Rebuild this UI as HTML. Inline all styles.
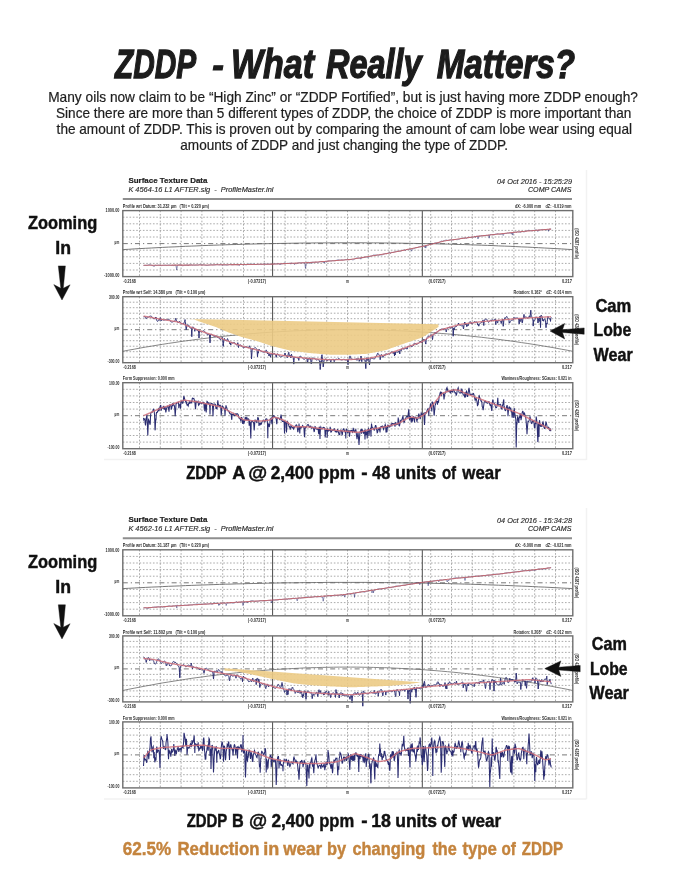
<!DOCTYPE html><html><head><meta charset="utf-8"><title>ZDDP - What Really Matters?</title>
<style>html,body{margin:0;padding:0;background:#fff;}body{width:688px;height:890px;overflow:hidden;position:relative;}svg{position:absolute;left:0;top:0;display:block;}text{font-family:"Liberation Sans",Arial,Helvetica,sans-serif;}</style></head><body>
<svg width="688" height="890" viewBox="0 0 688 890">
<rect x="0" y="0" width="688" height="890" fill="#fff"/>
<text font-size="40.5" font-weight="bold" font-style="italic" fill="#1c1c1c" stroke="#1c1c1c" stroke-width="1.3"><tspan x="115.00" y="78.4" textLength="80.07" lengthAdjust="spacingAndGlyphs">ZDDP</tspan> <tspan x="212.2" y="77.3" font-size="35" stroke-width="1.1">-</tspan> <tspan x="231.00" y="78.4" textLength="83.00" lengthAdjust="spacingAndGlyphs">What</tspan> <tspan x="326.00" y="78.4" textLength="95.64" lengthAdjust="spacingAndGlyphs">Really</tspan> <tspan x="436.70" y="78.4" textLength="138.30" lengthAdjust="spacingAndGlyphs">Matters?</tspan></text>
<text x="48.20" y="101.9" font-size="14.2" fill="#1e1e1e" stroke="#1e1e1e" stroke-width="0.2" textLength="589.79" lengthAdjust="spacingAndGlyphs" >Many oils now claim to be “High Zinc” or “ZDDP Fortified”, but is just having more ZDDP enough?</text>
<text x="56.00" y="118.0" font-size="14.2" fill="#1e1e1e" stroke="#1e1e1e" stroke-width="0.2" textLength="575.31" lengthAdjust="spacingAndGlyphs" >Since there are more than 5 different types of ZDDP, the choice of ZDDP is more important than</text>
<text x="56.60" y="133.8" font-size="14.2" fill="#1e1e1e" stroke="#1e1e1e" stroke-width="0.2" textLength="575.41" lengthAdjust="spacingAndGlyphs" >the amount of ZDDP. This is proven out by comparing the amount of cam lobe wear using equal</text>
<text x="180.30" y="149.5" font-size="14.2" fill="#1e1e1e" stroke="#1e1e1e" stroke-width="0.2" textLength="327.71" lengthAdjust="spacingAndGlyphs" >amounts of ZDDP and just changing the type of ZDDP.</text>
<path d="M586.5,170V460M104,459.5H586.5M586.5,508V799M104,799H586.5" stroke="#f2f2f2" stroke-width="1.5" fill="none"/>
<text x="128.4" y="183.0" font-size="7.6" font-weight="bold" fill="#1e1e1e" stroke="#1e1e1e" stroke-width="0.2" textLength="79" lengthAdjust="spacingAndGlyphs">Surface Texture Data</text>
<text x="128.4" y="192.2" font-size="7.4" font-style="italic" fill="#2a2a2a" stroke="#2a2a2a" stroke-width="0.15" textLength="145" lengthAdjust="spacingAndGlyphs" xml:space="preserve">K 4564-16 L1 AFTER.sig  -  ProfileMaster.ini</text>
<text x="572" y="183.6" font-size="7.4" font-style="italic" fill="#2a2a2a" stroke="#2a2a2a" stroke-width="0.15" text-anchor="end" textLength="75" lengthAdjust="spacingAndGlyphs">04 Oct 2016 - 15:25:29</text>
<text x="571.5" y="192.2" font-size="7.4" font-style="italic" fill="#2a2a2a" stroke="#2a2a2a" stroke-width="0.15" text-anchor="end" textLength="43.5" lengthAdjust="spacingAndGlyphs">COMP CAMS</text>
<line x1="122.8" y1="199.0" x2="572" y2="199.0" stroke="#8e8e8e" stroke-width="2"/>
<path d="M122.8,217.2H572.8M122.8,223.8H572.8M122.8,230.4H572.8M122.8,237.0H572.8M122.8,250.2H572.8M122.8,256.8H572.8M122.8,263.4H572.8M122.8,270.0H572.8" stroke="#8f8f8f" stroke-width="0.75" stroke-dasharray="1.6 1.75" fill="none"/>
<path d="M139.5,210.6V276.6M160.3,210.6V276.6M181.1,210.6V276.6M201.9,210.6V276.6M222.7,210.6V276.6M243.5,210.6V276.6M264.3,210.6V276.6M285.1,210.6V276.6M305.9,210.6V276.6M326.7,210.6V276.6M347.5,210.6V276.6M368.3,210.6V276.6M389.1,210.6V276.6M409.9,210.6V276.6M430.7,210.6V276.6M451.5,210.6V276.6M472.3,210.6V276.6M493.1,210.6V276.6M513.9,210.6V276.6M534.7,210.6V276.6M555.5,210.6V276.6" stroke="#8f8f8f" stroke-width="0.75" stroke-dasharray="1.6 1.75" fill="none"/>
<line x1="122.8" y1="243.6" x2="572.8" y2="243.6" stroke="#6a6a6a" stroke-width="0.9" stroke-dasharray="5 3 1.2 3"/>
<line x1="272.6" y1="210.6" x2="272.6" y2="276.6" stroke="#4a4a4a" stroke-width="1"/>
<line x1="422.3" y1="210.6" x2="422.3" y2="276.6" stroke="#4a4a4a" stroke-width="1"/>
<path d="M122.8,249.6L128.5,249.3L134.2,248.9L139.9,248.6L145.6,248.3L151.3,248.0L157.0,247.7L162.7,247.4L168.4,247.1L174.1,246.9L179.8,246.6L185.5,246.3L191.2,246.1L196.9,245.9L202.5,245.6L208.2,245.4L213.9,245.2L219.6,245.0L225.3,244.8L231.0,244.6L236.7,244.5L242.4,244.3L248.1,244.1L253.8,244.0L259.5,243.8L265.2,243.7L270.9,243.6L276.6,243.5L282.3,243.4L288.0,243.3L293.7,243.2L299.4,243.1L305.1,243.0L310.8,243.0L316.5,242.9L322.2,242.9L327.9,242.9L333.6,242.8L339.3,242.8L345.0,242.8L350.6,242.8L356.3,242.8L362.0,242.8L367.7,242.9L373.4,242.9L379.1,242.9L384.8,243.0L390.5,243.0L396.2,243.1L401.9,243.2L407.6,243.3L413.3,243.4L419.0,243.5L424.7,243.6L430.4,243.7L436.1,243.8L441.8,244.0L447.5,244.1L453.2,244.3L458.9,244.5L464.6,244.6L470.3,244.8L476.0,245.0L481.7,245.2L487.4,245.4L493.1,245.6L498.7,245.9L504.4,246.1L510.1,246.3L515.8,246.6L521.5,246.9L527.2,247.1L532.9,247.4L538.6,247.7L544.3,248.0L550.0,248.3L555.7,248.6L561.4,248.9L567.1,249.3L572.8,249.6" stroke="#6a6a6a" stroke-width="0.9" fill="none"/>
<path d="M143.5,265.5L143.8,265.5L144.0,265.5L144.2,265.5L144.5,265.4L144.8,265.4L145.0,265.4L145.2,265.4L145.5,265.4L145.8,265.4L146.0,265.4L146.2,265.4L146.5,265.4L146.8,265.4L147.0,265.4L147.2,265.3L147.5,265.3L147.8,265.2L148.0,265.1L148.2,265.0L148.5,264.9L148.8,264.8L149.0,264.8L149.2,264.7L149.5,264.7L149.8,264.7L150.0,264.7L150.2,264.7L150.5,264.8L150.8,264.9L151.0,265.0L151.2,265.1L151.5,265.2L151.8,265.2L152.0,265.3L152.2,265.4L152.5,265.6L152.8,265.4L153.0,265.3L153.2,265.4L153.5,265.8L153.8,266.3L154.0,266.7L154.2,266.2L154.5,265.7L154.8,265.2L155.0,265.1L155.2,265.1L155.5,265.2L155.8,265.3L156.0,265.3L156.2,265.4L156.5,265.4L156.8,265.4L157.0,265.4L157.2,265.3L157.5,265.3L157.8,265.3L158.0,265.2L158.2,265.2L158.5,265.2L158.8,265.2L159.0,265.2L159.2,265.2L159.5,265.3L159.8,265.3L160.0,265.3L160.2,265.4L160.5,265.4L160.8,265.5L161.0,265.5L161.2,265.5L161.5,265.6L161.8,265.6L162.0,265.6L162.2,265.5L162.5,265.5L162.8,265.4L163.0,265.4L163.2,265.3L163.5,265.3L163.8,265.2L164.0,265.2L164.2,265.2L164.5,265.2L164.8,265.2L165.0,265.2L165.2,265.2L165.5,265.2L165.8,265.3L166.0,265.3L166.2,265.3L166.5,265.4L166.8,265.4L167.0,265.3L167.2,265.3L167.5,265.3L167.8,265.2L168.0,265.2L168.2,265.2L168.5,265.1L168.8,265.1L169.0,265.1L169.2,265.1L169.5,265.1L169.8,265.1L170.0,265.1L170.2,265.2L170.5,265.2L170.8,265.3L171.0,265.3L171.2,265.4L171.5,265.4L171.8,265.4L172.0,265.4L172.2,265.4L172.5,265.4L172.8,265.3L173.0,265.3L173.2,265.4L173.5,265.6L173.8,265.8L174.0,265.6L174.2,265.3L174.5,265.2L174.8,265.1L175.0,265.1L175.2,265.1L175.5,265.1L175.8,265.1L176.0,265.3L176.2,267.0L176.5,268.5L176.8,270.0L177.0,268.3L177.2,266.8L177.5,265.3L177.8,265.2L178.0,265.2L178.2,265.1L178.5,265.0L178.8,264.9L179.0,264.9L179.2,264.8L179.5,264.8L179.8,264.8L180.0,264.8L180.2,264.9L180.5,264.9L180.8,265.0L181.0,265.1L181.2,265.2L181.5,265.3L181.8,265.4L182.0,265.5L182.2,265.6L182.5,265.7L182.8,265.7L183.0,265.7L183.2,265.6L183.5,265.6L183.8,265.5L184.0,265.4L184.2,265.3L184.5,265.2L184.8,265.1L185.0,265.1L185.2,265.1L185.5,265.4L185.8,265.1L186.0,265.1L186.2,265.1L186.5,265.1L186.8,265.1L187.0,265.1L187.2,265.1L187.5,265.1L187.8,265.1L188.0,265.1L188.2,265.7L188.5,265.1L188.8,264.9L189.0,264.9L189.2,264.9L189.5,264.8L189.8,264.8L190.0,264.8L190.2,264.8L190.5,264.8L190.8,264.8L191.0,264.8L191.2,264.8L191.5,264.8L191.8,264.8L192.0,265.2L192.2,265.5L192.5,265.2L192.8,264.9L193.0,264.9L193.2,265.0L193.5,265.1L193.8,265.1L194.0,265.2L194.2,265.2L194.5,265.2L194.8,265.3L195.0,265.3L195.2,265.2L195.5,265.2L195.8,265.2L196.0,265.2L196.2,265.1L196.5,265.1L196.8,265.1L197.0,265.1L197.2,265.1L197.5,265.1L197.8,265.1L198.0,265.0L198.2,265.0L198.5,264.9L198.8,264.8L199.0,264.7L199.2,264.6L199.5,264.5L199.8,264.5L200.0,264.5L200.2,264.5L200.5,264.6L200.8,264.7L201.0,264.8L201.2,264.8L201.5,264.9L201.8,264.9L202.0,264.9L202.2,264.9L202.5,264.9L202.8,264.9L203.0,264.8L203.2,264.8L203.5,264.8L203.8,264.8L204.0,264.9L204.2,264.9L204.5,265.0L204.8,265.1L205.0,265.2L205.2,265.3L205.5,265.3L205.8,265.4L206.0,265.5L206.2,265.5L206.5,265.5L206.8,265.5L207.0,265.5L207.2,265.5L207.5,265.5L207.8,265.4L208.0,265.4L208.2,265.3L208.5,265.2L208.8,265.2L209.0,265.1L209.2,265.0L209.5,265.0L209.8,264.9L210.0,264.8L210.2,264.8L210.5,264.8L210.8,264.7L211.0,264.7L211.2,264.7L211.5,264.7L211.8,264.7L212.0,264.8L212.2,264.8L212.5,264.9L212.8,264.9L213.0,265.0L213.2,265.0L213.5,265.0L213.8,265.0L214.0,265.0L214.2,265.0L214.5,265.0L214.8,264.9L215.0,264.9L215.2,264.9L215.5,264.8L215.8,264.8L216.0,264.8L216.2,264.7L216.5,264.7L216.8,264.6L217.0,264.6L217.2,264.6L217.5,264.6L217.8,264.6L218.0,264.6L218.2,264.7L218.5,264.8L218.8,265.1L219.0,264.9L219.2,264.8L219.5,264.8L219.8,264.8L220.0,264.7L220.2,264.7L220.5,264.7L220.8,264.7L221.0,264.8L221.2,264.8L221.5,264.9L221.8,264.9L222.0,264.9L222.2,264.9L222.5,265.0L222.8,265.2L223.0,265.0L223.2,264.9L223.5,264.9L223.8,264.9L224.0,264.9L224.2,264.9L224.5,264.9L224.8,264.9L225.0,264.9L225.2,264.9L225.5,264.9L225.8,265.0L226.0,265.0L226.2,265.1L226.5,265.1L226.8,265.1L227.0,265.1L227.2,265.1L227.5,265.1L227.8,265.0L228.0,265.0L228.2,264.9L228.5,264.8L228.8,264.7L229.0,264.6L229.2,264.5L229.5,264.5L229.8,264.5L230.0,264.5L230.2,264.5L230.5,264.5L230.8,264.6L231.0,264.6L231.2,264.7L231.5,264.7L231.8,264.8L232.0,264.8L232.2,264.8L232.5,264.8L232.8,264.8L233.0,264.8L233.2,264.8L233.5,264.7L233.8,264.7L234.0,264.6L234.2,264.6L234.5,264.6L234.8,264.6L235.0,264.6L235.2,264.6L235.5,264.6L235.8,264.6L236.0,264.7L236.2,264.7L236.5,264.7L236.8,264.7L237.0,264.8L237.2,264.8L237.5,264.8L237.8,264.8L238.0,264.8L238.2,264.7L238.5,264.7L238.8,265.0L239.0,265.4L239.2,265.7L239.5,265.3L239.8,264.8L240.0,264.4L240.2,264.4L240.5,264.4L240.8,264.4L241.0,264.4L241.2,264.4L241.5,264.5L241.8,264.5L242.0,264.6L242.2,264.6L242.5,264.7L242.8,264.7L243.0,264.7L243.2,264.7L243.5,264.6L243.8,264.6L244.0,264.6L244.2,264.6L244.5,264.6L244.8,264.6L245.0,264.6L245.2,264.7L245.5,264.7L245.8,264.8L246.0,264.8L246.2,264.8L246.5,264.8L246.8,264.7L247.0,264.7L247.2,264.6L247.5,264.5L247.8,264.4L248.0,264.3L248.2,264.2L248.5,264.1L248.8,264.1L249.0,264.0L249.2,264.0L249.5,264.1L249.8,264.1L250.0,264.2L250.2,264.3L250.5,264.3L250.8,264.4L251.0,264.4L251.2,264.4L251.5,264.4L251.8,264.3L252.0,264.3L252.2,264.3L252.5,264.2L252.8,264.2L253.0,264.2L253.2,264.2L253.5,264.1L253.8,264.2L254.0,264.2L254.2,264.2L254.5,264.3L254.8,264.3L255.0,264.4L255.2,264.4L255.5,264.5L255.8,264.5L256.0,264.5L256.2,264.5L256.5,264.5L256.8,264.5L257.0,264.5L257.2,264.5L257.5,264.5L257.8,264.5L258.0,264.5L258.2,264.6L258.5,264.4L258.8,264.4L259.0,264.4L259.2,264.4L259.5,264.4L259.8,264.4L260.0,264.4L260.2,264.4L260.5,264.4L260.8,264.5L261.0,264.5L261.2,264.5L261.5,264.5L261.8,264.5L262.0,264.4L262.2,264.4L262.5,264.3L262.8,264.3L263.0,264.2L263.2,264.2L263.5,264.1L263.8,264.0L264.0,264.0L264.2,264.0L264.5,263.9L264.8,264.0L265.0,264.0L265.2,264.0L265.5,264.0L265.8,264.1L266.0,264.1L266.2,264.2L266.5,264.2L266.8,264.2L267.0,264.2L267.2,264.2L267.5,264.2L267.8,264.2L268.0,264.1L268.2,264.1L268.5,264.1L268.8,264.1L269.0,264.1L269.2,264.1L269.5,264.1L269.8,264.2L270.0,264.3L270.2,264.5L270.5,264.4L270.8,264.3L271.0,264.3L271.2,264.3L271.5,264.3L271.8,264.3L272.0,264.2L272.2,264.2L272.5,264.2L272.8,264.1L273.0,264.1L273.2,264.1L273.5,264.1L273.8,264.1L274.0,264.1L274.2,264.0L274.5,264.0L274.8,264.0L275.0,263.9L275.2,263.9L275.5,263.9L275.8,263.8L276.0,263.8L276.2,263.8L276.5,263.8L276.8,263.8L277.0,263.8L277.2,263.8L277.5,263.8L277.8,263.8L278.0,263.8L278.2,263.8L278.5,263.8L278.8,263.8L279.0,263.8L279.2,263.8L279.5,264.0L279.8,264.4L280.0,264.9L280.2,264.5L280.5,264.1L280.8,264.0L281.0,264.0L281.2,264.0L281.5,263.9L281.8,263.9L282.0,263.9L282.2,263.8L282.5,263.7L282.8,263.7L283.0,263.6L283.2,263.5L283.5,263.4L283.8,263.3L284.0,263.2L284.2,263.1L284.5,263.1L284.8,263.1L285.0,263.1L285.2,263.2L285.5,263.2L285.8,263.3L286.0,263.4L286.2,263.4L286.5,263.5L286.8,263.5L287.0,263.5L287.2,263.5L287.5,263.4L287.8,263.4L288.0,263.4L288.2,263.4L288.5,263.4L288.8,263.4L289.0,263.4L289.2,263.3L289.5,263.3L289.8,263.2L290.0,263.1L290.2,263.1L290.5,263.6L290.8,264.2L291.0,263.6L291.2,263.0L291.5,263.0L291.8,263.1L292.0,263.2L292.2,263.3L292.5,263.3L292.8,263.4L293.0,263.4L293.2,263.4L293.5,263.5L293.8,263.5L294.0,263.6L294.2,264.1L294.5,264.6L294.8,264.2L295.0,263.7L295.2,263.6L295.5,263.6L295.8,263.6L296.0,263.6L296.2,263.6L296.5,263.6L296.8,263.5L297.0,263.4L297.2,263.3L297.5,263.2L297.8,263.1L298.0,263.0L298.2,262.9L298.5,262.8L298.8,262.8L299.0,262.7L299.2,262.7L299.5,262.7L299.8,262.7L300.0,262.8L300.2,262.8L300.5,262.8L300.8,262.8L301.0,262.8L301.2,262.8L301.5,262.8L301.8,262.8L302.0,262.8L302.2,262.8L302.5,262.9L302.8,262.9L303.0,262.9L303.2,262.9L303.5,262.9L303.8,262.9L304.0,262.9L304.2,262.8L304.5,262.8L304.8,262.7L305.0,264.0L305.2,266.2L305.5,268.3L305.8,266.5L306.0,264.9L306.2,264.2L306.5,263.8L306.8,262.9L307.0,262.4L307.2,262.4L307.5,262.4L307.8,262.4L308.0,262.4L308.2,262.4L308.5,262.4L308.8,262.4L309.0,262.5L309.2,262.5L309.5,262.7L309.8,263.6L310.0,263.1L310.2,262.6L310.5,262.3L310.8,262.3L311.0,262.2L311.2,262.2L311.5,262.1L311.8,262.6L312.0,263.4L312.2,262.6L312.5,262.1L312.8,262.1L313.0,262.1L313.2,262.2L313.5,262.2L313.8,262.3L314.0,262.3L314.2,262.3L314.5,262.3L314.8,262.3L315.0,262.3L315.2,262.2L315.5,262.2L315.8,262.3L316.0,262.3L316.2,262.3L316.5,262.3L316.8,262.3L317.0,262.4L317.2,262.4L317.5,262.4L317.8,262.4L318.0,262.4L318.2,262.3L318.5,262.3L318.8,262.2L319.0,262.1L319.2,262.0L319.5,261.9L319.8,261.8L320.0,261.7L320.2,261.6L320.5,261.6L320.8,261.6L321.0,261.6L321.2,261.6L321.5,261.6L321.8,261.6L322.0,261.7L322.2,261.7L322.5,261.8L322.8,261.8L323.0,261.8L323.2,261.8L323.5,262.1L323.8,262.7L324.0,262.1L324.2,262.0L324.5,262.8L324.8,262.0L325.0,261.8L325.2,261.8L325.5,261.7L325.8,261.9L326.0,262.1L326.2,262.2L326.5,261.9L326.8,261.6L327.0,261.3L327.2,261.2L327.5,261.1L327.8,261.0L328.0,260.9L328.2,260.9L328.5,260.8L328.8,260.8L329.0,260.8L329.2,260.8L329.5,260.8L329.8,260.8L330.0,260.8L330.2,260.8L330.5,260.8L330.8,260.8L331.0,260.8L331.2,260.8L331.5,260.8L331.8,260.8L332.0,260.8L332.2,260.8L332.5,260.7L332.8,260.7L333.0,260.7L333.2,260.7L333.5,260.7L333.8,260.7L334.0,260.6L334.2,260.6L334.5,260.6L334.8,260.6L335.0,260.5L335.2,260.5L335.5,260.5L335.8,260.4L336.0,260.4L336.2,260.3L336.5,260.3L336.8,260.2L337.0,260.1L337.2,260.0L337.5,259.9L337.8,259.8L338.0,259.7L338.2,259.7L338.5,259.8L338.8,259.8L339.0,259.8L339.2,259.9L339.5,260.0L339.8,260.0L340.0,260.0L340.2,260.0L340.5,260.0L340.8,260.0L341.0,260.0L341.2,260.0L341.5,259.9L341.8,259.9L342.0,260.0L342.2,260.0L342.5,260.0L342.8,260.1L343.0,260.1L343.2,260.1L343.5,260.1L343.8,260.1L344.0,260.0L344.2,259.9L344.5,259.8L344.8,259.7L345.0,259.7L345.2,259.6L345.5,259.6L345.8,259.6L346.0,259.6L346.2,259.6L346.5,259.6L346.8,259.6L347.0,259.6L347.2,259.6L347.5,259.6L347.8,259.6L348.0,259.6L348.2,259.6L348.5,259.6L348.8,259.6L349.0,259.7L349.2,259.7L349.5,259.7L349.8,259.6L350.0,259.6L350.2,259.6L350.5,259.5L350.8,259.5L351.0,259.5L351.2,259.5L351.5,259.5L351.8,259.6L352.0,259.6L352.2,259.7L352.5,259.8L352.8,259.8L353.0,259.8L353.2,259.8L353.5,259.7L353.8,259.6L354.0,259.5L354.2,259.4L354.5,259.3L354.8,259.1L355.0,258.9L355.2,258.8L355.5,258.6L355.8,258.4L356.0,258.1L356.2,257.9L356.5,258.0L356.8,258.1L357.0,258.1L357.2,258.1L357.5,258.1L357.8,258.1L358.0,258.2L358.2,258.2L358.5,258.3L358.8,258.3L359.0,258.3L359.2,258.3L359.5,258.3L359.8,258.2L360.0,258.2L360.2,258.1L360.5,258.5L360.8,259.2L361.0,258.5L361.2,258.0L361.5,257.9L361.8,257.9L362.0,257.8L362.2,257.7L362.5,257.7L362.8,257.6L363.0,257.5L363.2,257.4L363.5,257.6L363.8,257.8L364.0,258.0L364.2,257.7L364.5,257.4L364.8,257.1L365.0,257.0L365.2,257.0L365.5,257.0L365.8,257.0L366.0,257.0L366.2,257.0L366.5,257.0L366.8,257.0L367.0,257.0L367.2,257.1L367.5,257.2L367.8,257.2L368.0,257.2L368.2,257.2L368.5,257.2L368.8,257.1L369.0,256.9L369.2,256.8L369.5,256.7L369.8,256.5L370.0,256.4L370.2,256.3L370.5,256.2L370.8,256.1L371.0,256.0L371.2,256.0L371.5,255.9L371.8,255.8L372.0,255.7L372.2,255.6L372.5,255.5L372.8,255.4L373.0,255.3L373.2,255.2L373.5,255.1L373.8,255.0L374.0,255.0L374.2,255.0L374.5,255.1L374.8,255.0L375.0,255.0L375.2,255.0L375.5,255.0L375.8,255.1L376.0,255.1L376.2,255.1L376.5,255.1L376.8,255.1L377.0,255.1L377.2,255.1L377.5,255.1L377.8,255.1L378.0,255.2L378.2,255.2L378.5,255.2L378.8,255.2L379.0,255.1L379.2,255.1L379.5,255.0L379.8,255.0L380.0,254.9L380.2,254.9L380.5,254.9L380.8,254.9L381.0,254.9L381.2,254.9L381.5,254.9L381.8,254.9L382.0,254.8L382.2,254.8L382.5,254.7L382.8,254.6L383.0,254.5L383.2,254.4L383.5,254.2L383.8,254.1L384.0,254.0L384.2,253.9L384.5,253.8L384.8,253.7L385.0,253.6L385.2,253.6L385.5,253.6L385.8,253.6L386.0,253.6L386.2,253.6L386.5,253.6L386.8,253.5L387.0,253.4L387.2,253.4L387.5,253.3L387.8,253.2L388.0,253.0L388.2,252.9L388.5,252.8L388.8,252.8L389.0,252.7L389.2,252.6L389.5,252.5L389.8,252.4L390.0,252.7L390.2,253.1L390.5,253.5L390.8,253.0L391.0,252.6L391.2,252.3L391.5,252.3L391.8,252.4L392.0,252.4L392.2,252.4L392.5,252.4L392.8,252.4L393.0,252.4L393.2,252.4L393.5,252.3L393.8,252.3L394.0,252.2L394.2,252.1L394.5,252.0L394.8,251.9L395.0,251.8L395.2,251.7L395.5,251.6L395.8,251.5L396.0,251.4L396.2,251.4L396.5,251.3L396.8,251.3L397.0,251.3L397.2,251.3L397.5,251.3L397.8,251.3L398.0,251.3L398.2,251.3L398.5,251.3L398.8,251.3L399.0,251.3L399.2,251.3L399.5,251.3L399.8,251.2L400.0,251.2L400.2,251.2L400.5,251.1L400.8,251.1L401.0,251.0L401.2,250.9L401.5,250.9L401.8,250.8L402.0,250.6L402.2,250.5L402.5,250.4L402.8,250.3L403.0,250.3L403.2,250.2L403.5,250.1L403.8,249.9L404.0,249.8L404.2,249.9L404.5,249.9L404.8,250.0L405.0,250.2L405.2,250.4L405.5,250.6L405.8,250.2L406.0,249.9L406.2,249.6L406.5,249.5L406.8,249.5L407.0,249.4L407.2,249.4L407.5,249.3L407.8,249.3L408.0,249.5L408.2,249.7L408.5,249.9L408.8,249.6L409.0,249.3L409.2,249.1L409.5,249.2L409.8,249.2L410.0,249.2L410.2,249.2L410.5,249.3L410.8,249.4L411.0,250.0L411.2,250.6L411.5,251.2L411.8,250.4L412.0,249.7L412.2,248.9L412.5,248.7L412.8,248.6L413.0,248.6L413.2,248.7L413.5,248.8L413.8,248.9L414.0,248.7L414.2,248.5L414.5,248.3L414.8,248.1L415.0,248.0L415.2,247.9L415.5,247.8L415.8,247.8L416.0,247.7L416.2,247.7L416.5,247.7L416.8,247.6L417.0,247.6L417.2,247.5L417.5,247.5L417.8,247.4L418.0,247.3L418.2,247.2L418.5,247.1L418.8,247.1L419.0,247.0L419.2,246.9L419.5,246.8L419.8,246.8L420.0,246.7L420.2,246.6L420.5,246.6L420.8,246.6L421.0,246.5L421.2,246.5L421.5,246.5L421.8,246.5L422.0,246.5L422.2,246.4L422.5,246.4L422.8,246.4L423.0,246.3L423.2,246.3L423.5,246.2L423.8,246.1L424.0,246.0L424.2,246.0L424.5,246.7L424.8,247.5L425.0,246.6L425.2,245.7L425.5,246.8L425.8,248.1L426.0,246.9L426.2,245.9L426.5,245.9L426.8,245.9L427.0,245.9L427.2,245.8L427.5,245.7L427.8,245.6L428.0,245.4L428.2,245.3L428.5,245.1L428.8,245.0L429.0,244.8L429.2,244.7L429.5,244.6L429.8,244.4L430.0,244.3L430.2,244.2L430.5,244.1L430.8,244.0L431.0,243.9L431.2,243.9L431.5,243.9L431.8,243.9L432.0,243.8L432.2,243.8L432.5,243.8L432.8,243.7L433.0,243.7L433.2,243.6L433.5,243.5L433.8,243.4L434.0,243.3L434.2,243.2L434.5,243.1L434.8,243.0L435.0,243.0L435.2,242.9L435.5,242.9L435.8,242.9L436.0,242.9L436.2,242.9L436.5,243.0L436.8,243.0L437.0,243.1L437.2,243.1L437.5,243.1L437.8,243.1L438.0,243.1L438.2,243.0L438.5,242.8L438.8,242.7L439.0,242.5L439.2,242.3L439.5,242.2L439.8,242.0L440.0,241.9L440.2,241.8L440.5,241.7L440.8,241.4L441.0,241.2L441.2,240.9L441.5,241.0L441.8,241.1L442.0,241.1L442.2,241.1L442.5,241.1L442.8,241.4L443.0,241.2L443.2,240.9L443.5,240.7L443.8,240.7L444.0,240.6L444.2,240.6L444.5,240.5L444.8,240.4L445.0,240.4L445.2,240.3L445.5,240.2L445.8,240.2L446.0,240.1L446.2,240.1L446.5,240.1L446.8,240.2L447.0,240.2L447.2,240.3L447.5,240.3L447.8,240.3L448.0,240.3L448.2,240.3L448.5,240.3L448.8,240.3L449.0,240.2L449.2,240.1L449.5,240.0L449.8,239.9L450.0,239.9L450.2,239.8L450.5,239.8L450.8,239.8L451.0,239.8L451.2,239.9L451.5,239.9L451.8,240.0L452.0,240.0L452.2,240.0L452.5,240.0L452.8,240.0L453.0,239.9L453.2,239.9L453.5,239.8L453.8,239.7L454.0,239.6L454.2,239.6L454.5,239.5L454.8,239.5L455.0,239.5L455.2,239.5L455.5,239.5L455.8,239.5L456.0,239.5L456.2,239.6L456.5,239.6L456.8,239.6L457.0,239.6L457.2,239.6L457.5,239.6L457.8,239.6L458.0,239.5L458.2,239.4L458.5,239.3L458.8,239.1L459.0,239.1L459.2,239.2L459.5,239.2L459.8,238.9L460.0,238.6L460.2,238.4L460.5,238.4L460.8,238.3L461.0,238.3L461.2,238.4L461.5,238.4L461.8,238.4L462.0,238.3L462.2,238.3L462.5,238.2L462.8,238.2L463.0,238.1L463.2,238.1L463.5,238.1L463.8,238.1L464.0,238.1L464.2,238.1L464.5,238.1L464.8,238.1L465.0,238.0L465.2,238.0L465.5,237.9L465.8,237.8L466.0,237.7L466.2,237.9L466.5,238.3L466.8,238.6L467.0,238.2L467.2,237.8L467.5,237.5L467.8,237.4L468.0,237.4L468.2,237.3L468.5,237.2L468.8,237.2L469.0,237.2L469.2,237.2L469.5,237.3L469.8,237.4L470.0,237.7L470.2,237.4L470.5,237.4L470.8,237.4L471.0,237.3L471.2,237.3L471.5,237.3L471.8,237.2L472.0,237.1L472.2,237.0L472.5,236.9L472.8,237.1L473.0,237.3L473.2,237.5L473.5,237.2L473.8,236.9L474.0,236.6L474.2,236.5L474.5,236.5L474.8,236.5L475.0,236.6L475.2,237.5L475.5,236.6L475.8,236.4L476.0,236.3L476.2,236.2L476.5,236.2L476.8,236.1L477.0,236.0L477.2,236.0L477.5,236.0L477.8,237.0L478.0,238.9L478.2,237.0L478.5,236.0L478.8,236.0L479.0,236.1L479.2,236.1L479.5,236.0L479.8,236.0L480.0,236.0L480.2,235.9L480.5,235.9L480.8,235.9L481.0,235.8L481.2,235.8L481.5,235.7L481.8,235.7L482.0,235.7L482.2,235.7L482.5,235.7L482.8,235.7L483.0,235.7L483.2,235.7L483.5,235.7L483.8,235.7L484.0,235.7L484.2,235.7L484.5,235.6L484.8,235.6L485.0,235.5L485.2,235.5L485.5,235.4L485.8,235.4L486.0,235.4L486.2,235.4L486.5,235.4L486.8,235.5L487.0,235.5L487.2,235.6L487.5,235.6L487.8,235.6L488.0,235.5L488.2,235.4L488.5,235.3L488.8,235.2L489.0,236.1L489.2,238.2L489.5,235.8L489.8,234.6L490.0,234.5L490.2,234.5L490.5,234.5L490.8,234.5L491.0,234.5L491.2,234.6L491.5,234.6L491.8,234.6L492.0,234.7L492.2,234.7L492.5,234.6L492.8,234.6L493.0,234.5L493.2,234.5L493.5,234.5L493.8,234.9L494.0,235.2L494.2,234.8L494.5,234.4L494.8,234.3L495.0,234.3L495.2,234.3L495.5,234.2L495.8,234.2L496.0,234.1L496.2,234.0L496.5,234.0L496.8,233.9L497.0,233.8L497.2,233.8L497.5,233.8L497.8,233.8L498.0,233.9L498.2,233.9L498.5,234.0L498.8,234.1L499.0,234.2L499.2,234.2L499.5,234.3L499.8,234.3L500.0,234.4L500.2,234.4L500.5,234.4L500.8,234.4L501.0,234.3L501.2,234.3L501.5,234.2L501.8,234.1L502.0,234.0L502.2,233.9L502.5,234.0L502.8,234.5L503.0,234.9L503.2,235.5L503.5,234.9L503.8,234.3L504.0,233.7L504.2,233.5L504.5,233.5L504.8,233.5L505.0,233.5L505.2,233.5L505.5,233.5L505.8,233.5L506.0,233.5L506.2,233.5L506.5,233.4L506.8,233.4L507.0,233.3L507.2,233.2L507.5,233.2L507.8,233.2L508.0,233.1L508.2,233.1L508.5,233.1L508.8,233.1L509.0,233.1L509.2,233.1L509.5,233.0L509.8,233.0L510.0,233.0L510.2,232.9L510.5,232.9L510.8,232.9L511.0,233.2L511.2,233.8L511.5,234.2L511.8,233.6L512.0,232.9L512.2,233.2L512.5,234.2L512.8,235.1L513.0,234.1L513.2,233.0L513.5,232.6L513.8,232.5L514.0,232.5L514.2,232.5L514.5,232.5L514.8,232.4L515.0,232.3L515.2,232.2L515.5,232.1L515.8,232.0L516.0,232.1L516.2,232.2L516.5,232.4L516.8,232.2L517.0,232.0L517.2,231.8L517.5,231.8L517.8,231.9L518.0,231.9L518.2,231.9L518.5,232.0L518.8,232.0L519.0,232.1L519.2,232.3L519.5,232.1L519.8,232.0L520.0,232.0L520.2,232.1L520.5,232.2L520.8,232.3L521.0,232.1L521.2,231.8L521.5,231.6L521.8,231.6L522.0,231.6L522.2,231.6L522.5,231.6L522.8,231.7L523.0,231.8L523.2,231.8L523.5,231.8L523.8,231.9L524.0,231.9L524.2,231.8L524.5,231.8L524.8,231.7L525.0,231.6L525.2,231.5L525.5,231.4L525.8,231.3L526.0,231.2L526.2,231.0L526.5,230.9L526.8,230.8L527.0,230.7L527.2,230.6L527.5,230.5L527.8,230.4L528.0,230.3L528.2,230.3L528.5,230.3L528.8,230.3L529.0,230.3L529.2,230.4L529.5,230.4L529.8,230.5L530.0,230.5L530.2,230.6L530.5,230.7L530.8,230.7L531.0,230.8L531.2,230.8L531.5,230.8L531.8,230.8L532.0,230.8L532.2,230.8L532.5,230.7L532.8,230.7L533.0,230.6L533.2,230.5L533.5,230.5L533.8,230.4L534.0,230.3L534.2,230.3L534.5,230.2L534.8,230.1L535.0,230.0L535.2,230.0L535.5,230.0L535.8,230.0L536.0,230.0L536.2,230.0L536.5,230.0L536.8,230.1L537.0,230.1L537.2,230.1L537.5,230.8L537.8,231.5L538.0,230.8L538.2,230.1L538.5,230.1L538.8,230.0L539.0,230.0L539.2,230.0L539.5,229.9L539.8,229.9L540.0,229.9L540.2,229.9L540.5,229.8L540.8,229.8L541.0,229.8L541.2,229.7L541.5,229.7L541.8,229.6L542.0,229.6L542.2,229.5L542.5,229.5L542.8,229.5L543.0,229.5L543.2,229.5L543.5,229.6L543.8,229.6L544.0,229.6L544.2,229.6L544.5,229.6L544.8,229.6L545.0,229.7L545.2,229.7L545.5,229.7L545.8,229.7L546.0,229.8L546.2,229.8L546.5,229.8L546.8,229.9L547.0,229.9L547.2,229.8L547.5,229.8L547.8,229.7L548.0,229.7L548.2,229.6L548.5,231.3L548.8,229.5L549.0,229.3L549.2,229.3L549.5,229.2L549.8,229.2L550.0,229.2L550.2,229.2L550.5,229.1L550.8,229.1L551.0,229.1L551.2,229.1" stroke="#2b2d72" stroke-width="0.7" fill="none" opacity="0.75"/>
<path d="M143.5,265.3L144.0,265.3L144.5,265.3L145.0,265.3L145.5,265.3L146.0,265.3L146.5,265.3L147.0,265.3L147.5,265.3L148.0,265.3L148.5,265.3L149.0,265.3L149.5,265.3L150.0,265.3L150.5,265.3L151.0,265.3L151.5,265.3L152.0,265.3L152.5,265.3L153.0,265.2L153.5,265.2L154.0,265.2L154.5,265.2L155.0,265.2L155.5,265.2L156.0,265.2L156.5,265.2L157.0,265.2L157.5,265.2L158.0,265.2L158.5,265.2L159.0,265.2L159.5,265.2L160.0,265.2L160.5,265.2L161.0,265.2L161.5,265.2L162.0,265.2L162.5,265.2L163.0,265.2L163.5,265.2L164.0,265.2L164.5,265.2L165.0,265.2L165.5,265.2L166.0,265.2L166.5,265.2L167.0,265.2L167.5,265.2L168.0,265.2L168.5,265.2L169.0,265.2L169.5,265.2L170.0,265.2L170.5,265.2L171.0,265.2L171.5,265.2L172.0,265.1L172.5,265.1L173.0,265.1L173.5,265.1L174.0,265.1L174.5,265.1L175.0,265.1L175.5,265.1L176.0,265.1L176.5,265.1L177.0,265.1L177.5,265.1L178.0,265.1L178.5,265.1L179.0,265.1L179.5,265.1L180.0,265.1L180.5,265.1L181.0,265.1L181.5,265.1L182.0,265.1L182.5,265.1L183.0,265.1L183.5,265.1L184.0,265.1L184.5,265.1L185.0,265.1L185.5,265.1L186.0,265.1L186.5,265.1L187.0,265.1L187.5,265.1L188.0,265.1L188.5,265.1L189.0,265.1L189.5,265.1L190.0,265.1L190.5,265.1L191.0,265.0L191.5,265.0L192.0,265.0L192.5,265.0L193.0,265.0L193.5,265.0L194.0,265.0L194.5,265.0L195.0,265.0L195.5,265.0L196.0,265.0L196.5,265.0L197.0,265.0L197.5,265.0L198.0,265.0L198.5,265.0L199.0,265.0L199.5,265.0L200.0,265.0L200.5,265.0L201.0,265.0L201.5,265.0L202.0,265.0L202.5,265.0L203.0,265.0L203.5,265.0L204.0,265.0L204.5,264.9L205.0,264.9L205.5,264.9L206.0,264.9L206.5,264.9L207.0,264.9L207.5,264.9L208.0,264.9L208.5,264.9L209.0,264.9L209.5,264.9L210.0,264.9L210.5,264.9L211.0,264.9L211.5,264.9L212.0,264.9L212.5,264.9L213.0,264.9L213.5,264.8L214.0,264.8L214.5,264.8L215.0,264.8L215.5,264.8L216.0,264.8L216.5,264.8L217.0,264.8L217.5,264.8L218.0,264.8L218.5,264.8L219.0,264.8L219.5,264.8L220.0,264.8L220.5,264.8L221.0,264.8L221.5,264.8L222.0,264.7L222.5,264.7L223.0,264.7L223.5,264.7L224.0,264.7L224.5,264.7L225.0,264.7L225.5,264.7L226.0,264.7L226.5,264.7L227.0,264.7L227.5,264.7L228.0,264.7L228.5,264.7L229.0,264.7L229.5,264.7L230.0,264.7L230.5,264.7L231.0,264.6L231.5,264.6L232.0,264.6L232.5,264.6L233.0,264.6L233.5,264.6L234.0,264.6L234.5,264.6L235.0,264.6L235.5,264.6L236.0,264.6L236.5,264.6L237.0,264.6L237.5,264.6L238.0,264.6L238.5,264.6L239.0,264.6L239.5,264.5L240.0,264.5L240.5,264.5L241.0,264.5L241.5,264.5L242.0,264.5L242.5,264.5L243.0,264.5L243.5,264.5L244.0,264.5L244.5,264.5L245.0,264.5L245.5,264.5L246.0,264.5L246.5,264.5L247.0,264.5L247.5,264.5L248.0,264.5L248.5,264.4L249.0,264.4L249.5,264.4L250.0,264.4L250.5,264.4L251.0,264.4L251.5,264.4L252.0,264.4L252.5,264.4L253.0,264.4L253.5,264.4L254.0,264.4L254.5,264.4L255.0,264.4L255.5,264.4L256.0,264.4L256.5,264.4L257.0,264.3L257.5,264.3L258.0,264.3L258.5,264.3L259.0,264.3L259.5,264.3L260.0,264.3L260.5,264.3L261.0,264.3L261.5,264.3L262.0,264.3L262.5,264.3L263.0,264.3L263.5,264.3L264.0,264.3L264.5,264.3L265.0,264.3L265.5,264.3L266.0,264.2L266.5,264.2L267.0,264.2L267.5,264.2L268.0,264.2L268.5,264.2L269.0,264.2L269.5,264.2L270.0,264.2L270.5,264.2L271.0,264.2L271.5,264.1L272.0,264.1L272.5,264.1L273.0,264.1L273.5,264.1L274.0,264.0L274.5,264.0L275.0,264.0L275.5,264.0L276.0,263.9L276.5,263.9L277.0,263.9L277.5,263.9L278.0,263.9L278.5,263.8L279.0,263.8L279.5,263.8L280.0,263.8L280.5,263.8L281.0,263.7L281.5,263.7L282.0,263.7L282.5,263.7L283.0,263.6L283.5,263.6L284.0,263.6L284.5,263.6L285.0,263.6L285.5,263.5L286.0,263.5L286.5,263.5L287.0,263.5L287.5,263.5L288.0,263.4L288.5,263.4L289.0,263.4L289.5,263.4L290.0,263.3L290.5,263.3L291.0,263.3L291.5,263.3L292.0,263.3L292.5,263.2L293.0,263.2L293.5,263.2L294.0,263.2L294.5,263.2L295.0,263.1L295.5,263.1L296.0,263.1L296.5,263.1L297.0,263.1L297.5,263.0L298.0,263.0L298.5,263.0L299.0,263.0L299.5,262.9L300.0,262.9L300.5,262.9L301.0,262.9L301.5,262.9L302.0,262.8L302.5,262.8L303.0,262.8L303.5,262.8L304.0,262.8L304.5,262.7L305.0,262.7L305.5,262.7L306.0,262.7L306.5,262.6L307.0,262.6L307.5,262.6L308.0,262.6L308.5,262.6L309.0,262.5L309.5,262.5L310.0,262.5L310.5,262.5L311.0,262.4L311.5,262.4L312.0,262.3L312.5,262.3L313.0,262.3L313.5,262.2L314.0,262.2L314.5,262.2L315.0,262.1L315.5,262.1L316.0,262.1L316.5,262.0L317.0,262.0L317.5,261.9L318.0,261.9L318.5,261.9L319.0,261.8L319.5,261.8L320.0,261.8L320.5,261.7L321.0,261.7L321.5,261.6L322.0,261.6L322.5,261.6L323.0,261.5L323.5,261.5L324.0,261.5L324.5,261.4L325.0,261.4L325.5,261.3L326.0,261.3L326.5,261.3L327.0,261.2L327.5,261.2L328.0,261.1L328.5,261.1L329.0,261.1L329.5,261.0L330.0,261.0L330.5,261.0L331.0,260.9L331.5,260.9L332.0,260.8L332.5,260.8L333.0,260.8L333.5,260.7L334.0,260.7L334.5,260.7L335.0,260.6L335.5,260.6L336.0,260.5L336.5,260.5L337.0,260.5L337.5,260.4L338.0,260.4L338.5,260.4L339.0,260.3L339.5,260.3L340.0,260.2L340.5,260.2L341.0,260.2L341.5,260.1L342.0,260.1L342.5,260.1L343.0,260.0L343.5,260.0L344.0,259.9L344.5,259.9L345.0,259.9L345.5,259.8L346.0,259.8L346.5,259.8L347.0,259.7L347.5,259.7L348.0,259.6L348.5,259.6L349.0,259.6L349.5,259.5L350.0,259.5L350.5,259.4L351.0,259.3L351.5,259.3L352.0,259.2L352.5,259.1L353.0,259.0L353.5,258.9L354.0,258.8L354.5,258.8L355.0,258.7L355.5,258.6L356.0,258.5L356.5,258.4L357.0,258.4L357.5,258.3L358.0,258.2L358.5,258.1L359.0,258.0L359.5,258.0L360.0,257.9L360.5,257.8L361.0,257.7L361.5,257.6L362.0,257.6L362.5,257.5L363.0,257.4L363.5,257.3L364.0,257.2L364.5,257.1L365.0,257.1L365.5,257.0L366.0,256.9L366.5,256.8L367.0,256.7L367.5,256.7L368.0,256.6L368.5,256.5L369.0,256.4L369.5,256.3L370.0,256.2L370.5,256.2L371.0,256.1L371.5,256.0L372.0,255.9L372.5,255.8L373.0,255.8L373.5,255.7L374.0,255.6L374.5,255.5L375.0,255.4L375.5,255.4L376.0,255.3L376.5,255.2L377.0,255.1L377.5,255.0L378.0,254.9L378.5,254.9L379.0,254.8L379.5,254.7L380.0,254.6L380.5,254.5L381.0,254.5L381.5,254.4L382.0,254.3L382.5,254.2L383.0,254.1L383.5,254.1L384.0,254.0L384.5,253.9L385.0,253.8L385.5,253.7L386.0,253.6L386.5,253.6L387.0,253.5L387.5,253.4L388.0,253.3L388.5,253.2L389.0,253.2L389.5,253.1L390.0,253.0L390.5,252.9L391.0,252.8L391.5,252.7L392.0,252.6L392.5,252.5L393.0,252.4L393.5,252.3L394.0,252.2L394.5,252.1L395.0,252.0L395.5,251.9L396.0,251.8L396.5,251.7L397.0,251.6L397.5,251.5L398.0,251.4L398.5,251.3L399.0,251.2L399.5,251.1L400.0,251.0L400.5,250.9L401.0,250.8L401.5,250.7L402.0,250.6L402.5,250.5L403.0,250.4L403.5,250.3L404.0,250.2L404.5,250.1L405.0,250.0L405.5,249.9L406.0,249.8L406.5,249.6L407.0,249.5L407.5,249.4L408.0,249.3L408.5,249.2L409.0,249.1L409.5,249.0L410.0,248.9L410.5,248.8L411.0,248.7L411.5,248.6L412.0,248.5L412.5,248.4L413.0,248.3L413.5,248.2L414.0,248.1L414.5,248.0L415.0,247.9L415.5,247.8L416.0,247.7L416.5,247.6L417.0,247.5L417.5,247.4L418.0,247.3L418.5,247.2L419.0,247.1L419.5,247.0L420.0,246.9L420.5,246.8L421.0,246.7L421.5,246.6L422.0,246.5L422.5,246.4L423.0,246.2L423.5,246.1L424.0,246.0L424.5,245.9L425.0,245.8L425.5,245.6L426.0,245.5L426.5,245.4L427.0,245.3L427.5,245.1L428.0,245.0L428.5,244.9L429.0,244.8L429.5,244.6L430.0,244.5L430.5,244.4L431.0,244.3L431.5,244.1L432.0,244.0L432.5,243.9L433.0,243.8L433.5,243.6L434.0,243.5L434.5,243.4L435.0,243.3L435.5,243.2L436.0,243.0L436.5,242.9L437.0,242.8L437.5,242.7L438.0,242.5L438.5,242.4L439.0,242.3L439.5,242.2L440.0,242.0L440.5,241.9L441.0,241.8L441.5,241.7L442.0,241.5L442.5,241.4L443.0,241.3L443.5,241.2L444.0,241.1L444.5,241.0L445.0,240.9L445.5,240.8L446.0,240.7L446.5,240.6L447.0,240.5L447.5,240.5L448.0,240.4L448.5,240.3L449.0,240.3L449.5,240.2L450.0,240.1L450.5,240.0L451.0,240.0L451.5,239.9L452.0,239.8L452.5,239.8L453.0,239.7L453.5,239.6L454.0,239.6L454.5,239.5L455.0,239.4L455.5,239.4L456.0,239.3L456.5,239.2L457.0,239.2L457.5,239.1L458.0,239.0L458.5,238.9L459.0,238.9L459.5,238.8L460.0,238.7L460.5,238.7L461.0,238.6L461.5,238.5L462.0,238.5L462.5,238.4L463.0,238.3L463.5,238.3L464.0,238.2L464.5,238.1L465.0,238.1L465.5,238.0L466.0,237.9L466.5,237.9L467.0,237.8L467.5,237.7L468.0,237.6L468.5,237.6L469.0,237.5L469.5,237.4L470.0,237.4L470.5,237.3L471.0,237.2L471.5,237.2L472.0,237.1L472.5,237.0L473.0,237.0L473.5,236.9L474.0,236.8L474.5,236.8L475.0,236.7L475.5,236.6L476.0,236.5L476.5,236.5L477.0,236.4L477.5,236.3L478.0,236.3L478.5,236.2L479.0,236.1L479.5,236.1L480.0,236.0L480.5,236.0L481.0,235.9L481.5,235.8L482.0,235.8L482.5,235.7L483.0,235.7L483.5,235.6L484.0,235.6L484.5,235.5L485.0,235.5L485.5,235.4L486.0,235.4L486.5,235.3L487.0,235.2L487.5,235.2L488.0,235.1L488.5,235.1L489.0,235.0L489.5,235.0L490.0,234.9L490.5,234.9L491.0,234.8L491.5,234.8L492.0,234.7L492.5,234.7L493.0,234.6L493.5,234.5L494.0,234.5L494.5,234.4L495.0,234.4L495.5,234.3L496.0,234.3L496.5,234.2L497.0,234.2L497.5,234.1L498.0,234.1L498.5,234.0L499.0,234.0L499.5,233.9L500.0,233.8L500.5,233.8L501.0,233.7L501.5,233.7L502.0,233.6L502.5,233.6L503.0,233.5L503.5,233.5L504.0,233.4L504.5,233.4L505.0,233.3L505.5,233.3L506.0,233.2L506.5,233.2L507.0,233.1L507.5,233.0L508.0,233.0L508.5,232.9L509.0,232.9L509.5,232.8L510.0,232.8L510.5,232.7L511.0,232.7L511.5,232.6L512.0,232.6L512.5,232.5L513.0,232.5L513.5,232.4L514.0,232.3L514.5,232.3L515.0,232.2L515.5,232.2L516.0,232.1L516.5,232.1L517.0,232.0L517.5,232.0L518.0,231.9L518.5,231.9L519.0,231.8L519.5,231.8L520.0,231.7L520.5,231.7L521.0,231.6L521.5,231.6L522.0,231.5L522.5,231.5L523.0,231.4L523.5,231.4L524.0,231.4L524.5,231.3L525.0,231.3L525.5,231.2L526.0,231.2L526.5,231.1L527.0,231.1L527.5,231.0L528.0,231.0L528.5,231.0L529.0,230.9L529.5,230.9L530.0,230.8L530.5,230.8L531.0,230.7L531.5,230.7L532.0,230.7L532.5,230.6L533.0,230.6L533.5,230.5L534.0,230.5L534.5,230.4L535.0,230.4L535.5,230.3L536.0,230.3L536.5,230.3L537.0,230.2L537.5,230.2L538.0,230.1L538.5,230.1L539.0,230.0L539.5,230.0L540.0,230.0L540.5,229.9L541.0,229.9L541.5,229.8L542.0,229.8L542.5,229.7L543.0,229.7L543.5,229.7L544.0,229.6L544.5,229.6L545.0,229.5L545.5,229.5L546.0,229.4L546.5,229.4L547.0,229.3L547.5,229.3L548.0,229.3L548.5,229.2L549.0,229.2L549.5,229.1L550.0,229.1L550.5,229.1L551.0,229.0" stroke="#c0646c" stroke-width="1.05" fill="none" opacity="0.9"/>
<rect x="122.8" y="210.6" width="450.0" height="66.0" fill="none" stroke="#6e6e6e" stroke-width="1.4"/>
<text x="122.8" y="208.2" font-size="4.9" font-weight="bold" fill="#2e2e2e" textLength="86.3" lengthAdjust="spacingAndGlyphs" xml:space="preserve" >Profile wrt Datum: 31.232 µm   (Tilt = 0.220 µm)</text>
<text x="571.5" y="208.2" font-size="4.9" font-weight="bold" fill="#2e2e2e" text-anchor="end" textLength="56.5" lengthAdjust="spacingAndGlyphs" xml:space="preserve" >dX: -6.000 mm    dZ: -0.019 mm</text>
<text x="119.5" y="212.4" font-size="4.9" font-weight="bold" fill="#2e2e2e" text-anchor="end" textLength="13.9" lengthAdjust="spacingAndGlyphs" xml:space="preserve" >1000.00</text>
<text x="119.2" y="244.0" font-size="4.9" font-weight="bold" fill="#2e2e2e" text-anchor="end" textLength="4.6" lengthAdjust="spacingAndGlyphs" xml:space="preserve" >µm</text>
<text x="119.5" y="276.8" font-size="4.9" font-weight="bold" fill="#2e2e2e" text-anchor="end" textLength="15.5" lengthAdjust="spacingAndGlyphs" xml:space="preserve" >-1000.00</text>
<text x="123.2" y="282.9" font-size="4.9" font-weight="bold" fill="#2e2e2e" textLength="12.6" lengthAdjust="spacingAndGlyphs" xml:space="preserve" >-0.2168</text>
<text x="257.0" y="282.9" font-size="4.9" font-weight="bold" fill="#2e2e2e" text-anchor="middle" textLength="18.3" lengthAdjust="spacingAndGlyphs" xml:space="preserve" >(-0.07217)</text>
<text x="347.4" y="282.9" font-size="4.9" font-weight="bold" fill="#2e2e2e" text-anchor="middle" textLength="2.9" lengthAdjust="spacingAndGlyphs" xml:space="preserve" >m</text>
<text x="437.1" y="282.9" font-size="4.9" font-weight="bold" fill="#2e2e2e" text-anchor="middle" textLength="17.0" lengthAdjust="spacingAndGlyphs" xml:space="preserve" >(0.07217)</text>
<text x="572.0" y="282.9" font-size="4.9" font-weight="bold" fill="#2e2e2e" text-anchor="end" textLength="10" lengthAdjust="spacingAndGlyphs" xml:space="preserve" >0.217</text>
<text x="0.0" y="0.0" font-size="4.6" font-weight="bold" fill="#333" text-anchor="middle" textLength="30.8" lengthAdjust="spacingAndGlyphs" xml:space="preserve" transform="translate(575.4,243.6) rotate(90)">(ISO 4287 profile)</text>
<path d="M122.8,302.2H572.8M122.8,307.7H572.8M122.8,313.2H572.8M122.8,318.7H572.8M122.8,324.2H572.8M122.8,335.2H572.8M122.8,340.7H572.8M122.8,346.2H572.8M122.8,351.7H572.8M122.8,357.2H572.8" stroke="#8f8f8f" stroke-width="0.75" stroke-dasharray="1.6 1.75" fill="none"/>
<path d="M139.5,296.7V362.7M160.3,296.7V362.7M181.1,296.7V362.7M201.9,296.7V362.7M222.7,296.7V362.7M243.5,296.7V362.7M264.3,296.7V362.7M285.1,296.7V362.7M305.9,296.7V362.7M326.7,296.7V362.7M347.5,296.7V362.7M368.3,296.7V362.7M389.1,296.7V362.7M409.9,296.7V362.7M430.7,296.7V362.7M451.5,296.7V362.7M472.3,296.7V362.7M493.1,296.7V362.7M513.9,296.7V362.7M534.7,296.7V362.7M555.5,296.7V362.7" stroke="#8f8f8f" stroke-width="0.75" stroke-dasharray="1.6 1.75" fill="none"/>
<line x1="122.8" y1="329.7" x2="572.8" y2="329.7" stroke="#6a6a6a" stroke-width="0.9" stroke-dasharray="5 3 1.2 3"/>
<line x1="272.6" y1="296.7" x2="272.6" y2="362.7" stroke="#4a4a4a" stroke-width="1"/>
<line x1="422.3" y1="296.7" x2="422.3" y2="362.7" stroke="#4a4a4a" stroke-width="1"/>
<path d="M122.8,351.3L128.5,350.2L134.2,349.2L139.9,348.1L145.6,347.1L151.3,346.2L157.0,345.2L162.7,344.3L168.4,343.4L174.1,342.6L179.8,341.7L185.5,340.9L191.2,340.2L196.9,339.4L202.5,338.7L208.2,338.0L213.9,337.3L219.6,336.7L225.3,336.1L231.0,335.5L236.7,335.0L242.4,334.4L248.1,333.9L253.8,333.5L259.5,333.0L265.2,332.6L270.9,332.2L276.6,331.9L282.3,331.5L288.0,331.2L293.7,330.9L299.4,330.7L305.1,330.5L310.8,330.3L316.5,330.1L322.2,330.0L327.9,329.9L333.6,329.8L339.3,329.7L345.0,329.7L350.6,329.7L356.3,329.7L362.0,329.8L367.7,329.9L373.4,330.0L379.1,330.1L384.8,330.3L390.5,330.5L396.2,330.7L401.9,330.9L407.6,331.2L413.3,331.5L419.0,331.9L424.7,332.2L430.4,332.6L436.1,333.0L441.8,333.5L447.5,333.9L453.2,334.4L458.9,335.0L464.6,335.5L470.3,336.1L476.0,336.7L481.7,337.3L487.4,338.0L493.1,338.7L498.7,339.4L504.4,340.2L510.1,340.9L515.8,341.7L521.5,342.6L527.2,343.4L532.9,344.3L538.6,345.2L544.3,346.2L550.0,347.1L555.7,348.1L561.4,349.2L567.1,350.2L572.8,351.3" stroke="#6a6a6a" stroke-width="0.9" fill="none" opacity="0.9"/>
<path d="M189.0,318.9L438.5,324.2L438.5,327.0L438.0,327.3L437.5,327.6L437.0,328.0L436.5,328.3L436.0,328.6L435.5,328.9L435.0,329.2L434.5,329.6L434.0,329.9L433.5,330.2L433.0,330.5L432.5,330.8L432.0,331.2L431.5,331.5L431.0,331.8L430.5,332.1L430.0,332.5L429.5,332.8L429.0,333.1L428.5,333.4L428.0,333.7L427.5,334.1L427.0,334.4L426.5,334.7L426.0,335.0L425.5,335.3L425.0,335.7L424.5,336.0L424.0,336.3L423.5,336.6L423.0,336.9L422.5,337.2L422.0,337.4L421.5,337.7L421.0,337.9L420.5,338.1L420.0,338.3L419.5,338.4L419.0,338.6L418.5,338.8L418.0,338.9L417.5,339.1L417.0,339.3L416.5,339.4L416.0,339.6L415.5,339.8L415.0,339.9L414.5,340.1L414.0,340.3L413.5,340.5L413.0,340.6L412.5,340.8L412.0,341.0L411.5,341.1L411.0,341.3L410.5,341.5L410.0,341.6L409.5,341.8L409.0,342.0L408.5,342.1L408.0,342.3L407.5,342.5L407.0,342.6L406.5,342.8L406.0,343.0L405.5,343.1L405.0,343.3L404.5,343.5L404.0,343.7L403.5,343.8L403.0,344.0L402.5,344.2L402.0,344.3L401.5,344.5L401.0,344.7L400.5,344.8L400.0,345.0L399.5,345.2L399.0,345.4L398.5,345.5L398.0,345.7L397.5,345.9L397.0,346.1L396.5,346.3L396.0,346.5L395.5,346.6L395.0,346.8L394.5,347.0L394.0,347.2L393.5,347.4L393.0,347.5L392.5,347.7L392.0,347.9L391.5,348.1L391.0,348.3L390.5,348.5L390.0,348.6L389.5,348.8L389.0,349.0L388.5,349.2L388.0,349.4L387.5,349.5L387.0,349.7L386.5,349.9L386.0,350.0L385.5,350.2L385.0,350.3L384.5,350.4L384.0,350.5L383.5,350.6L383.0,350.7L382.5,350.8L382.0,350.9L381.5,351.0L381.0,351.1L380.5,351.2L380.0,351.3L379.5,351.4L379.0,351.5L378.5,351.6L378.0,351.7L377.5,351.8L377.0,351.9L376.5,352.0L376.0,352.1L375.5,352.2L375.0,352.3L374.5,352.4L374.0,352.5L373.5,352.6L373.0,352.7L372.5,352.8L372.0,352.9L371.5,353.0L371.0,353.0L370.5,353.1L370.0,353.2L369.5,353.3L369.0,353.4L368.5,353.5L368.0,353.6L367.5,353.7L367.0,353.8L366.5,353.8L366.0,353.9L365.5,353.9L365.0,354.0L364.5,354.0L364.0,354.0L363.5,354.0L363.0,354.1L362.5,354.1L362.0,354.1L361.5,354.1L361.0,354.2L360.5,354.2L360.0,354.2L359.5,354.2L359.0,354.3L358.5,354.3L358.0,354.3L357.5,354.3L357.0,354.4L356.5,354.4L356.0,354.4L355.5,354.4L355.0,354.5L354.5,354.5L354.0,354.5L353.5,354.5L353.0,354.6L352.5,354.6L352.0,354.6L351.5,354.6L351.0,354.7L350.5,354.7L350.0,354.7L349.5,354.7L349.0,354.8L348.5,354.8L348.0,354.8L347.5,354.8L347.0,354.8L346.5,354.8L346.0,354.8L345.5,354.8L345.0,354.8L344.5,354.8L344.0,354.8L343.5,354.8L343.0,354.8L342.5,354.8L342.0,354.8L341.5,354.8L341.0,354.8L340.5,354.8L340.0,354.8L339.5,354.8L339.0,354.8L338.5,354.8L338.0,354.8L337.5,354.8L337.0,354.7L336.5,354.7L336.0,354.7L335.5,354.7L335.0,354.7L334.5,354.7L334.0,354.7L333.5,354.7L333.0,354.7L332.5,354.7L332.0,354.7L331.5,354.7L331.0,354.7L330.5,354.7L330.0,354.7L329.5,354.7L329.0,354.6L328.5,354.6L328.0,354.6L327.5,354.5L327.0,354.5L326.5,354.5L326.0,354.4L325.5,354.4L325.0,354.3L324.5,354.3L324.0,354.3L323.5,354.2L323.0,354.2L322.5,354.1L322.0,354.1L321.5,354.1L321.0,354.0L320.5,354.0L320.0,353.9L319.5,353.9L319.0,353.8L318.5,353.8L318.0,353.8L317.5,353.7L317.0,353.7L316.5,353.6L316.0,353.6L315.5,353.6L315.0,353.5L314.5,353.5L314.0,353.4L313.5,353.4L313.0,353.3L312.5,353.3L312.0,353.3L311.5,353.2L311.0,353.2L310.5,353.1L310.0,353.1L309.5,353.0L309.0,353.0L308.5,352.9L308.0,352.8L307.5,352.8L307.0,352.7L306.5,352.7L306.0,352.6L305.5,352.5L305.0,352.5L304.5,352.4L304.0,352.3L303.5,352.3L303.0,352.2L302.5,352.1L302.0,352.1L301.5,352.0L301.0,352.0L300.5,351.9L300.0,351.8L299.5,351.8L299.0,351.7L298.5,351.6L298.0,351.6L297.5,351.5L297.0,351.5L296.5,351.4L296.0,351.3L295.5,351.3L295.0,351.2L294.5,351.1L294.0,351.1L293.5,351.0L293.0,351.0L292.5,350.9L292.0,350.8L291.5,350.7L291.0,350.7L290.5,350.6L290.0,350.5L289.5,350.4L289.0,350.3L288.5,350.1L288.0,350.0L287.5,349.9L287.0,349.8L286.5,349.7L286.0,349.5L285.5,349.4L285.0,349.3L284.5,349.2L284.0,349.0L283.5,348.9L283.0,348.8L282.5,348.7L282.0,348.6L281.5,348.4L281.0,348.3L280.5,348.2L280.0,348.1L279.5,347.9L279.0,347.8L278.5,347.7L278.0,347.6L277.5,347.5L277.0,347.3L276.5,347.2L276.0,347.1L275.5,347.0L275.0,346.8L274.5,346.7L274.0,346.6L273.5,346.5L273.0,346.3L272.5,346.2L272.0,346.0L271.5,345.9L271.0,345.7L270.5,345.6L270.0,345.4L269.5,345.3L269.0,345.1L268.5,344.9L268.0,344.8L267.5,344.6L267.0,344.4L266.5,344.3L266.0,344.1L265.5,343.9L265.0,343.8L264.5,343.6L264.0,343.5L263.5,343.3L263.0,343.1L262.5,343.0L262.0,342.8L261.5,342.6L261.0,342.5L260.5,342.3L260.0,342.1L259.5,342.0L259.0,341.8L258.5,341.6L258.0,341.5L257.5,341.3L257.0,341.1L256.5,341.0L256.0,340.8L255.5,340.7L255.0,340.5L254.5,340.4L254.0,340.2L253.5,340.1L253.0,340.0L252.5,339.9L252.0,339.7L251.5,339.6L251.0,339.5L250.5,339.3L250.0,339.2L249.5,339.1L249.0,338.9L248.5,338.8L248.0,338.7L247.5,338.5L247.0,338.4L246.5,338.3L246.0,338.2L245.5,338.0L245.0,337.9L244.5,337.8L244.0,337.6L243.5,337.5L243.0,337.3L242.5,337.2L242.0,337.1L241.5,336.9L241.0,336.7L240.5,336.6L240.0,336.4L239.5,336.2L239.0,336.0L238.5,335.9L238.0,335.7L237.5,335.5L237.0,335.3L236.5,335.2L236.0,335.0L235.5,334.8L235.0,334.6L234.5,334.5L234.0,334.3L233.5,334.1L233.0,333.9L232.5,333.8L232.0,333.6L231.5,333.4L231.0,333.2L230.5,333.1L230.0,332.9L229.5,332.7L229.0,332.5L228.5,332.4L228.0,332.2L227.5,332.0L227.0,331.8L226.5,331.6L226.0,331.4L225.5,331.2L225.0,331.0L224.5,330.8L224.0,330.5L223.5,330.3L223.0,330.1L222.5,329.9L222.0,329.7L221.5,329.5L221.0,329.2L220.5,329.0L220.0,328.8L219.5,328.6L219.0,328.4L218.5,328.2L218.0,327.9L217.5,327.7L217.0,327.5L216.5,327.3L216.0,327.1L215.5,326.9L215.0,326.7L214.5,326.6L214.0,326.4L213.5,326.2L213.0,326.1L212.5,325.9L212.0,325.7L211.5,325.6L211.0,325.4L210.5,325.2L210.0,325.1L209.5,324.9L209.0,324.8L208.5,324.6L208.0,324.4L207.5,324.3L207.0,324.1L206.5,323.9L206.0,323.8L205.5,323.6L205.0,323.5L204.5,323.3L204.0,323.1L203.5,323.0L203.0,322.8L202.5,322.6L202.0,322.5L201.5,322.3L201.0,322.1L200.5,322.0L200.0,321.8L199.5,321.6L199.0,321.4L198.5,321.2L198.0,321.0L197.5,320.8L197.0,320.6L196.5,320.4L196.0,320.2L195.5,320.0L195.0,319.8L194.5,319.6L194.0,319.4L193.5,319.2L193.0,319.0L192.5,319.0L192.0,319.0L191.5,319.0L191.0,318.9L190.5,318.9L190.0,318.9L189.5,318.9L189.0,318.9Z" fill="#eccb85" opacity="0.9"/>
<path d="M143.5,316.9L143.8,316.9L144.0,316.9L144.2,316.8L144.5,316.7L144.8,316.5L145.0,316.5L145.2,317.1L145.5,317.7L145.8,318.4L146.0,318.3L146.2,318.3L146.5,318.4L146.8,317.9L147.0,317.5L147.2,317.1L147.5,317.1L147.8,317.0L148.0,317.1L148.2,317.2L148.5,317.1L148.8,317.0L149.0,316.8L149.2,316.6L149.5,316.4L149.8,316.2L150.0,316.1L150.2,316.1L150.5,316.1L150.8,316.1L151.0,316.1L151.2,316.2L151.5,316.4L151.8,316.6L152.0,316.8L152.2,317.3L152.5,317.7L152.8,318.2L153.0,318.3L153.2,318.5L153.5,318.5L153.8,318.6L154.0,318.5L154.2,318.6L154.5,318.8L154.8,318.4L155.0,318.2L155.2,318.0L155.5,317.4L155.8,318.0L156.0,317.2L156.2,319.1L156.5,320.0L156.8,320.5L157.0,320.9L157.2,321.2L157.5,321.3L157.8,321.3L158.0,321.2L158.2,320.8L158.5,320.4L158.8,319.9L159.0,319.3L159.2,318.8L159.5,319.5L159.8,320.4L160.0,319.0L160.2,317.7L160.5,317.8L160.8,318.5L161.0,319.6L161.2,320.8L161.5,320.2L161.8,319.7L162.0,319.4L162.2,319.6L162.5,319.7L162.8,319.8L163.0,319.9L163.2,320.0L163.5,320.1L163.8,320.1L164.0,320.1L164.2,320.1L164.5,320.0L164.8,319.9L165.0,319.9L165.2,319.8L165.5,319.8L165.8,319.8L166.0,319.8L166.2,319.8L166.5,319.8L166.8,319.8L167.0,319.9L167.2,319.9L167.5,320.0L167.8,319.6L168.0,319.3L168.2,319.1L168.5,319.1L168.8,319.2L169.0,319.4L169.2,319.6L169.5,320.0L169.8,320.3L170.0,320.7L170.2,321.0L170.5,321.3L170.8,321.7L171.0,321.8L171.2,321.9L171.5,322.0L171.8,322.0L172.0,322.1L172.2,322.0L172.5,322.0L172.8,321.9L173.0,321.8L173.2,321.7L173.5,321.6L173.8,321.5L174.0,321.5L174.2,321.4L174.5,321.4L174.8,321.4L175.0,320.8L175.2,320.1L175.5,319.3L175.8,318.3L176.0,319.0L176.2,319.8L176.5,320.7L176.8,321.3L177.0,321.4L177.2,321.5L177.5,321.6L177.8,322.1L178.0,322.6L178.2,323.0L178.5,322.5L178.8,322.0L179.0,321.5L179.2,321.5L179.5,321.5L179.8,321.6L180.0,321.8L180.2,322.1L180.5,322.5L180.8,322.8L181.0,323.2L181.2,323.4L181.5,323.6L181.8,323.8L182.0,323.8L182.2,323.8L182.5,323.7L182.8,323.6L183.0,323.5L183.2,323.5L183.5,323.5L183.8,323.6L184.0,323.6L184.2,322.2L184.5,321.5L184.8,320.6L185.0,319.6L185.2,321.3L185.5,322.9L185.8,325.3L186.0,328.1L186.2,329.7L186.5,328.1L186.8,326.4L187.0,325.6L187.2,325.2L187.5,324.9L187.8,324.8L188.0,324.7L188.2,324.8L188.5,325.0L188.8,325.4L189.0,326.1L189.2,326.9L189.5,326.9L189.8,327.0L190.0,327.4L190.2,327.8L190.5,328.0L190.8,328.2L191.0,328.3L191.2,328.3L191.5,329.3L191.8,336.7L192.0,329.3L192.2,327.8L192.5,327.3L192.8,326.8L193.0,327.1L193.2,327.4L193.5,327.6L193.8,327.5L194.0,327.7L194.2,328.1L194.5,329.7L194.8,331.3L195.0,330.2L195.2,329.0L195.5,329.0L195.8,329.2L196.0,329.4L196.2,329.6L196.5,329.8L196.8,330.1L197.0,330.3L197.2,330.5L197.5,330.6L197.8,330.8L198.0,330.9L198.2,330.9L198.5,331.0L198.8,333.6L199.0,338.0L199.2,333.7L199.5,331.1L199.8,331.2L200.0,331.3L200.2,331.5L200.5,331.6L200.8,331.8L201.0,331.9L201.2,332.0L201.5,332.0L201.8,331.9L202.0,331.8L202.2,331.6L202.5,331.4L202.8,331.2L203.0,331.0L203.2,330.9L203.5,330.8L203.8,330.8L204.0,330.9L204.2,331.1L204.5,331.3L204.8,331.6L205.0,331.8L205.2,332.0L205.5,332.4L205.8,332.8L206.0,333.1L206.2,333.5L206.5,333.9L206.8,334.2L207.0,334.5L207.2,334.6L207.5,334.7L207.8,334.7L208.0,334.7L208.2,334.6L208.5,334.6L208.8,334.6L209.0,334.6L209.2,334.7L209.5,334.7L209.8,338.7L210.0,342.9L210.2,338.6L210.5,334.5L210.8,334.4L211.0,334.4L211.2,334.3L211.5,334.3L211.8,334.4L212.0,334.6L212.2,334.8L212.5,335.0L212.8,335.3L213.0,335.5L213.2,335.8L213.5,336.0L213.8,336.1L214.0,336.2L214.2,336.3L214.5,336.3L214.8,336.3L215.0,336.3L215.2,336.3L215.5,336.3L215.8,336.1L216.0,335.9L216.2,335.7L216.5,336.1L216.8,336.5L217.0,336.9L217.2,337.1L217.5,337.3L217.8,337.4L218.0,337.6L218.2,337.7L218.5,337.8L218.8,337.9L219.0,338.1L219.2,338.3L219.5,338.5L219.8,338.7L220.0,338.9L220.2,339.5L220.5,339.9L220.8,339.4L221.0,338.9L221.2,338.6L221.5,338.3L221.8,337.9L222.0,337.6L222.2,337.3L222.5,338.3L222.8,340.4L223.0,343.3L223.2,346.4L223.5,343.5L223.8,340.5L224.0,339.9L224.2,339.3L224.5,338.5L224.8,339.5L225.0,340.3L225.2,340.4L225.5,340.5L225.8,340.6L226.0,340.7L226.2,340.7L226.5,340.7L226.8,340.6L227.0,340.0L227.2,339.3L227.5,338.6L227.8,339.2L228.0,339.9L228.2,340.4L228.5,340.6L228.8,340.9L229.0,341.1L229.2,341.3L229.5,342.5L229.8,343.8L230.0,343.8L230.2,342.9L230.5,344.0L230.8,345.1L231.0,343.7L231.2,342.3L231.5,342.5L231.8,342.6L232.0,342.8L232.2,342.9L232.5,343.0L232.8,343.0L233.0,342.9L233.2,342.7L233.5,342.5L233.8,342.5L234.0,342.5L234.2,342.5L234.5,342.6L234.8,342.8L235.0,343.1L235.2,343.5L235.5,343.9L235.8,344.2L236.0,344.6L236.2,344.8L236.5,344.9L236.8,345.0L237.0,345.0L237.2,344.9L237.5,344.1L237.8,342.7L238.0,343.9L238.2,345.7L238.5,347.5L238.8,346.1L239.0,345.2L239.2,345.8L239.5,345.4L239.8,345.1L240.0,344.9L240.2,344.9L240.5,345.0L240.8,345.1L241.0,345.3L241.2,345.5L241.5,345.8L241.8,346.0L242.0,346.4L242.2,346.7L242.5,347.0L242.8,347.2L243.0,347.5L243.2,347.7L243.5,347.8L243.8,347.9L244.0,347.8L244.2,347.7L244.5,347.6L244.8,347.3L245.0,347.1L245.2,346.9L245.5,346.7L245.8,346.6L246.0,346.6L246.2,346.7L246.5,346.8L246.8,347.0L247.0,347.2L247.2,347.3L247.5,347.5L247.8,347.6L248.0,347.6L248.2,347.7L248.5,347.6L248.8,347.6L249.0,347.5L249.2,346.6L249.5,345.8L249.8,346.7L250.0,347.6L250.2,347.9L250.5,348.1L250.8,348.2L251.0,349.0L251.2,352.4L251.5,358.9L251.8,355.1L252.0,352.0L252.2,350.3L252.5,348.6L252.8,348.4L253.0,348.9L253.2,348.8L253.5,348.7L253.8,348.5L254.0,348.3L254.2,348.1L254.5,347.9L254.8,347.8L255.0,347.7L255.2,347.6L255.5,347.7L255.8,347.9L256.0,348.2L256.2,348.5L256.5,348.8L256.8,349.2L257.0,349.5L257.2,352.4L257.5,356.8L257.8,353.2L258.0,351.9L258.2,353.2L258.5,351.3L258.8,349.4L259.0,349.1L259.2,349.4L259.5,349.6L259.8,349.9L260.0,350.1L260.2,350.3L260.5,350.5L260.8,350.8L261.0,350.9L261.2,351.1L261.5,351.3L261.8,351.5L262.0,351.6L262.2,351.8L262.5,351.9L262.8,352.0L263.0,352.1L263.2,352.1L263.5,352.1L263.8,352.0L264.0,352.0L264.2,352.0L264.5,352.0L264.8,352.0L265.0,352.1L265.2,352.1L265.5,351.6L265.8,351.0L266.0,350.4L266.2,349.9L266.5,350.6L266.8,351.3L267.0,352.1L267.2,352.8L267.5,353.9L267.8,353.0L268.0,353.1L268.2,353.2L268.5,353.4L268.8,353.8L269.0,356.0L269.2,354.1L269.5,353.9L269.8,354.0L270.0,354.4L270.2,355.8L270.5,357.2L270.8,355.8L271.0,354.5L271.2,354.2L271.5,354.2L271.8,354.2L272.0,354.2L272.2,354.3L272.5,354.2L272.8,354.0L273.0,353.9L273.2,354.1L273.5,354.1L273.8,353.9L274.0,353.6L274.2,353.2L274.5,353.7L274.8,354.0L275.0,354.4L275.2,354.7L275.5,354.7L275.8,354.9L276.0,356.1L276.2,357.3L276.5,355.9L276.8,354.5L277.0,354.1L277.2,354.0L277.5,354.0L277.8,354.0L278.0,354.1L278.2,354.2L278.5,354.5L278.8,354.8L279.0,355.3L279.2,356.0L279.5,356.2L279.8,356.5L280.0,356.7L280.2,356.9L280.5,357.0L280.8,356.9L281.0,356.8L281.2,356.7L281.5,356.5L281.8,356.4L282.0,356.3L282.2,356.2L282.5,356.1L282.8,356.1L283.0,356.0L283.2,356.0L283.5,355.7L283.8,355.3L284.0,355.5L284.2,355.6L284.5,355.4L284.8,354.2L285.0,353.0L285.2,354.1L285.5,355.3L285.8,355.5L286.0,355.6L286.2,355.6L286.5,355.6L286.8,356.2L287.0,357.0L287.2,357.8L287.5,357.0L287.8,356.3L288.0,354.8L288.2,354.0L288.5,353.1L288.8,352.3L289.0,353.7L289.2,355.7L289.5,355.1L289.8,355.2L290.0,355.1L290.2,355.2L290.5,356.2L290.8,357.9L291.0,356.5L291.2,355.1L291.5,354.2L291.8,355.5L292.0,356.3L292.2,356.4L292.5,356.5L292.8,356.6L293.0,356.7L293.2,357.3L293.5,360.7L293.8,364.1L294.0,360.9L294.2,357.8L294.5,357.4L294.8,357.4L295.0,357.4L295.2,357.4L295.5,357.4L295.8,357.4L296.0,357.4L296.2,357.5L296.5,357.6L296.8,357.7L297.0,357.8L297.2,357.8L297.5,357.9L297.8,357.8L298.0,357.8L298.2,358.1L298.5,359.3L298.8,360.4L299.0,358.9L299.2,357.3L299.5,356.7L299.8,356.5L300.0,356.4L300.2,356.3L300.5,356.3L300.8,356.4L301.0,356.5L301.2,356.7L301.5,356.9L301.8,357.2L302.0,357.4L302.2,357.7L302.5,358.0L302.8,358.3L303.0,358.6L303.2,358.9L303.5,359.1L303.8,359.3L304.0,359.4L304.2,359.4L304.5,359.3L304.8,359.1L305.0,358.9L305.2,358.6L305.5,358.4L305.8,358.2L306.0,358.0L306.2,357.9L306.5,358.0L306.8,358.4L307.0,359.0L307.2,360.9L307.5,362.2L307.8,362.0L308.0,359.0L308.2,358.5L308.5,358.5L308.8,359.0L309.0,359.4L309.2,358.7L309.5,357.9L309.8,357.7L310.0,358.2L310.2,358.9L310.5,360.0L310.8,360.7L311.0,362.2L311.2,364.0L311.5,363.4L311.8,361.2L312.0,358.9L312.2,358.0L312.5,358.0L312.8,358.0L313.0,358.1L313.2,358.1L313.5,358.2L313.8,358.3L314.0,358.4L314.2,358.5L314.5,358.6L314.8,358.7L315.0,358.9L315.2,359.0L315.5,359.1L315.8,359.3L316.0,359.5L316.2,359.8L316.5,360.0L316.8,360.2L317.0,360.1L317.2,359.9L317.5,359.7L317.8,359.5L318.0,359.5L318.2,359.5L318.5,359.5L318.8,359.7L319.0,360.3L319.2,360.9L319.5,360.8L319.8,363.5L320.0,366.5L320.2,369.5L320.5,366.3L320.8,363.1L321.0,361.1L321.2,363.0L321.5,356.5L321.8,355.1L322.0,354.7L322.2,356.2L322.5,357.7L322.8,361.1L323.0,364.0L323.2,366.9L323.5,364.9L323.8,362.6L324.0,360.3L324.2,360.2L324.5,360.1L324.8,360.0L325.0,359.7L325.2,359.4L325.5,359.1L325.8,358.9L326.0,358.9L326.2,359.3L326.5,359.9L326.8,360.5L327.0,361.1L327.2,360.8L327.5,360.5L327.8,360.2L328.0,360.0L328.2,359.9L328.5,359.8L328.8,359.7L329.0,359.6L329.2,359.4L329.5,359.3L329.8,359.1L330.0,359.4L330.2,360.3L330.5,361.2L330.8,362.2L331.0,361.4L331.2,360.6L331.5,359.8L331.8,359.4L332.0,359.4L332.2,359.4L332.5,359.4L332.8,359.4L333.0,359.3L333.2,359.3L333.5,359.3L333.8,360.1L334.0,360.9L334.2,361.7L334.5,360.9L334.8,360.2L335.0,359.4L335.2,359.4L335.5,359.4L335.8,359.4L336.0,359.3L336.2,359.3L336.5,359.2L336.8,359.1L337.0,359.1L337.2,359.4L337.5,359.8L337.8,359.3L338.0,358.8L338.2,358.7L338.5,358.7L338.8,358.7L339.0,358.8L339.2,358.9L339.5,359.0L339.8,359.2L340.0,359.3L340.2,359.5L340.5,359.6L340.8,359.8L341.0,359.8L341.2,359.9L341.5,359.9L341.8,359.9L342.0,359.9L342.2,359.8L342.5,359.8L342.8,359.8L343.0,359.8L343.2,359.5L343.5,359.2L343.8,358.9L344.0,359.2L344.2,359.5L344.5,359.7L344.8,359.8L345.0,359.9L345.2,359.9L345.5,360.0L345.8,360.1L346.0,360.1L346.2,360.1L346.5,360.0L346.8,360.0L347.0,359.8L347.2,359.7L347.5,360.8L347.8,362.8L348.0,364.7L348.2,362.5L348.5,360.3L348.8,359.2L349.0,358.8L349.2,358.5L349.5,357.6L349.8,356.7L350.0,355.9L350.2,356.7L350.5,357.6L350.8,358.5L351.0,358.7L351.2,358.8L351.5,358.9L351.8,359.0L352.0,359.1L352.2,359.2L352.5,359.2L352.8,359.2L353.0,359.4L353.2,359.7L353.5,360.0L353.8,359.6L354.0,359.3L354.2,359.2L354.5,359.3L354.8,359.4L355.0,359.7L355.2,359.9L355.5,359.6L355.8,359.2L356.0,358.9L356.2,358.6L356.5,359.1L356.8,359.8L357.0,360.4L357.2,359.8L357.5,359.0L357.8,358.4L358.0,358.4L358.2,358.5L358.5,358.7L358.8,358.9L359.0,359.2L359.2,361.4L359.5,359.9L359.8,360.0L360.0,360.2L360.2,360.3L360.5,359.5L360.8,357.5L361.0,356.0L361.2,357.9L361.5,360.0L361.8,361.7L362.0,360.4L362.2,359.8L362.5,359.4L362.8,359.0L363.0,358.7L363.2,359.2L363.5,359.6L363.8,359.9L364.0,359.8L364.2,359.8L364.5,359.8L364.8,359.8L365.0,359.7L365.2,362.2L365.5,364.9L365.8,368.6L366.0,364.9L366.2,361.1L366.5,358.0L366.8,357.6L367.0,357.8L367.2,359.4L367.5,360.4L367.8,359.2L368.0,358.2L368.2,358.1L368.5,358.7L368.8,360.1L369.0,361.7L369.2,363.3L369.5,364.9L369.8,362.6L370.0,360.6L370.2,358.6L370.5,357.9L370.8,358.0L371.0,358.1L371.2,358.2L371.5,358.3L371.8,358.5L372.0,358.6L372.2,358.6L372.5,358.5L372.8,358.5L373.0,358.6L373.2,358.7L373.5,358.8L373.8,358.8L374.0,358.9L374.2,358.9L374.5,358.8L374.8,358.7L375.0,358.4L375.2,358.1L375.5,357.6L375.8,357.0L376.0,356.4L376.2,355.9L376.5,355.7L376.8,355.7L377.0,355.0L377.2,354.2L377.5,353.4L377.8,353.6L378.0,353.6L378.2,353.5L378.5,354.1L378.8,354.7L379.0,355.1L379.2,355.2L379.5,355.3L379.8,356.7L380.0,358.2L380.2,359.7L380.5,357.9L380.8,356.0L381.0,354.7L381.2,354.6L381.5,354.6L381.8,355.0L382.0,355.4L382.2,355.8L382.5,356.1L382.8,356.8L383.0,357.4L383.2,356.8L383.5,356.2L383.8,356.1L384.0,355.8L384.2,355.5L384.5,355.2L384.8,355.3L385.0,355.6L385.2,354.6L385.5,353.9L385.8,353.8L386.0,353.7L386.2,353.8L386.5,353.9L386.8,354.0L387.0,354.1L387.2,354.2L387.5,354.3L387.8,354.3L388.0,354.1L388.2,353.9L388.5,353.8L388.8,353.9L389.0,354.1L389.2,354.1L389.5,354.0L389.8,353.7L390.0,353.5L390.2,353.2L390.5,352.9L390.8,352.7L391.0,352.5L391.2,352.3L391.5,352.1L391.8,352.0L392.0,351.9L392.2,351.9L392.5,351.9L392.8,352.0L393.0,352.5L393.2,353.6L393.5,352.5L393.8,352.0L394.0,352.0L394.2,352.5L394.5,356.0L394.8,352.4L395.0,353.0L395.2,355.0L395.5,353.1L395.8,351.8L396.0,351.9L396.2,351.9L396.5,352.0L396.8,352.0L397.0,352.1L397.2,352.1L397.5,352.1L397.8,352.1L398.0,352.4L398.2,351.8L398.5,351.5L398.8,351.3L399.0,351.0L399.2,350.8L399.5,352.1L399.8,353.9L400.0,351.8L400.2,350.2L400.5,350.0L400.8,349.8L401.0,349.6L401.2,349.8L401.5,350.5L401.8,349.2L402.0,348.4L402.2,348.3L402.5,348.1L402.8,348.1L403.0,348.0L403.2,348.1L403.5,348.6L403.8,349.3L404.0,349.4L404.2,348.8L404.5,348.6L404.8,348.4L405.0,348.4L405.2,348.4L405.5,348.4L405.8,348.3L406.0,348.2L406.2,348.1L406.5,348.0L406.8,348.6L407.0,349.2L407.2,349.0L407.5,347.4L407.8,346.7L408.0,346.2L408.2,346.4L408.5,346.6L408.8,346.6L409.0,346.5L409.2,346.3L409.5,346.2L409.8,346.1L410.0,346.0L410.2,346.0L410.5,345.8L410.8,345.6L411.0,346.0L411.2,346.4L411.5,346.7L411.8,346.5L412.0,346.3L412.2,346.1L412.5,346.1L412.8,346.1L413.0,346.0L413.2,345.8L413.5,345.4L413.8,344.6L414.0,343.8L414.2,343.4L414.5,343.0L414.8,343.2L415.0,343.5L415.2,343.6L415.5,343.6L415.8,343.8L416.0,344.0L416.2,344.2L416.5,344.3L416.8,344.2L417.0,344.1L417.2,343.9L417.5,343.9L417.8,343.9L418.0,343.8L418.2,343.7L418.5,343.4L418.8,343.1L419.0,342.9L419.2,342.6L419.5,342.3L419.8,341.9L420.0,341.3L420.2,341.8L420.5,341.7L420.8,341.4L421.0,341.6L421.2,342.0L421.5,342.4L421.8,342.8L422.0,342.6L422.2,342.2L422.5,341.5L422.8,341.5L423.0,341.0L423.2,340.3L423.5,339.7L423.8,339.1L424.0,339.3L424.2,339.5L424.5,339.7L424.8,340.0L425.0,340.3L425.2,341.7L425.5,342.9L425.8,344.1L426.0,342.3L426.2,340.5L426.5,338.7L426.8,337.9L427.0,337.6L427.2,337.3L427.5,337.0L427.8,336.7L428.0,336.5L428.2,336.3L428.5,336.3L428.8,336.3L429.0,336.4L429.2,336.5L429.5,336.3L429.8,336.0L430.0,335.7L430.2,335.5L430.5,335.3L430.8,335.2L431.0,335.0L431.2,335.0L431.5,335.0L431.8,335.0L432.0,335.5L432.2,337.6L432.5,339.6L432.8,337.7L433.0,335.6L433.2,335.0L433.5,334.7L433.8,334.4L434.0,334.2L434.2,333.9L434.5,333.7L434.8,333.1L435.0,332.5L435.2,332.5L435.5,333.0L435.8,333.6L436.0,333.7L436.2,332.9L436.5,332.3L436.8,331.9L437.0,331.7L437.2,331.7L437.5,331.7L437.8,331.7L438.0,331.6L438.2,331.4L438.5,331.1L438.8,330.8L439.0,330.5L439.2,330.2L439.5,329.9L439.8,329.7L440.0,329.6L440.2,329.5L440.5,329.5L440.8,329.4L441.0,329.3L441.2,329.2L441.5,329.1L441.8,329.0L442.0,328.8L442.2,328.9L442.5,329.2L442.8,329.4L443.0,329.2L443.2,329.3L443.5,329.6L443.8,329.0L444.0,328.5L444.2,328.3L444.5,328.5L444.8,328.7L445.0,329.0L445.2,329.2L445.5,329.3L445.8,329.8L446.0,330.9L446.2,331.9L446.5,330.8L446.8,329.6L447.0,329.1L447.2,328.9L447.5,328.7L447.8,328.5L448.0,327.9L448.2,327.1L448.5,327.6L448.8,328.0L449.0,327.6L449.2,327.2L449.5,327.0L449.8,327.0L450.0,327.7L450.2,328.5L450.5,327.9L450.8,327.4L451.0,327.4L451.2,327.5L451.5,327.6L451.8,327.6L452.0,327.6L452.2,327.6L452.5,327.5L452.8,327.4L453.0,330.8L453.2,336.2L453.5,330.8L453.8,328.1L454.0,328.9L454.2,329.8L454.5,328.7L454.8,327.7L455.0,326.7L455.2,326.4L455.5,326.5L455.8,326.6L456.0,326.7L456.2,326.6L456.5,326.5L456.8,326.2L457.0,325.9L457.2,325.6L457.5,325.3L457.8,325.0L458.0,324.8L458.2,323.9L458.5,323.0L458.8,323.9L459.0,324.8L459.2,325.0L459.5,325.1L459.8,325.1L460.0,325.1L460.2,325.1L460.5,325.2L460.8,325.3L461.0,325.6L461.2,325.9L461.5,325.9L461.8,325.9L462.0,325.9L462.2,325.8L462.5,325.7L462.8,325.5L463.0,325.9L463.2,327.5L463.5,329.0L463.8,327.0L464.0,325.0L464.2,324.2L464.5,323.1L464.8,322.0L465.0,322.9L465.2,324.2L465.5,324.7L465.8,324.2L466.0,323.9L466.2,324.0L466.5,324.7L466.8,326.7L467.0,324.7L467.2,324.4L467.5,325.0L467.8,325.5L468.0,326.0L468.2,325.1L468.5,324.2L468.8,323.2L469.0,322.7L469.2,322.4L469.5,322.1L469.8,321.9L470.0,321.8L470.2,321.8L470.5,321.8L470.8,321.9L471.0,322.9L471.2,324.0L471.5,323.5L471.8,323.0L472.0,323.2L472.2,323.5L472.5,323.6L472.8,323.5L473.0,323.3L473.2,323.0L473.5,322.7L473.8,322.3L474.0,321.9L474.2,321.6L474.5,321.6L474.8,321.8L475.0,322.1L475.2,322.1L475.5,322.1L475.8,322.1L476.0,322.1L476.2,322.1L476.5,322.1L476.8,321.9L477.0,321.9L477.2,322.8L477.5,323.9L477.8,325.1L478.0,324.3L478.2,324.3L478.5,324.8L478.8,326.2L479.0,325.4L479.2,324.5L479.5,323.9L479.8,323.9L480.0,323.8L480.2,323.6L480.5,323.2L480.8,322.9L481.0,322.5L481.2,322.2L481.5,322.2L481.8,322.3L482.0,322.5L482.2,321.8L482.5,321.2L482.8,320.4L483.0,319.9L483.2,320.9L483.5,323.5L483.8,325.5L484.0,323.3L484.2,321.0L484.5,319.8L484.8,319.6L485.0,319.3L485.2,319.2L485.5,319.2L485.8,319.1L486.0,319.0L486.2,319.0L486.5,319.1L486.8,319.4L487.0,319.8L487.2,320.3L487.5,320.9L487.8,321.4L488.0,321.9L488.2,322.0L488.5,322.3L488.8,322.3L489.0,322.1L489.2,321.8L489.5,321.4L489.8,321.1L490.0,320.8L490.2,320.5L490.5,320.3L490.8,320.2L491.0,320.1L491.2,320.1L491.5,321.2L491.8,319.9L492.0,319.6L492.2,319.6L492.5,319.9L492.8,320.3L493.0,320.2L493.2,320.2L493.5,320.2L493.8,320.3L494.0,320.2L494.2,319.9L494.5,319.7L494.8,319.4L495.0,319.1L495.2,319.0L495.5,321.5L495.8,324.6L496.0,322.5L496.2,320.1L496.5,320.2L496.8,320.6L497.0,321.1L497.2,321.9L497.5,322.9L497.8,322.8L498.0,321.1L498.2,320.4L498.5,320.3L498.8,320.3L499.0,320.3L499.2,320.5L499.5,320.7L499.8,321.0L500.0,321.2L500.2,321.4L500.5,321.5L500.8,321.5L501.0,322.3L501.2,323.5L501.5,322.0L501.8,320.9L502.0,320.6L502.2,320.3L502.5,319.9L502.8,319.2L503.0,322.6L503.2,326.3L503.5,324.5L503.8,320.5L504.0,319.8L504.2,319.4L504.5,318.6L504.8,317.8L505.0,317.6L505.2,318.4L505.5,318.0L505.8,317.8L506.0,317.4L506.2,317.0L506.5,316.6L506.8,316.4L507.0,317.0L507.2,317.4L507.5,317.8L507.8,318.2L508.0,318.6L508.2,319.0L508.5,319.3L508.8,319.7L509.0,320.7L509.2,323.2L509.5,322.4L509.8,322.9L510.0,322.1L510.2,321.2L510.5,321.1L510.8,320.9L511.0,320.7L511.2,320.5L511.5,320.3L511.8,320.1L512.0,320.0L512.2,320.0L512.5,320.0L512.8,320.1L513.0,320.1L513.2,320.2L513.5,319.7L513.8,318.8L514.0,317.4L514.2,317.7L514.5,318.2L514.8,318.5L515.0,318.3L515.2,318.2L515.5,318.1L515.8,318.0L516.0,318.0L516.2,318.0L516.5,318.0L516.8,318.0L517.0,318.0L517.2,318.0L517.5,318.0L517.8,318.0L518.0,318.0L518.2,318.4L518.5,319.2L518.8,320.4L519.0,323.0L519.2,323.9L519.5,321.2L519.8,318.6L520.0,318.4L520.2,319.5L520.5,320.6L520.8,321.6L521.0,320.6L521.2,319.5L521.5,318.5L521.8,319.3L522.0,320.8L522.2,322.9L522.5,322.0L522.8,319.7L523.0,318.0L523.2,318.4L523.5,317.9L523.8,315.9L524.0,314.4L524.2,316.2L524.5,317.8L524.8,317.8L525.0,317.6L525.2,317.3L525.5,317.0L525.8,316.8L526.0,316.7L526.2,317.0L526.5,317.0L526.8,317.3L527.0,317.7L527.2,318.1L527.5,318.3L527.8,318.4L528.0,318.3L528.2,318.1L528.5,317.8L528.8,317.2L529.0,316.5L529.2,315.9L529.5,315.9L529.8,316.7L530.0,317.5L530.2,315.7L530.5,312.9L530.8,310.2L531.0,313.2L531.2,316.2L531.5,316.2L531.8,316.6L532.0,317.3L532.2,318.0L532.5,318.3L532.8,318.5L533.0,321.4L533.2,326.1L533.5,322.2L533.8,320.0L534.0,320.2L534.2,320.3L534.5,320.3L534.8,320.2L535.0,319.5L535.2,318.4L535.5,317.2L535.8,317.6L536.0,317.2L536.2,316.8L536.5,317.2L536.8,317.8L537.0,317.8L537.2,317.9L537.5,318.1L537.8,320.0L538.0,323.0L538.2,320.2L538.5,318.6L538.8,319.9L539.0,320.7L539.2,321.5L539.5,319.5L539.8,317.5L540.0,316.0L540.2,318.2L540.5,327.6L540.8,320.2L541.0,315.4L541.2,315.0L541.5,315.5L541.8,316.0L542.0,316.4L542.2,317.1L542.5,319.0L542.8,320.8L543.0,320.0L543.2,319.9L543.5,321.2L543.8,319.7L544.0,319.0L544.2,319.2L544.5,318.9L544.8,318.7L545.0,319.2L545.2,319.8L545.5,322.2L545.8,324.9L546.0,327.7L546.2,325.7L546.5,324.4L546.8,323.1L547.0,324.2L547.2,321.8L547.5,319.1L547.8,317.1L548.0,316.4L548.2,316.9L548.5,317.4L548.8,318.1L549.0,318.6L549.2,318.7L549.5,318.9L549.8,318.8L550.0,318.7L550.2,318.7L550.5,321.4L550.8,318.2L551.0,317.8L551.2,317.2" stroke="#2b2d72" stroke-width="1.0" fill="none"/>
<path d="M143.5,316.1L144.0,316.2L144.5,316.2L145.0,316.3L145.5,316.4L146.0,316.5L146.5,316.6L147.0,316.7L147.5,316.8L148.0,316.8L148.5,316.9L149.0,317.0L149.5,317.1L150.0,317.2L150.5,317.3L151.0,317.4L151.5,317.5L152.0,317.6L152.5,317.7L153.0,317.8L153.5,317.9L154.0,318.0L154.5,318.1L155.0,318.2L155.5,318.3L156.0,318.4L156.5,318.4L157.0,318.5L157.5,318.6L158.0,318.7L158.5,318.8L159.0,318.9L159.5,319.0L160.0,319.1L160.5,319.2L161.0,319.2L161.5,319.3L162.0,319.4L162.5,319.5L163.0,319.6L163.5,319.6L164.0,319.7L164.5,319.8L165.0,319.9L165.5,319.9L166.0,320.0L166.5,320.1L167.0,320.2L167.5,320.3L168.0,320.3L168.5,320.4L169.0,320.5L169.5,320.6L170.0,320.7L170.5,320.7L171.0,320.8L171.5,320.9L172.0,321.0L172.5,321.1L173.0,321.1L173.5,321.2L174.0,321.3L174.5,321.4L175.0,321.5L175.5,321.5L176.0,321.6L176.5,321.7L177.0,321.8L177.5,322.0L178.0,322.1L178.5,322.3L179.0,322.4L179.5,322.6L180.0,322.8L180.5,323.0L181.0,323.2L181.5,323.4L182.0,323.6L182.5,323.8L183.0,324.0L183.5,324.2L184.0,324.4L184.5,324.6L185.0,324.8L185.5,325.0L186.0,325.2L186.5,325.4L187.0,325.6L187.5,325.8L188.0,326.1L188.5,326.3L189.0,326.5L189.5,326.7L190.0,326.9L190.5,327.1L191.0,327.2L191.5,327.4L192.0,327.6L192.5,327.8L193.0,328.0L193.5,328.2L194.0,328.4L194.5,328.6L195.0,328.8L195.5,329.0L196.0,329.2L196.5,329.4L197.0,329.6L197.5,329.8L198.0,330.0L198.5,330.2L199.0,330.4L199.5,330.6L200.0,330.8L200.5,331.0L201.0,331.1L201.5,331.3L202.0,331.5L202.5,331.6L203.0,331.8L203.5,332.0L204.0,332.1L204.5,332.3L205.0,332.5L205.5,332.6L206.0,332.8L206.5,332.9L207.0,333.1L207.5,333.3L208.0,333.4L208.5,333.6L209.0,333.8L209.5,333.9L210.0,334.1L210.5,334.2L211.0,334.4L211.5,334.6L212.0,334.7L212.5,334.9L213.0,335.1L213.5,335.2L214.0,335.4L214.5,335.6L215.0,335.7L215.5,335.9L216.0,336.1L216.5,336.3L217.0,336.5L217.5,336.7L218.0,336.9L218.5,337.2L219.0,337.4L219.5,337.6L220.0,337.8L220.5,338.0L221.0,338.2L221.5,338.5L222.0,338.7L222.5,338.9L223.0,339.1L223.5,339.3L224.0,339.5L224.5,339.8L225.0,340.0L225.5,340.2L226.0,340.4L226.5,340.6L227.0,340.8L227.5,341.0L228.0,341.2L228.5,341.4L229.0,341.5L229.5,341.7L230.0,341.9L230.5,342.1L231.0,342.2L231.5,342.4L232.0,342.6L232.5,342.8L233.0,342.9L233.5,343.1L234.0,343.3L234.5,343.5L235.0,343.6L235.5,343.8L236.0,344.0L236.5,344.2L237.0,344.3L237.5,344.5L238.0,344.7L238.5,344.9L239.0,345.0L239.5,345.2L240.0,345.4L240.5,345.6L241.0,345.7L241.5,345.9L242.0,346.1L242.5,346.2L243.0,346.3L243.5,346.5L244.0,346.6L244.5,346.8L245.0,346.9L245.5,347.0L246.0,347.2L246.5,347.3L247.0,347.4L247.5,347.5L248.0,347.7L248.5,347.8L249.0,347.9L249.5,348.1L250.0,348.2L250.5,348.3L251.0,348.5L251.5,348.6L252.0,348.7L252.5,348.9L253.0,349.0L253.5,349.1L254.0,349.2L254.5,349.4L255.0,349.5L255.5,349.6L256.0,349.7L256.5,349.9L257.0,350.0L257.5,350.1L258.0,350.2L258.5,350.3L259.0,350.5L259.5,350.6L260.0,350.7L260.5,350.8L261.0,350.9L261.5,351.1L262.0,351.2L262.5,351.3L263.0,351.4L263.5,351.6L264.0,351.7L264.5,351.8L265.0,351.9L265.5,352.0L266.0,352.2L266.5,352.3L267.0,352.4L267.5,352.5L268.0,352.7L268.5,352.8L269.0,352.9L269.5,353.0L270.0,353.1L270.5,353.3L271.0,353.4L271.5,353.5L272.0,353.6L272.5,353.7L273.0,353.8L273.5,353.9L274.0,354.0L274.5,354.0L275.0,354.1L275.5,354.2L276.0,354.3L276.5,354.4L277.0,354.4L277.5,354.5L278.0,354.6L278.5,354.7L279.0,354.8L279.5,354.8L280.0,354.9L280.5,355.0L281.0,355.1L281.5,355.2L282.0,355.2L282.5,355.3L283.0,355.4L283.5,355.5L284.0,355.6L284.5,355.6L285.0,355.7L285.5,355.8L286.0,355.9L286.5,356.0L287.0,356.0L287.5,356.1L288.0,356.2L288.5,356.3L289.0,356.4L289.5,356.4L290.0,356.5L290.5,356.6L291.0,356.6L291.5,356.7L292.0,356.8L292.5,356.8L293.0,356.9L293.5,356.9L294.0,357.0L294.5,357.0L295.0,357.1L295.5,357.1L296.0,357.2L296.5,357.2L297.0,357.3L297.5,357.3L298.0,357.4L298.5,357.4L299.0,357.5L299.5,357.5L300.0,357.6L300.5,357.6L301.0,357.7L301.5,357.7L302.0,357.8L302.5,357.8L303.0,357.9L303.5,357.9L304.0,358.0L304.5,358.0L305.0,358.1L305.5,358.1L306.0,358.2L306.5,358.2L307.0,358.3L307.5,358.3L308.0,358.4L308.5,358.4L309.0,358.5L309.5,358.5L310.0,358.6L310.5,358.6L311.0,358.6L311.5,358.7L312.0,358.7L312.5,358.7L313.0,358.8L313.5,358.8L314.0,358.8L314.5,358.9L315.0,358.9L315.5,358.9L316.0,358.9L316.5,359.0L317.0,359.0L317.5,359.0L318.0,359.1L318.5,359.1L319.0,359.1L319.5,359.1L320.0,359.2L320.5,359.2L321.0,359.2L321.5,359.3L322.0,359.3L322.5,359.3L323.0,359.4L323.5,359.4L324.0,359.4L324.5,359.4L325.0,359.5L325.5,359.5L326.0,359.5L326.5,359.6L327.0,359.6L327.5,359.6L328.0,359.6L328.5,359.7L329.0,359.7L329.5,359.7L330.0,359.7L330.5,359.7L331.0,359.7L331.5,359.7L332.0,359.7L332.5,359.7L333.0,359.7L333.5,359.7L334.0,359.7L334.5,359.7L335.0,359.7L335.5,359.7L336.0,359.7L336.5,359.7L337.0,359.7L337.5,359.7L338.0,359.7L338.5,359.7L339.0,359.7L339.5,359.7L340.0,359.7L340.5,359.7L341.0,359.7L341.5,359.7L342.0,359.7L342.5,359.7L343.0,359.7L343.5,359.7L344.0,359.7L344.5,359.7L345.0,359.7L345.5,359.7L346.0,359.7L346.5,359.7L347.0,359.7L347.5,359.7L348.0,359.7L348.5,359.6L349.0,359.6L349.5,359.6L350.0,359.6L350.5,359.5L351.0,359.5L351.5,359.5L352.0,359.5L352.5,359.4L353.0,359.4L353.5,359.4L354.0,359.3L354.5,359.3L355.0,359.3L355.5,359.3L356.0,359.2L356.5,359.2L357.0,359.2L357.5,359.1L358.0,359.1L358.5,359.1L359.0,359.1L359.5,359.0L360.0,359.0L360.5,359.0L361.0,358.9L361.5,358.9L362.0,358.9L362.5,358.9L363.0,358.8L363.5,358.8L364.0,358.8L364.5,358.7L365.0,358.7L365.5,358.7L366.0,358.6L366.5,358.6L367.0,358.5L367.5,358.4L368.0,358.3L368.5,358.3L369.0,358.2L369.5,358.1L370.0,358.0L370.5,357.9L371.0,357.8L371.5,357.7L372.0,357.6L372.5,357.5L373.0,357.4L373.5,357.3L374.0,357.2L374.5,357.1L375.0,357.0L375.5,356.9L376.0,356.8L376.5,356.6L377.0,356.5L377.5,356.4L378.0,356.3L378.5,356.2L379.0,356.1L379.5,356.0L380.0,355.9L380.5,355.8L381.0,355.7L381.5,355.6L382.0,355.5L382.5,355.4L383.0,355.3L383.5,355.2L384.0,355.1L384.5,355.0L385.0,354.9L385.5,354.8L386.0,354.6L386.5,354.5L387.0,354.3L387.5,354.1L388.0,353.9L388.5,353.8L389.0,353.6L389.5,353.4L390.0,353.2L390.5,353.0L391.0,352.8L391.5,352.7L392.0,352.5L392.5,352.3L393.0,352.1L393.5,351.9L394.0,351.7L394.5,351.5L395.0,351.4L395.5,351.2L396.0,351.0L396.5,350.8L397.0,350.6L397.5,350.4L398.0,350.2L398.5,350.1L399.0,349.9L399.5,349.7L400.0,349.5L400.5,349.3L401.0,349.2L401.5,349.0L402.0,348.8L402.5,348.6L403.0,348.5L403.5,348.3L404.0,348.1L404.5,347.9L405.0,347.8L405.5,347.6L406.0,347.4L406.5,347.2L407.0,347.1L407.5,346.9L408.0,346.7L408.5,346.5L409.0,346.4L409.5,346.2L410.0,346.0L410.5,345.8L411.0,345.7L411.5,345.5L412.0,345.3L412.5,345.1L413.0,344.9L413.5,344.8L414.0,344.6L414.5,344.4L415.0,344.2L415.5,344.1L416.0,343.9L416.5,343.7L417.0,343.5L417.5,343.4L418.0,343.2L418.5,343.0L419.0,342.8L419.5,342.7L420.0,342.5L420.5,342.3L421.0,342.1L421.5,341.9L422.0,341.6L422.5,341.4L423.0,341.1L423.5,340.8L424.0,340.5L424.5,340.2L425.0,339.8L425.5,339.5L426.0,339.2L426.5,338.8L427.0,338.5L427.5,338.2L428.0,337.9L428.5,337.5L429.0,337.2L429.5,336.9L430.0,336.6L430.5,336.2L431.0,335.9L431.5,335.6L432.0,335.2L432.5,334.9L433.0,334.6L433.5,334.3L434.0,333.9L434.5,333.6L435.0,333.3L435.5,333.0L436.0,332.6L436.5,332.3L437.0,332.0L437.5,331.6L438.0,331.3L438.5,331.0L439.0,330.7L439.5,330.5L440.0,330.2L440.5,330.0L441.0,329.8L441.5,329.6L442.0,329.4L442.5,329.3L443.0,329.2L443.5,329.0L444.0,328.9L444.5,328.7L445.0,328.6L445.5,328.5L446.0,328.3L446.5,328.2L447.0,328.0L447.5,327.9L448.0,327.8L448.5,327.6L449.0,327.5L449.5,327.3L450.0,327.2L450.5,327.1L451.0,326.9L451.5,326.8L452.0,326.6L452.5,326.5L453.0,326.4L453.5,326.2L454.0,326.1L454.5,325.9L455.0,325.8L455.5,325.7L456.0,325.5L456.5,325.4L457.0,325.2L457.5,325.1L458.0,325.0L458.5,324.8L459.0,324.7L459.5,324.6L460.0,324.5L460.5,324.4L461.0,324.3L461.5,324.2L462.0,324.1L462.5,324.1L463.0,324.0L463.5,323.9L464.0,323.9L464.5,323.8L465.0,323.8L465.5,323.7L466.0,323.6L466.5,323.6L467.0,323.5L467.5,323.4L468.0,323.4L468.5,323.3L469.0,323.2L469.5,323.2L470.0,323.1L470.5,323.0L471.0,323.0L471.5,322.9L472.0,322.8L472.5,322.8L473.0,322.7L473.5,322.6L474.0,322.6L474.5,322.5L475.0,322.4L475.5,322.4L476.0,322.3L476.5,322.3L477.0,322.2L477.5,322.1L478.0,322.1L478.5,322.0L479.0,321.9L479.5,321.9L480.0,321.8L480.5,321.8L481.0,321.7L481.5,321.7L482.0,321.6L482.5,321.6L483.0,321.5L483.5,321.5L484.0,321.5L484.5,321.4L485.0,321.4L485.5,321.3L486.0,321.3L486.5,321.2L487.0,321.2L487.5,321.2L488.0,321.1L488.5,321.1L489.0,321.0L489.5,321.0L490.0,321.0L490.5,320.9L491.0,320.9L491.5,320.8L492.0,320.8L492.5,320.7L493.0,320.7L493.5,320.7L494.0,320.6L494.5,320.6L495.0,320.5L495.5,320.5L496.0,320.4L496.5,320.4L497.0,320.4L497.5,320.3L498.0,320.3L498.5,320.2L499.0,320.2L499.5,320.1L500.0,320.1L500.5,320.1L501.0,320.0L501.5,320.0L502.0,319.9L502.5,319.9L503.0,319.8L503.5,319.8L504.0,319.8L504.5,319.7L505.0,319.7L505.5,319.6L506.0,319.6L506.5,319.5L507.0,319.5L507.5,319.5L508.0,319.4L508.5,319.4L509.0,319.3L509.5,319.3L510.0,319.2L510.5,319.2L511.0,319.2L511.5,319.1L512.0,319.1L512.5,319.0L513.0,319.0L513.5,319.0L514.0,318.9L514.5,318.9L515.0,318.8L515.5,318.8L516.0,318.7L516.5,318.7L517.0,318.7L517.5,318.6L518.0,318.6L518.5,318.5L519.0,318.5L519.5,318.5L520.0,318.4L520.5,318.4L521.0,318.4L521.5,318.3L522.0,318.3L522.5,318.3L523.0,318.2L523.5,318.2L524.0,318.2L524.5,318.2L525.0,318.1L525.5,318.1L526.0,318.1L526.5,318.0L527.0,318.0L527.5,318.0L528.0,318.0L528.5,317.9L529.0,317.9L529.5,317.9L530.0,317.9L530.5,317.8L531.0,317.8L531.5,317.8L532.0,317.7L532.5,317.7L533.0,317.7L533.5,317.7L534.0,317.6L534.5,317.6L535.0,317.6L535.5,317.5L536.0,317.5L536.5,317.5L537.0,317.5L537.5,317.4L538.0,317.4L538.5,317.4L539.0,317.4L539.5,317.3L540.0,317.3L540.5,317.3L541.0,317.2L541.5,317.2L542.0,317.2L542.5,317.2L543.0,317.1L543.5,317.1L544.0,317.1L544.5,317.1L545.0,317.0L545.5,317.0L546.0,317.0L546.5,316.9L547.0,316.9L547.5,316.9L548.0,316.9L548.5,316.8L549.0,316.8L549.5,316.8L550.0,316.8L550.5,316.7L551.0,316.7" stroke="#d0707a" stroke-width="1.3" fill="none" opacity="0.85"/>
<rect x="122.8" y="296.7" width="450.0" height="66.0" fill="none" stroke="#6e6e6e" stroke-width="1.4"/>
<text x="122.8" y="294.3" font-size="4.9" font-weight="bold" fill="#2e2e2e" textLength="82.6" lengthAdjust="spacingAndGlyphs" xml:space="preserve" >Profile wrt Self: 14.380 µm   (Tilt = 0.100 µm)</text>
<text x="571.5" y="294.3" font-size="4.9" font-weight="bold" fill="#2e2e2e" text-anchor="end" textLength="58" lengthAdjust="spacingAndGlyphs" xml:space="preserve" >Rotation: 0.162°    dZ: -0.014 mm</text>
<text x="119.5" y="298.5" font-size="4.9" font-weight="bold" fill="#2e2e2e" text-anchor="end" textLength="10.5" lengthAdjust="spacingAndGlyphs" xml:space="preserve" >300.00</text>
<text x="119.2" y="330.1" font-size="4.9" font-weight="bold" fill="#2e2e2e" text-anchor="end" textLength="4.6" lengthAdjust="spacingAndGlyphs" xml:space="preserve" >µm</text>
<text x="119.5" y="362.9" font-size="4.9" font-weight="bold" fill="#2e2e2e" text-anchor="end" textLength="12" lengthAdjust="spacingAndGlyphs" xml:space="preserve" >-300.00</text>
<text x="123.2" y="369.0" font-size="4.9" font-weight="bold" fill="#2e2e2e" textLength="12.6" lengthAdjust="spacingAndGlyphs" xml:space="preserve" >-0.2168</text>
<text x="257.0" y="369.0" font-size="4.9" font-weight="bold" fill="#2e2e2e" text-anchor="middle" textLength="18.3" lengthAdjust="spacingAndGlyphs" xml:space="preserve" >(-0.07217)</text>
<text x="347.4" y="369.0" font-size="4.9" font-weight="bold" fill="#2e2e2e" text-anchor="middle" textLength="2.9" lengthAdjust="spacingAndGlyphs" xml:space="preserve" >m</text>
<text x="437.1" y="369.0" font-size="4.9" font-weight="bold" fill="#2e2e2e" text-anchor="middle" textLength="17.0" lengthAdjust="spacingAndGlyphs" xml:space="preserve" >(0.07217)</text>
<text x="572.0" y="369.0" font-size="4.9" font-weight="bold" fill="#2e2e2e" text-anchor="end" textLength="10" lengthAdjust="spacingAndGlyphs" xml:space="preserve" >0.217</text>
<text x="0.0" y="0.0" font-size="4.6" font-weight="bold" fill="#333" text-anchor="middle" textLength="30.8" lengthAdjust="spacingAndGlyphs" xml:space="preserve" transform="translate(575.4,329.7) rotate(90)">(ISO 4287 profile)</text>
<path d="M122.8,389.3H572.8M122.8,395.9H572.8M122.8,402.5H572.8M122.8,409.1H572.8M122.8,422.3H572.8M122.8,428.9H572.8M122.8,435.5H572.8M122.8,442.1H572.8" stroke="#8f8f8f" stroke-width="0.75" stroke-dasharray="1.6 1.75" fill="none"/>
<path d="M139.5,382.7V448.7M160.3,382.7V448.7M181.1,382.7V448.7M201.9,382.7V448.7M222.7,382.7V448.7M243.5,382.7V448.7M264.3,382.7V448.7M285.1,382.7V448.7M305.9,382.7V448.7M326.7,382.7V448.7M347.5,382.7V448.7M368.3,382.7V448.7M389.1,382.7V448.7M409.9,382.7V448.7M430.7,382.7V448.7M451.5,382.7V448.7M472.3,382.7V448.7M493.1,382.7V448.7M513.9,382.7V448.7M534.7,382.7V448.7M555.5,382.7V448.7" stroke="#8f8f8f" stroke-width="0.75" stroke-dasharray="1.6 1.75" fill="none"/>
<line x1="122.8" y1="415.7" x2="572.8" y2="415.7" stroke="#6a6a6a" stroke-width="0.9" stroke-dasharray="5 3 1.2 3"/>
<line x1="272.6" y1="382.7" x2="272.6" y2="448.7" stroke="#4a4a4a" stroke-width="1"/>
<line x1="422.3" y1="382.7" x2="422.3" y2="448.7" stroke="#4a4a4a" stroke-width="1"/>
<path d="M143.5,417.8L143.8,419.7L144.0,419.3L144.2,419.2L144.5,419.1L144.8,418.9L145.0,421.2L145.2,423.4L145.5,425.5L145.8,422.1L146.0,420.5L146.2,419.0L146.5,417.1L146.8,415.1L147.0,414.6L147.2,420.9L147.5,427.6L147.8,435.5L148.0,430.4L148.2,425.7L148.5,419.5L148.8,419.9L149.0,420.8L149.2,421.2L149.5,422.5L149.8,423.6L150.0,423.1L150.2,424.7L150.5,417.0L150.8,413.2L151.0,413.0L151.2,412.6L151.5,412.3L151.8,412.1L152.0,412.2L152.2,412.2L152.5,411.9L152.8,411.2L153.0,410.3L153.2,409.6L153.5,409.2L153.8,409.4L154.0,410.2L154.2,411.4L154.5,414.5L154.8,421.5L155.0,429.1L155.2,430.3L155.5,422.6L155.8,418.6L156.0,420.3L156.2,414.9L156.5,412.5L156.8,412.6L157.0,412.7L157.2,412.5L157.5,412.1L157.8,411.3L158.0,410.4L158.2,409.5L158.5,408.9L158.8,409.7L159.0,411.1L159.2,409.8L159.5,408.6L159.8,408.0L160.0,407.1L160.2,406.1L160.5,405.4L160.8,405.4L161.0,407.5L161.2,410.6L161.5,409.0L161.8,407.9L162.0,408.0L162.2,407.8L162.5,407.5L162.8,407.2L163.0,407.7L163.2,408.7L163.5,406.7L163.8,405.8L164.0,407.0L164.2,408.4L164.5,409.6L164.8,408.3L165.0,407.0L165.2,407.6L165.5,409.6L165.8,412.5L166.0,411.6L166.2,410.5L166.5,408.6L166.8,408.1L167.0,407.3L167.2,406.7L167.5,406.2L167.8,406.1L168.0,406.2L168.2,406.8L168.5,408.7L168.8,410.2L169.0,411.6L169.2,409.0L169.5,406.8L169.8,405.0L170.0,404.7L170.2,404.9L170.5,405.1L170.8,405.8L171.0,407.2L171.2,408.4L171.5,409.5L171.8,407.7L172.0,406.0L172.2,404.2L172.5,403.8L172.8,406.2L173.0,403.8L173.2,403.7L173.5,404.1L173.8,404.7L174.0,405.1L174.2,405.3L174.5,406.5L174.8,409.8L175.0,413.0L175.2,416.3L175.5,411.9L175.8,408.0L176.0,404.4L176.2,403.4L176.5,403.7L176.8,403.6L177.0,403.2L177.2,402.8L177.5,402.6L177.8,402.5L178.0,402.5L178.2,402.1L178.5,402.2L178.8,408.2L179.0,405.0L179.2,405.0L179.5,404.9L179.8,404.6L180.0,403.9L180.2,406.4L180.5,408.8L180.8,404.9L181.0,401.3L181.2,401.0L181.5,401.1L181.8,401.4L182.0,402.0L182.2,402.7L182.5,403.3L182.8,403.3L183.0,402.5L183.2,401.1L183.5,398.8L183.8,396.0L184.0,396.5L184.2,397.2L184.5,398.4L184.8,399.7L185.0,400.0L185.2,400.4L185.5,401.3L185.8,402.0L186.0,401.6L186.2,402.8L186.5,402.4L186.8,403.6L187.0,405.5L187.2,404.9L187.5,404.6L187.8,404.4L188.0,405.5L188.2,405.9L188.5,404.7L188.8,403.0L189.0,402.7L189.2,403.9L189.5,402.0L189.8,401.7L190.0,402.7L190.2,403.0L190.5,403.0L190.8,402.8L191.0,402.4L191.2,401.8L191.5,402.4L191.8,403.2L192.0,400.6L192.2,398.7L192.5,398.2L192.8,398.5L193.0,398.6L193.2,398.7L193.5,398.6L193.8,398.4L194.0,398.9L194.2,399.4L194.5,399.9L194.8,400.7L195.0,403.7L195.2,406.5L195.5,409.2L195.8,406.3L196.0,403.7L196.2,401.3L196.5,401.3L196.8,401.9L197.0,402.3L197.2,402.3L197.5,402.2L197.8,401.9L198.0,401.5L198.2,402.6L198.5,405.1L198.8,404.7L199.0,404.6L199.2,404.6L199.5,403.7L199.8,402.6L200.0,402.0L200.2,402.0L200.5,402.4L200.8,403.0L201.0,403.5L201.2,403.8L201.5,403.8L201.8,403.6L202.0,403.4L202.2,403.0L202.5,402.6L202.8,402.2L203.0,402.1L203.2,402.3L203.5,402.4L203.8,402.6L204.0,404.6L204.2,408.4L204.5,407.4L204.8,411.3L205.0,406.2L205.2,404.0L205.5,403.8L205.8,406.1L206.0,409.4L206.2,412.5L206.5,408.3L206.8,404.1L207.0,401.3L207.2,401.4L207.5,402.0L207.8,402.7L208.0,403.2L208.2,403.3L208.5,403.1L208.8,402.7L209.0,402.7L209.2,403.8L209.5,404.8L209.8,408.0L210.0,414.5L210.2,407.3L210.5,404.0L210.8,403.8L211.0,403.7L211.2,403.6L211.5,403.5L211.8,403.5L212.0,403.5L212.2,403.6L212.5,406.1L212.8,411.3L213.0,416.3L213.2,411.6L213.5,406.6L213.8,404.2L214.0,404.3L214.2,404.2L214.5,404.1L214.8,404.0L215.0,404.1L215.2,404.2L215.5,404.8L215.8,406.9L216.0,409.0L216.2,408.5L216.5,407.9L216.8,408.3L217.0,408.5L217.2,406.5L217.5,403.5L217.8,400.3L218.0,401.7L218.2,403.4L218.5,405.0L218.8,405.4L219.0,405.8L219.2,406.5L219.5,406.1L219.8,405.7L220.0,405.2L220.2,405.4L220.5,406.0L220.8,407.4L221.0,411.4L221.2,415.3L221.5,412.2L221.8,408.6L222.0,407.2L222.2,405.5L222.5,406.3L222.8,406.5L223.0,406.6L223.2,407.0L223.5,407.7L223.8,408.2L224.0,408.5L224.2,408.3L224.5,408.3L224.8,411.9L225.0,415.7L225.2,412.3L225.5,408.6L225.8,407.1L226.0,405.4L226.2,406.3L226.5,407.2L226.8,407.8L227.0,408.7L227.2,409.5L227.5,410.1L227.8,410.3L228.0,410.5L228.2,411.0L228.5,411.0L228.8,411.1L229.0,411.6L229.2,412.3L229.5,413.1L229.8,413.5L230.0,413.7L230.2,413.9L230.5,413.9L230.8,414.1L231.0,413.3L231.2,414.8L231.5,418.3L231.8,419.8L232.0,415.8L232.2,414.3L232.5,414.4L232.8,414.3L233.0,414.4L233.2,414.5L233.5,414.4L233.8,413.8L234.0,414.7L234.2,415.4L234.5,415.7L234.8,415.8L235.0,415.7L235.2,414.8L235.5,414.0L235.8,413.8L236.0,414.1L236.2,414.5L236.5,414.5L236.8,414.1L237.0,413.7L237.2,413.6L237.5,413.9L237.8,414.1L238.0,414.3L238.2,414.6L238.5,415.8L238.8,417.0L239.0,418.0L239.2,418.2L239.5,418.2L239.8,418.2L240.0,418.5L240.2,419.2L240.5,420.1L240.8,420.7L241.0,419.5L241.2,418.2L241.5,417.6L241.8,417.6L242.0,418.5L242.2,420.7L242.5,422.8L242.8,423.9L243.0,421.9L243.2,420.2L243.5,421.1L243.8,423.1L244.0,423.2L244.2,422.2L244.5,421.6L244.8,420.5L245.0,419.0L245.2,417.5L245.5,417.7L245.8,418.3L246.0,419.0L246.2,419.3L246.5,418.5L246.8,416.9L247.0,418.7L247.2,419.7L247.5,419.4L247.8,419.1L248.0,418.9L248.2,418.8L248.5,418.9L248.8,419.3L249.0,422.4L249.2,425.6L249.5,423.6L249.8,421.6L250.0,422.1L250.2,422.9L250.5,430.7L250.8,438.4L251.0,430.7L251.2,422.6L251.5,421.9L251.8,421.3L252.0,420.9L252.2,420.9L252.5,421.2L252.8,421.7L253.0,422.1L253.2,422.4L253.5,422.4L253.8,424.4L254.0,427.7L254.2,430.5L254.5,426.3L254.8,422.3L255.0,420.1L255.2,420.1L255.5,420.2L255.8,420.4L256.0,420.9L256.2,421.6L256.5,422.1L256.8,422.4L257.0,421.5L257.2,420.3L257.5,419.2L257.8,417.6L258.0,417.6L258.2,417.9L258.5,418.6L258.8,422.3L259.0,425.9L259.2,424.6L259.5,424.0L259.8,423.6L260.0,424.0L260.2,423.2L260.5,423.4L260.8,424.0L261.0,424.5L261.2,424.3L261.5,423.5L261.8,422.5L262.0,422.0L262.2,421.8L262.5,421.6L262.8,421.2L263.0,420.6L263.2,420.1L263.5,420.0L263.8,420.3L264.0,420.8L264.2,421.3L264.5,421.6L264.8,422.0L265.0,421.9L265.2,421.2L265.5,420.1L265.8,419.1L266.0,418.9L266.2,419.1L266.5,418.9L266.8,419.0L267.0,419.3L267.2,420.2L267.5,423.7L267.8,438.3L268.0,426.7L268.2,424.4L268.5,424.0L268.8,424.5L269.0,425.5L269.2,427.0L269.5,425.9L269.8,424.3L270.0,421.9L270.2,419.2L270.5,419.1L270.8,419.1L271.0,418.5L271.2,418.1L271.5,420.7L271.8,422.8L272.0,424.2L272.2,421.7L272.5,419.5L272.8,417.3L273.0,416.8L273.2,416.3L273.5,415.8L273.8,415.6L274.0,415.7L274.2,415.9L274.5,416.3L274.8,416.7L275.0,417.1L275.2,417.5L275.5,417.9L275.8,418.1L276.0,418.0L276.2,419.0L276.5,421.6L276.8,424.2L277.0,421.6L277.2,419.0L277.5,417.9L277.8,417.9L278.0,417.9L278.2,418.0L278.5,418.1L278.8,418.3L279.0,418.3L279.2,418.5L279.5,419.1L279.8,419.6L280.0,419.7L280.2,419.0L280.5,417.5L280.8,415.9L281.0,414.6L281.2,415.3L281.5,417.5L281.8,420.2L282.0,420.9L282.2,421.0L282.5,421.5L282.8,421.5L283.0,421.3L283.2,421.1L283.5,421.0L283.8,421.1L284.0,421.2L284.2,424.0L284.5,433.5L284.8,424.3L285.0,421.8L285.2,421.9L285.5,422.0L285.8,422.2L286.0,422.9L286.2,427.8L286.5,432.5L286.8,427.0L287.0,421.9L287.2,421.4L287.5,421.9L287.8,422.3L288.0,422.7L288.2,423.2L288.5,424.1L288.8,425.3L289.0,426.3L289.2,426.8L289.5,426.7L289.8,427.6L290.0,428.5L290.2,429.6L290.5,427.8L290.8,426.3L291.0,425.2L291.2,425.9L291.5,426.6L291.8,427.3L292.0,427.7L292.2,427.8L292.5,427.6L292.8,427.3L293.0,427.6L293.2,428.2L293.5,429.0L293.8,428.5L294.0,427.9L294.2,427.3L294.5,427.2L294.8,426.9L295.0,426.4L295.2,426.1L295.5,425.8L295.8,425.5L296.0,425.2L296.2,425.0L296.5,424.9L296.8,425.2L297.0,425.8L297.2,427.0L297.5,429.6L297.8,432.2L298.0,431.3L298.2,429.9L298.5,429.3L298.8,427.7L299.0,423.5L299.2,426.2L299.5,429.0L299.8,433.5L300.0,429.0L300.2,427.1L300.5,427.5L300.8,428.0L301.0,427.8L301.2,427.6L301.5,427.7L301.8,427.5L302.0,426.9L302.2,426.3L302.5,425.4L302.8,425.7L303.0,426.1L303.2,426.5L303.5,427.0L303.8,427.2L304.0,428.4L304.2,432.9L304.5,437.3L304.8,432.9L305.0,428.6L305.2,427.7L305.5,428.0L305.8,428.0L306.0,427.6L306.2,427.0L306.5,426.5L306.8,426.0L307.0,425.6L307.2,425.3L307.5,424.9L307.8,424.6L308.0,424.5L308.2,424.7L308.5,425.1L308.8,425.6L309.0,426.3L309.2,426.9L309.5,427.2L309.8,427.1L310.0,426.7L310.2,426.2L310.5,426.0L310.8,426.1L311.0,426.6L311.2,427.3L311.5,427.9L311.8,428.2L312.0,428.0L312.2,427.7L312.5,427.3L312.8,427.2L313.0,427.5L313.2,428.0L313.5,428.7L313.8,430.2L314.0,431.2L314.2,432.0L314.5,430.3L314.8,428.0L315.0,426.5L315.2,426.6L315.5,427.3L315.8,428.0L316.0,428.6L316.2,428.9L316.5,429.1L316.8,429.3L317.0,429.3L317.2,429.2L317.5,428.9L317.8,428.8L318.0,429.2L318.2,429.7L318.5,432.6L318.8,434.2L319.0,430.4L319.2,426.7L319.5,427.6L319.8,433.2L320.0,438.9L320.2,433.3L320.5,427.9L320.8,427.0L321.0,427.6L321.2,428.1L321.5,428.6L321.8,428.9L322.0,428.9L322.2,428.8L322.5,428.4L322.8,427.9L323.0,427.6L323.2,427.4L323.5,427.3L323.8,427.4L324.0,427.5L324.2,427.6L324.5,427.9L324.8,428.4L325.0,432.6L325.2,437.4L325.5,433.8L325.8,430.6L326.0,430.6L326.2,430.3L326.5,429.8L326.8,429.2L327.0,428.9L327.2,437.7L327.5,429.2L327.8,429.6L328.0,430.2L328.2,430.8L328.5,431.1L328.8,430.8L329.0,430.5L329.2,430.4L329.5,430.3L329.8,430.2L330.0,428.4L330.2,426.7L330.5,429.5L330.8,432.0L331.0,432.2L331.2,432.0L331.5,431.5L331.8,430.8L332.0,430.4L332.2,430.1L332.5,430.1L332.8,430.3L333.0,430.4L333.2,430.3L333.5,429.9L333.8,429.4L334.0,428.9L334.2,428.8L334.5,429.3L334.8,430.2L335.0,431.1L335.2,431.5L335.5,431.4L335.8,431.4L336.0,431.6L336.2,431.9L336.5,431.6L336.8,431.8L337.0,432.4L337.2,430.6L337.5,429.5L337.8,429.6L338.0,430.1L338.2,431.2L338.5,432.4L338.8,433.6L339.0,434.5L339.2,434.4L339.5,434.6L339.8,434.6L340.0,432.1L340.2,430.9L340.5,430.4L340.8,430.1L341.0,430.3L341.2,430.4L341.5,431.5L341.8,433.2L342.0,434.5L342.2,435.3L342.5,433.2L342.8,431.3L343.0,429.8L343.2,429.2L343.5,428.8L343.8,429.0L344.0,429.7L344.2,429.8L344.5,430.5L344.8,431.7L345.0,432.1L345.2,432.2L345.5,432.1L345.8,438.4L346.0,430.6L346.2,429.4L346.5,429.0L346.8,429.4L347.0,430.3L347.2,431.5L347.5,432.3L347.8,432.5L348.0,432.3L348.2,431.8L348.5,431.2L348.8,430.6L349.0,430.8L349.2,433.7L349.5,436.8L349.8,433.8L350.0,431.0L350.2,430.7L350.5,431.0L350.8,431.2L351.0,431.0L351.2,430.7L351.5,430.4L351.8,430.4L352.0,430.8L352.2,431.5L352.5,432.3L352.8,431.9L353.0,430.2L353.2,427.8L353.5,428.9L353.8,429.9L354.0,431.0L354.2,431.4L354.5,431.8L354.8,431.4L355.0,431.2L355.2,430.5L355.5,430.0L355.8,429.6L356.0,430.7L356.2,432.5L356.5,435.4L356.8,437.4L357.0,439.3L357.2,437.4L357.5,435.8L357.8,433.5L358.0,432.6L358.2,434.2L358.5,437.8L358.8,441.4L359.0,444.9L359.2,441.5L359.5,438.0L359.8,434.2L360.0,432.3L360.2,431.6L360.5,430.9L360.8,430.0L361.0,429.2L361.2,430.5L361.5,433.8L361.8,430.3L362.0,428.8L362.2,429.5L362.5,430.3L362.8,431.1L363.0,432.0L363.2,432.8L363.5,433.2L363.8,432.7L364.0,431.7L364.2,430.7L364.5,430.4L364.8,435.0L365.0,439.6L365.2,434.7L365.5,430.5L365.8,430.0L366.0,430.7L366.2,435.1L366.5,432.5L366.8,431.8L367.0,434.6L367.2,438.4L367.5,433.3L367.8,429.7L368.0,429.7L368.2,429.3L368.5,428.8L368.8,432.9L369.0,435.9L369.2,433.4L369.5,430.7L369.8,429.5L370.0,429.2L370.2,428.9L370.5,428.5L370.8,432.7L371.0,436.6L371.2,429.5L371.5,423.6L371.8,425.6L372.0,426.6L372.2,427.6L372.5,427.8L372.8,427.8L373.0,427.9L373.2,428.1L373.5,428.7L373.8,429.4L374.0,430.0L374.2,430.2L374.5,429.7L374.8,428.7L375.0,427.3L375.2,426.1L375.5,425.5L375.8,425.5L376.0,426.1L376.2,427.1L376.5,428.5L376.8,430.2L377.0,431.7L377.2,432.7L377.5,432.4L377.8,431.3L378.0,430.0L378.2,429.0L378.5,428.9L378.8,429.0L379.0,429.4L379.2,428.7L379.5,428.2L379.8,430.0L380.0,432.5L380.2,429.8L380.5,427.2L380.8,426.8L381.0,426.4L381.2,426.4L381.5,426.6L381.8,426.4L382.0,426.2L382.2,426.1L382.5,426.1L382.8,426.3L383.0,427.1L383.2,428.3L383.5,429.4L383.8,428.6L384.0,427.6L384.2,426.9L384.5,426.6L384.8,426.1L385.0,425.2L385.2,424.6L385.5,425.7L385.8,428.3L386.0,432.6L386.2,429.4L386.5,428.6L386.8,430.5L387.0,432.2L387.2,429.1L387.5,426.1L387.8,425.4L388.0,426.0L388.2,426.7L388.5,426.0L388.8,425.5L389.0,425.6L389.2,426.0L389.5,426.5L389.8,426.9L390.0,426.7L390.2,426.2L390.5,425.7L390.8,425.2L391.0,424.7L391.2,424.0L391.5,424.6L391.8,426.4L392.0,425.0L392.2,423.7L392.5,423.6L392.8,423.5L393.0,423.6L393.2,423.7L393.5,424.0L393.8,424.4L394.0,424.5L394.2,423.2L394.5,424.3L394.8,425.5L395.0,426.7L395.2,425.0L395.5,423.3L395.8,422.1L396.0,423.8L396.2,424.4L396.5,424.6L396.8,424.6L397.0,424.5L397.2,424.3L397.5,424.1L397.8,423.7L398.0,420.6L398.2,417.5L398.5,420.1L398.8,423.7L399.0,425.6L399.2,425.8L399.5,425.9L399.8,424.3L400.0,422.7L400.2,421.0L400.5,421.7L400.8,420.3L401.0,421.1L401.2,420.2L401.5,419.9L401.8,419.8L402.0,419.7L402.2,418.7L402.5,417.4L402.8,416.4L403.0,415.4L403.2,418.0L403.5,420.8L403.8,421.9L404.0,422.6L404.2,422.3L404.5,421.5L404.8,420.4L405.0,419.3L405.2,418.6L405.5,418.1L405.8,417.9L406.0,417.6L406.2,417.2L406.5,416.7L406.8,416.4L407.0,416.4L407.2,416.7L407.5,417.0L407.8,417.2L408.0,416.1L408.2,413.9L408.5,411.6L408.8,409.4L409.0,412.6L409.2,416.4L409.5,420.1L409.8,419.2L410.0,417.3L410.2,416.2L410.5,416.3L410.8,418.1L411.0,420.2L411.2,422.4L411.5,421.0L411.8,419.3L412.0,417.6L412.2,419.3L412.5,420.7L412.8,420.0L413.0,417.4L413.2,416.8L413.5,416.8L413.8,417.8L414.0,418.3L414.2,418.8L414.5,422.4L414.8,417.9L415.0,417.1L415.2,417.1L415.5,417.3L415.8,417.6L416.0,417.7L416.2,417.7L416.5,419.0L416.8,421.1L417.0,421.5L417.2,419.8L417.5,419.5L417.8,418.9L418.0,418.8L418.2,417.3L418.5,415.4L418.8,413.5L419.0,414.4L419.2,415.6L419.5,416.9L419.8,417.4L420.0,418.4L420.2,419.2L420.5,417.7L420.8,415.6L421.0,414.1L421.2,413.0L421.5,413.7L421.8,414.4L422.0,415.0L422.2,414.8L422.5,414.4L422.8,414.0L423.0,413.9L423.2,413.9L423.5,414.0L423.8,413.5L424.0,416.1L424.2,420.5L424.5,425.0L424.8,420.3L425.0,415.6L425.2,412.4L425.5,412.4L425.8,412.6L426.0,412.9L426.2,413.0L426.5,412.7L426.8,411.8L427.0,410.6L427.2,410.0L427.5,410.0L427.8,409.0L428.0,408.7L428.2,409.2L428.5,410.5L428.8,415.6L429.0,410.7L429.2,409.3L429.5,408.4L429.8,407.7L430.0,407.5L430.2,405.8L430.5,403.6L430.8,405.8L431.0,407.1L431.2,406.3L431.5,408.4L431.8,411.4L432.0,405.9L432.2,402.1L432.5,402.1L432.8,402.3L433.0,402.6L433.2,403.4L433.5,405.9L433.8,410.3L434.0,414.8L434.2,415.7L434.5,412.1L434.8,408.6L435.0,406.0L435.2,405.0L435.5,404.3L435.8,403.3L436.0,402.4L436.2,401.8L436.5,401.1L436.8,400.9L437.0,401.2L437.2,401.7L437.5,404.6L437.8,401.9L438.0,401.1L438.2,402.0L438.5,402.1L438.8,400.2L439.0,397.4L439.2,396.6L439.5,395.8L439.8,394.5L440.0,393.4L440.2,392.6L440.5,392.1L440.8,392.1L441.0,394.0L441.2,396.1L441.5,394.3L441.8,392.9L442.0,393.1L442.2,393.3L442.5,393.3L442.8,393.3L443.0,393.1L443.2,393.0L443.5,394.4L443.8,396.9L444.0,399.4L444.2,398.0L444.5,395.6L444.8,393.9L445.0,393.4L445.2,393.2L445.5,393.0L445.8,392.4L446.0,391.5L446.2,390.1L446.5,388.8L446.8,387.9L447.0,387.5L447.2,388.5L447.5,389.7L447.8,390.9L448.0,391.7L448.2,391.7L448.5,391.3L448.8,391.1L449.0,391.2L449.2,391.5L449.5,391.9L449.8,391.4L450.0,391.1L450.2,392.1L450.5,393.4L450.8,392.3L451.0,391.1L451.2,390.9L451.5,390.8L451.8,391.1L452.0,391.5L452.2,391.8L452.5,391.6L452.8,391.9L453.0,390.3L453.2,389.6L453.5,389.4L453.8,389.5L454.0,390.1L454.2,390.9L454.5,391.7L454.8,392.4L455.0,392.9L455.2,392.9L455.5,392.7L455.8,393.1L456.0,394.2L456.2,395.7L456.5,394.7L456.8,393.7L457.0,391.7L457.2,390.4L457.5,389.3L457.8,388.7L458.0,388.2L458.2,387.8L458.5,389.7L458.8,391.2L459.0,392.0L459.2,392.5L459.5,392.8L459.8,392.9L460.0,392.9L460.2,392.9L460.5,393.0L460.8,393.0L461.0,391.5L461.2,388.6L461.5,391.2L461.8,393.2L462.0,391.4L462.2,390.6L462.5,391.7L462.8,393.0L463.0,394.1L463.2,394.7L463.5,394.9L463.8,395.0L464.0,395.2L464.2,395.7L464.5,396.5L464.8,395.1L465.0,392.4L465.2,395.7L465.5,397.3L465.8,396.0L466.0,393.7L466.2,391.9L466.5,391.2L466.8,392.2L467.0,393.3L467.2,395.4L467.5,396.8L467.8,395.7L468.0,394.6L468.2,392.7L468.5,391.0L468.8,389.2L469.0,387.7L469.2,389.3L469.5,391.1L469.8,393.0L470.0,394.5L470.2,394.5L470.5,394.5L470.8,394.4L471.0,394.5L471.2,394.5L471.5,394.4L471.8,394.1L472.0,394.0L472.2,394.1L472.5,394.3L472.8,394.4L473.0,394.1L473.2,393.6L473.5,393.5L473.8,394.1L474.0,395.2L474.2,396.4L474.5,397.5L474.8,398.7L475.0,399.6L475.2,400.3L475.5,399.5L475.8,398.8L476.0,398.3L476.2,398.8L476.5,399.7L476.8,400.8L477.0,401.7L477.2,403.2L477.5,406.1L477.8,404.6L478.0,403.8L478.2,404.0L478.5,400.6L478.8,398.0L479.0,396.0L479.2,395.7L479.5,396.8L479.8,397.6L480.0,398.1L480.2,399.2L480.5,400.0L480.8,400.2L481.0,400.7L481.2,401.3L481.5,401.2L481.8,401.8L482.0,404.0L482.2,406.5L482.5,407.0L482.8,408.1L483.0,409.2L483.2,410.2L483.5,407.1L483.8,405.0L484.0,403.3L484.2,402.0L484.5,401.8L484.8,401.5L485.0,401.3L485.2,401.1L485.5,401.2L485.8,401.7L486.0,402.2L486.2,402.7L486.5,402.7L486.8,402.8L487.0,402.9L487.2,403.0L487.5,403.1L487.8,403.1L488.0,402.9L488.2,402.5L488.5,402.0L488.8,401.6L489.0,401.7L489.2,402.4L489.5,403.5L489.8,404.4L490.0,405.1L490.2,405.3L490.5,405.2L490.8,404.8L491.0,405.7L491.2,407.4L491.5,409.1L491.8,410.9L492.0,407.5L492.2,404.3L492.5,401.3L492.8,399.5L493.0,400.5L493.2,401.2L493.5,401.9L493.8,402.5L494.0,402.8L494.2,403.2L494.5,403.8L494.8,404.5L495.0,405.2L495.2,405.9L495.5,406.9L495.8,407.8L496.0,407.8L496.2,407.6L496.5,407.5L496.8,406.9L497.0,406.0L497.2,404.8L497.5,401.2L497.8,397.9L498.0,401.2L498.2,404.5L498.5,404.9L498.8,404.9L499.0,404.9L499.2,404.9L499.5,404.8L499.8,404.5L500.0,404.3L500.2,404.3L500.5,404.6L500.8,405.0L501.0,406.7L501.2,409.3L501.5,408.5L501.8,408.1L502.0,408.4L502.2,406.7L502.5,405.4L502.8,404.5L503.0,404.1L503.2,402.9L503.5,400.2L503.8,399.6L504.0,408.0L504.2,406.0L504.5,408.0L504.8,409.4L505.0,410.1L505.2,410.5L505.5,410.6L505.8,410.2L506.0,409.4L506.2,408.2L506.5,406.9L506.8,406.0L507.0,405.5L507.2,405.5L507.5,408.1L507.8,412.1L508.0,416.3L508.2,413.3L508.5,410.1L508.8,407.7L509.0,407.2L509.2,406.9L509.5,407.2L509.8,407.9L510.0,408.8L510.2,409.3L510.5,409.2L510.8,408.5L511.0,409.3L511.2,412.3L511.5,410.7L511.8,412.9L512.0,416.5L512.2,417.7L512.5,414.7L512.8,413.0L513.0,411.6L513.2,411.4L513.5,414.3L513.8,417.9L514.0,412.7L514.2,408.0L514.5,410.6L514.8,412.9L515.0,414.5L515.2,416.2L515.5,417.6L515.8,419.3L516.0,433.6L516.2,447.5L516.5,433.5L516.8,422.0L517.0,424.4L517.2,420.8L517.5,417.3L517.8,416.6L518.0,417.5L518.2,419.5L518.5,421.2L518.8,423.0L519.0,419.8L519.2,418.2L519.5,417.1L519.8,417.8L520.0,414.9L520.2,413.5L520.5,414.3L520.8,417.1L521.0,420.2L521.2,419.1L521.5,417.6L521.8,415.5L522.0,413.6L522.2,412.5L522.5,411.5L522.8,411.2L523.0,411.5L523.2,412.3L523.5,413.6L523.8,415.1L524.0,414.3L524.2,413.4L524.5,413.1L524.8,414.4L525.0,415.5L525.2,416.2L525.5,416.9L525.8,418.0L526.0,419.6L526.2,422.1L526.5,426.3L526.8,430.2L527.0,434.3L527.2,430.6L527.5,427.0L527.8,423.4L528.0,421.4L528.2,421.5L528.5,421.4L528.8,421.2L529.0,420.7L529.2,420.0L529.5,418.8L529.8,417.6L530.0,416.9L530.2,417.5L530.5,417.9L530.8,420.0L531.0,422.3L531.2,423.0L531.5,423.3L531.8,423.5L532.0,423.1L532.2,422.2L532.5,421.2L532.8,420.6L533.0,420.9L533.2,421.4L533.5,421.2L533.8,421.0L534.0,423.3L534.2,425.7L534.5,428.3L534.8,427.0L535.0,427.9L535.2,423.3L535.5,422.7L535.8,423.1L536.0,420.7L536.2,416.5L536.5,418.9L536.8,421.0L537.0,422.4L537.2,425.9L537.5,433.8L537.8,442.1L538.0,441.0L538.2,431.3L538.5,423.6L538.8,424.9L539.0,436.9L539.2,424.4L539.5,420.2L539.8,421.8L540.0,424.1L540.2,425.4L540.5,426.1L540.8,426.4L541.0,425.8L541.2,425.3L541.5,425.6L541.8,426.2L542.0,426.8L542.2,425.4L542.5,423.6L542.8,422.1L543.0,421.8L543.2,422.6L543.5,424.2L543.8,425.9L544.0,427.3L544.2,428.0L544.5,428.4L544.8,428.4L545.0,428.0L545.2,426.9L545.5,424.9L545.8,423.1L546.0,422.1L546.2,422.4L546.5,423.5L546.8,425.0L547.0,426.5L547.2,427.6L547.5,428.1L547.8,428.2L548.0,428.0L548.2,427.5L548.5,427.2L548.8,427.3L549.0,428.0L549.2,429.0L549.5,429.9L549.8,430.5L550.0,430.4L550.2,429.9L550.5,429.3L550.8,430.4L551.0,431.0L551.2,431.1" stroke="#2b2d72" stroke-width="1.05" fill="none"/>
<path d="M143.5,415.5L144.0,415.4L144.5,415.2L145.0,415.1L145.5,414.9L146.0,414.6L146.5,414.4L147.0,414.2L147.5,414.0L148.0,413.8L148.5,413.5L149.0,413.3L149.5,413.1L150.0,412.9L150.5,412.7L151.0,412.4L151.5,412.2L152.0,412.0L152.5,411.8L153.0,411.5L153.5,411.3L154.0,411.1L154.5,410.9L155.0,410.7L155.5,410.4L156.0,410.2L156.5,410.0L157.0,409.8L157.5,409.6L158.0,409.3L158.5,409.1L159.0,408.9L159.5,408.7L160.0,408.5L160.5,408.3L161.0,408.1L161.5,408.0L162.0,407.8L162.5,407.6L163.0,407.5L163.5,407.3L164.0,407.1L164.5,407.0L165.0,406.8L165.5,406.6L166.0,406.5L166.5,406.3L167.0,406.1L167.5,406.0L168.0,405.8L168.5,405.7L169.0,405.5L169.5,405.3L170.0,405.1L170.5,405.0L171.0,404.8L171.5,404.6L172.0,404.4L172.5,404.2L173.0,404.0L173.5,403.9L174.0,403.7L174.5,403.5L175.0,403.3L175.5,403.1L176.0,402.9L176.5,402.7L177.0,402.5L177.5,402.4L178.0,402.2L178.5,402.0L179.0,401.8L179.5,401.6L180.0,401.4L180.5,401.2L181.0,401.0L181.5,400.9L182.0,400.7L182.5,400.6L183.0,400.5L183.5,400.4L184.0,400.3L184.5,400.3L185.0,400.3L185.5,400.3L186.0,400.4L186.5,400.5L187.0,400.5L187.5,400.6L188.0,400.6L188.5,400.7L189.0,400.8L189.5,400.8L190.0,400.9L190.5,400.9L191.0,401.0L191.5,401.1L192.0,401.1L192.5,401.2L193.0,401.2L193.5,401.3L194.0,401.4L194.5,401.4L195.0,401.5L195.5,401.5L196.0,401.6L196.5,401.7L197.0,401.8L197.5,401.9L198.0,402.0L198.5,402.1L199.0,402.2L199.5,402.3L200.0,402.4L200.5,402.5L201.0,402.6L201.5,402.7L202.0,402.8L202.5,402.9L203.0,403.0L203.5,403.1L204.0,403.2L204.5,403.4L205.0,403.5L205.5,403.6L206.0,403.7L206.5,403.8L207.0,403.9L207.5,404.0L208.0,404.1L208.5,404.2L209.0,404.3L209.5,404.4L210.0,404.6L210.5,404.7L211.0,404.8L211.5,404.9L212.0,405.0L212.5,405.1L213.0,405.2L213.5,405.3L214.0,405.4L214.5,405.5L215.0,405.6L215.5,405.8L216.0,405.9L216.5,406.0L217.0,406.1L217.5,406.2L218.0,406.3L218.5,406.4L219.0,406.5L219.5,406.7L220.0,406.9L220.5,407.0L221.0,407.2L221.5,407.4L222.0,407.6L222.5,407.9L223.0,408.1L223.5,408.4L224.0,408.6L224.5,408.9L225.0,409.1L225.5,409.4L226.0,409.6L226.5,409.9L227.0,410.1L227.5,410.3L228.0,410.6L228.5,410.8L229.0,411.1L229.5,411.3L230.0,411.6L230.5,411.8L231.0,412.1L231.5,412.3L232.0,412.6L232.5,412.8L233.0,413.1L233.5,413.4L234.0,413.7L234.5,414.0L235.0,414.3L235.5,414.6L236.0,414.9L236.5,415.3L237.0,415.6L237.5,415.9L238.0,416.3L238.5,416.6L239.0,417.0L239.5,417.3L240.0,417.6L240.5,418.0L241.0,418.3L241.5,418.6L242.0,418.9L242.5,419.2L243.0,419.5L243.5,419.7L244.0,419.9L244.5,420.0L245.0,420.1L245.5,420.2L246.0,420.2L246.5,420.3L247.0,420.3L247.5,420.3L248.0,420.4L248.5,420.4L249.0,420.4L249.5,420.4L250.0,420.5L250.5,420.5L251.0,420.5L251.5,420.6L252.0,420.6L252.5,420.6L253.0,420.7L253.5,420.7L254.0,420.7L254.5,420.7L255.0,420.8L255.5,420.8L256.0,420.8L256.5,420.9L257.0,420.9L257.5,420.9L258.0,421.0L258.5,421.0L259.0,421.0L259.5,421.0L260.0,421.0L260.5,421.0L261.0,421.0L261.5,421.0L262.0,420.9L262.5,420.9L263.0,420.8L263.5,420.8L264.0,420.7L264.5,420.7L265.0,420.6L265.5,420.6L266.0,420.5L266.5,420.5L267.0,420.4L267.5,420.4L268.0,420.3L268.5,420.3L269.0,420.2L269.5,420.0L270.0,419.8L270.5,419.6L271.0,419.3L271.5,418.9L272.0,418.6L272.5,418.2L273.0,417.9L273.5,417.7L274.0,417.5L274.5,417.4L275.0,417.4L275.5,417.4L276.0,417.5L276.5,417.7L277.0,417.9L277.5,418.0L278.0,418.2L278.5,418.4L279.0,418.5L279.5,418.7L280.0,418.8L280.5,419.0L281.0,419.2L281.5,419.3L282.0,419.5L282.5,419.7L283.0,419.9L283.5,420.1L284.0,420.4L284.5,420.7L285.0,420.9L285.5,421.2L286.0,421.6L286.5,421.9L287.0,422.2L287.5,422.6L288.0,422.9L288.5,423.2L289.0,423.5L289.5,423.9L290.0,424.2L290.5,424.5L291.0,424.9L291.5,425.2L292.0,425.5L292.5,425.8L293.0,426.1L293.5,426.3L294.0,426.5L294.5,426.6L295.0,426.7L295.5,426.8L296.0,426.8L296.5,426.8L297.0,426.8L297.5,426.8L298.0,426.8L298.5,426.8L299.0,426.8L299.5,426.8L300.0,426.8L300.5,426.8L301.0,426.8L301.5,426.8L302.0,426.8L302.5,426.8L303.0,426.8L303.5,426.8L304.0,426.8L304.5,426.8L305.0,426.8L305.5,426.8L306.0,426.8L306.5,426.8L307.0,426.9L307.5,426.9L308.0,426.9L308.5,427.0L309.0,427.0L309.5,427.1L310.0,427.2L310.5,427.2L311.0,427.3L311.5,427.3L312.0,427.4L312.5,427.5L313.0,427.5L313.5,427.6L314.0,427.7L314.5,427.7L315.0,427.8L315.5,427.9L316.0,427.9L316.5,428.0L317.0,428.0L317.5,428.1L318.0,428.2L318.5,428.2L319.0,428.3L319.5,428.4L320.0,428.4L320.5,428.5L321.0,428.6L321.5,428.6L322.0,428.7L322.5,428.7L323.0,428.8L323.5,428.9L324.0,428.9L324.5,429.0L325.0,429.1L325.5,429.1L326.0,429.2L326.5,429.2L327.0,429.3L327.5,429.4L328.0,429.4L328.5,429.5L329.0,429.6L329.5,429.6L330.0,429.7L330.5,429.8L331.0,429.8L331.5,429.9L332.0,429.9L332.5,430.0L333.0,430.1L333.5,430.1L334.0,430.2L334.5,430.2L335.0,430.3L335.5,430.3L336.0,430.4L336.5,430.4L337.0,430.5L337.5,430.5L338.0,430.6L338.5,430.6L339.0,430.7L339.5,430.7L340.0,430.7L340.5,430.8L341.0,430.8L341.5,430.9L342.0,430.9L342.5,431.0L343.0,431.0L343.5,431.1L344.0,431.1L344.5,431.2L345.0,431.2L345.5,431.3L346.0,431.3L346.5,431.3L347.0,431.4L347.5,431.4L348.0,431.5L348.5,431.5L349.0,431.6L349.5,431.6L350.0,431.7L350.5,431.7L351.0,431.8L351.5,431.8L352.0,431.9L352.5,431.9L353.0,432.0L353.5,432.0L354.0,432.1L354.5,432.1L355.0,432.2L355.5,432.2L356.0,432.3L356.5,432.3L357.0,432.3L357.5,432.3L358.0,432.3L358.5,432.3L359.0,432.2L359.5,432.2L360.0,432.1L360.5,432.0L361.0,431.9L361.5,431.7L362.0,431.6L362.5,431.5L363.0,431.4L363.5,431.2L364.0,431.1L364.5,431.0L365.0,430.9L365.5,430.7L366.0,430.6L366.5,430.5L367.0,430.4L367.5,430.2L368.0,430.1L368.5,430.0L369.0,429.9L369.5,429.7L370.0,429.6L370.5,429.5L371.0,429.4L371.5,429.3L372.0,429.2L372.5,429.1L373.0,429.0L373.5,428.9L374.0,428.8L374.5,428.7L375.0,428.6L375.5,428.5L376.0,428.4L376.5,428.3L377.0,428.3L377.5,428.2L378.0,428.1L378.5,428.0L379.0,427.9L379.5,427.8L380.0,427.7L380.5,427.6L381.0,427.5L381.5,427.4L382.0,427.4L382.5,427.3L383.0,427.2L383.5,427.1L384.0,427.0L384.5,426.9L385.0,426.8L385.5,426.7L386.0,426.6L386.5,426.5L387.0,426.3L387.5,426.2L388.0,426.1L388.5,426.0L389.0,425.8L389.5,425.7L390.0,425.6L390.5,425.5L391.0,425.3L391.5,425.2L392.0,425.1L392.5,425.0L393.0,424.9L393.5,424.7L394.0,424.6L394.5,424.5L395.0,424.4L395.5,424.2L396.0,424.1L396.5,424.0L397.0,423.9L397.5,423.7L398.0,423.5L398.5,423.3L399.0,423.1L399.5,422.8L400.0,422.6L400.5,422.3L401.0,422.0L401.5,421.7L402.0,421.4L402.5,421.1L403.0,420.8L403.5,420.5L404.0,420.2L404.5,419.9L405.0,419.6L405.5,419.4L406.0,419.1L406.5,418.8L407.0,418.6L407.5,418.4L408.0,418.2L408.5,418.0L409.0,417.8L409.5,417.6L410.0,417.5L410.5,417.3L411.0,417.2L411.5,417.2L412.0,417.2L412.5,417.2L413.0,417.3L413.5,417.4L414.0,417.5L414.5,417.7L415.0,417.8L415.5,418.0L416.0,418.0L416.5,418.0L417.0,418.0L417.5,417.9L418.0,417.8L418.5,417.7L419.0,417.4L419.5,417.2L420.0,416.9L420.5,416.7L421.0,416.4L421.5,416.2L422.0,415.9L422.5,415.6L423.0,415.3L423.5,414.9L424.0,414.5L424.5,414.1L425.0,413.7L425.5,413.2L426.0,412.7L426.5,412.2L427.0,411.7L427.5,411.2L428.0,410.6L428.5,410.1L429.0,409.5L429.5,408.9L430.0,408.3L430.5,407.7L431.0,407.1L431.5,406.5L432.0,405.8L432.5,405.2L433.0,404.6L433.5,404.0L434.0,403.3L434.5,402.7L435.0,402.1L435.5,401.5L436.0,400.8L436.5,400.2L437.0,399.6L437.5,399.0L438.0,398.4L438.5,397.7L439.0,397.1L439.5,396.5L440.0,395.9L440.5,395.3L441.0,394.8L441.5,394.3L442.0,393.9L442.5,393.5L443.0,393.2L443.5,392.9L444.0,392.7L444.5,392.5L445.0,392.4L445.5,392.2L446.0,392.0L446.5,391.9L447.0,391.7L447.5,391.5L448.0,391.4L448.5,391.2L449.0,391.0L449.5,390.8L450.0,390.7L450.5,390.5L451.0,390.4L451.5,390.3L452.0,390.2L452.5,390.1L453.0,390.1L453.5,390.0L454.0,390.0L454.5,390.0L455.0,390.0L455.5,390.0L456.0,390.0L456.5,390.0L457.0,390.0L457.5,390.1L458.0,390.1L458.5,390.2L459.0,390.4L459.5,390.5L460.0,390.7L460.5,390.9L461.0,391.2L461.5,391.4L462.0,391.7L462.5,391.9L463.0,392.2L463.5,392.4L464.0,392.7L464.5,392.9L465.0,393.1L465.5,393.4L466.0,393.6L466.5,393.8L467.0,394.0L467.5,394.2L468.0,394.4L468.5,394.6L469.0,394.8L469.5,394.9L470.0,395.1L470.5,395.3L471.0,395.5L471.5,395.7L472.0,395.9L472.5,396.1L473.0,396.3L473.5,396.4L474.0,396.6L474.5,396.8L475.0,397.0L475.5,397.2L476.0,397.4L476.5,397.6L477.0,397.8L477.5,397.9L478.0,398.1L478.5,398.3L479.0,398.5L479.5,398.7L480.0,398.9L480.5,399.1L481.0,399.3L481.5,399.4L482.0,399.6L482.5,399.8L483.0,400.0L483.5,400.2L484.0,400.4L484.5,400.6L485.0,400.8L485.5,400.9L486.0,401.1L486.5,401.3L487.0,401.5L487.5,401.7L488.0,401.9L488.5,402.1L489.0,402.2L489.5,402.4L490.0,402.6L490.5,402.8L491.0,403.0L491.5,403.2L492.0,403.4L492.5,403.5L493.0,403.7L493.5,403.9L494.0,404.1L494.5,404.3L495.0,404.5L495.5,404.7L496.0,404.9L496.5,405.0L497.0,405.2L497.5,405.4L498.0,405.6L498.5,405.8L499.0,406.0L499.5,406.2L500.0,406.3L500.5,406.5L501.0,406.7L501.5,406.9L502.0,407.1L502.5,407.3L503.0,407.5L503.5,407.7L504.0,407.8L504.5,408.0L505.0,408.2L505.5,408.4L506.0,408.6L506.5,408.8L507.0,409.0L507.5,409.1L508.0,409.3L508.5,409.5L509.0,409.7L509.5,409.9L510.0,410.1L510.5,410.3L511.0,410.5L511.5,410.6L512.0,410.8L512.5,411.0L513.0,411.2L513.5,411.4L514.0,411.6L514.5,411.8L515.0,411.9L515.5,412.1L516.0,412.3L516.5,412.5L517.0,412.7L517.5,412.9L518.0,413.1L518.5,413.3L519.0,413.5L519.5,413.7L520.0,414.0L520.5,414.2L521.0,414.5L521.5,414.7L522.0,415.0L522.5,415.2L523.0,415.5L523.5,415.7L524.0,416.0L524.5,416.2L525.0,416.5L525.5,416.7L526.0,417.0L526.5,417.2L527.0,417.5L527.5,417.7L528.0,418.0L528.5,418.2L529.0,418.5L529.5,418.7L530.0,419.0L530.5,419.2L531.0,419.5L531.5,419.7L532.0,420.0L532.5,420.2L533.0,420.5L533.5,420.7L534.0,421.0L534.5,421.2L535.0,421.5L535.5,421.8L536.0,422.0L536.5,422.2L537.0,422.5L537.5,422.7L538.0,423.0L538.5,423.2L539.0,423.5L539.5,423.7L540.0,424.0L540.5,424.2L541.0,424.5L541.5,424.7L542.0,425.0L542.5,425.2L543.0,425.5L543.5,425.7L544.0,426.0L544.5,426.3L545.0,426.5L545.5,426.8L546.0,427.1L546.5,427.4L547.0,427.7L547.5,428.0L548.0,428.3L548.5,428.6L549.0,428.9L549.5,429.2L550.0,429.5L550.5,429.7L551.0,429.9" stroke="#d0707a" stroke-width="1.4" fill="none" opacity="0.85"/>
<rect x="122.8" y="382.7" width="450.0" height="66.0" fill="none" stroke="#6e6e6e" stroke-width="1.4"/>
<text x="122.8" y="380.3" font-size="4.9" font-weight="bold" fill="#2e2e2e" textLength="51.8" lengthAdjust="spacingAndGlyphs" xml:space="preserve" >Form Suppression: 0.000 mm</text>
<text x="571.5" y="380.3" font-size="4.9" font-weight="bold" fill="#2e2e2e" text-anchor="end" textLength="70" lengthAdjust="spacingAndGlyphs" xml:space="preserve" >Waviness/Roughness: SGauss: 0.021 in</text>
<text x="119.5" y="384.5" font-size="4.9" font-weight="bold" fill="#2e2e2e" text-anchor="end" textLength="10.5" lengthAdjust="spacingAndGlyphs" xml:space="preserve" >100.00</text>
<text x="119.2" y="416.1" font-size="4.9" font-weight="bold" fill="#2e2e2e" text-anchor="end" textLength="4.6" lengthAdjust="spacingAndGlyphs" xml:space="preserve" >µm</text>
<text x="119.5" y="448.9" font-size="4.9" font-weight="bold" fill="#2e2e2e" text-anchor="end" textLength="12" lengthAdjust="spacingAndGlyphs" xml:space="preserve" >-100.00</text>
<text x="123.2" y="455.0" font-size="4.9" font-weight="bold" fill="#2e2e2e" textLength="12.6" lengthAdjust="spacingAndGlyphs" xml:space="preserve" >-0.2168</text>
<text x="257.0" y="455.0" font-size="4.9" font-weight="bold" fill="#2e2e2e" text-anchor="middle" textLength="18.3" lengthAdjust="spacingAndGlyphs" xml:space="preserve" >(-0.07217)</text>
<text x="347.4" y="455.0" font-size="4.9" font-weight="bold" fill="#2e2e2e" text-anchor="middle" textLength="2.9" lengthAdjust="spacingAndGlyphs" xml:space="preserve" >m</text>
<text x="437.1" y="455.0" font-size="4.9" font-weight="bold" fill="#2e2e2e" text-anchor="middle" textLength="17.0" lengthAdjust="spacingAndGlyphs" xml:space="preserve" >(0.07217)</text>
<text x="572.0" y="455.0" font-size="4.9" font-weight="bold" fill="#2e2e2e" text-anchor="end" textLength="10" lengthAdjust="spacingAndGlyphs" xml:space="preserve" >0.217</text>
<text x="0.0" y="0.0" font-size="4.6" font-weight="bold" fill="#333" text-anchor="middle" textLength="30.8" lengthAdjust="spacingAndGlyphs" xml:space="preserve" transform="translate(575.4,415.7) rotate(90)">(ISO 4287 profile)</text>
<text x="128.4" y="522.2" font-size="7.6" font-weight="bold" fill="#1e1e1e" stroke="#1e1e1e" stroke-width="0.2" textLength="79" lengthAdjust="spacingAndGlyphs">Surface Texture Data</text>
<text x="128.4" y="531.4" font-size="7.4" font-style="italic" fill="#2a2a2a" stroke="#2a2a2a" stroke-width="0.15" textLength="145" lengthAdjust="spacingAndGlyphs" xml:space="preserve">K 4562-16 L1 AFTER.sig  -  ProfileMaster.ini</text>
<text x="572" y="522.8" font-size="7.4" font-style="italic" fill="#2a2a2a" stroke="#2a2a2a" stroke-width="0.15" text-anchor="end" textLength="75" lengthAdjust="spacingAndGlyphs">04 Oct 2016 - 15:34:28</text>
<text x="571.5" y="531.4" font-size="7.4" font-style="italic" fill="#2a2a2a" stroke="#2a2a2a" stroke-width="0.15" text-anchor="end" textLength="43.5" lengthAdjust="spacingAndGlyphs">COMP CAMS</text>
<line x1="122.8" y1="538.2" x2="572" y2="538.2" stroke="#8e8e8e" stroke-width="2"/>
<path d="M122.8,556.4H572.8M122.8,563.0H572.8M122.8,569.6H572.8M122.8,576.2H572.8M122.8,589.4H572.8M122.8,596.0H572.8M122.8,602.6H572.8M122.8,609.2H572.8" stroke="#8f8f8f" stroke-width="0.75" stroke-dasharray="1.6 1.75" fill="none"/>
<path d="M139.5,549.8V615.8M160.3,549.8V615.8M181.1,549.8V615.8M201.9,549.8V615.8M222.7,549.8V615.8M243.5,549.8V615.8M264.3,549.8V615.8M285.1,549.8V615.8M305.9,549.8V615.8M326.7,549.8V615.8M347.5,549.8V615.8M368.3,549.8V615.8M389.1,549.8V615.8M409.9,549.8V615.8M430.7,549.8V615.8M451.5,549.8V615.8M472.3,549.8V615.8M493.1,549.8V615.8M513.9,549.8V615.8M534.7,549.8V615.8M555.5,549.8V615.8" stroke="#8f8f8f" stroke-width="0.75" stroke-dasharray="1.6 1.75" fill="none"/>
<line x1="122.8" y1="582.8" x2="572.8" y2="582.8" stroke="#6a6a6a" stroke-width="0.9" stroke-dasharray="5 3 1.2 3"/>
<line x1="272.6" y1="549.8" x2="272.6" y2="615.8" stroke="#4a4a4a" stroke-width="1"/>
<line x1="422.3" y1="549.8" x2="422.3" y2="615.8" stroke="#4a4a4a" stroke-width="1"/>
<path d="M122.8,588.6L128.5,588.3L134.2,588.0L139.9,587.7L145.6,587.4L151.3,587.1L157.0,586.9L162.7,586.6L168.4,586.3L174.1,586.1L179.8,585.9L185.5,585.6L191.2,585.4L196.9,585.2L202.5,585.0L208.2,584.8L213.9,584.6L219.6,584.4L225.3,584.2L231.0,584.1L236.7,583.9L242.4,583.8L248.1,583.6L253.8,583.5L259.5,583.4L265.2,583.2L270.9,583.1L276.6,583.0L282.3,582.9L288.0,582.8L293.7,582.8L299.4,582.7L305.1,582.6L310.8,582.6L316.5,582.5L322.2,582.5L327.9,582.4L333.6,582.4L339.3,582.4L345.0,582.4L350.6,582.4L356.3,582.4L362.0,582.4L367.7,582.4L373.4,582.5L379.1,582.5L384.8,582.6L390.5,582.6L396.2,582.7L401.9,582.8L407.6,582.8L413.3,582.9L419.0,583.0L424.7,583.1L430.4,583.2L436.1,583.4L441.8,583.5L447.5,583.6L453.2,583.8L458.9,583.9L464.6,584.1L470.3,584.2L476.0,584.4L481.7,584.6L487.4,584.8L493.1,585.0L498.7,585.2L504.4,585.4L510.1,585.6L515.8,585.9L521.5,586.1L527.2,586.3L532.9,586.6L538.6,586.9L544.3,587.1L550.0,587.4L555.7,587.7L561.4,588.0L567.1,588.3L572.8,588.6" stroke="#6a6a6a" stroke-width="0.9" fill="none"/>
<path d="M143.5,607.9L143.8,607.9L144.0,607.9L144.2,607.8L144.5,607.8L144.8,607.7L145.0,607.7L145.2,607.7L145.5,607.7L145.8,607.7L146.0,607.7L146.2,607.8L146.5,607.9L146.8,608.1L147.0,608.4L147.2,608.7L147.5,609.0L147.8,608.7L148.0,608.4L148.2,608.1L148.5,607.9L148.8,607.9L149.0,607.8L149.2,607.8L149.5,607.8L149.8,607.7L150.0,607.7L150.2,607.7L150.5,607.6L150.8,607.6L151.0,607.5L151.2,607.5L151.5,607.5L151.8,607.4L152.0,607.4L152.2,607.4L152.5,607.4L152.8,607.3L153.0,607.3L153.2,607.3L153.5,607.3L153.8,607.2L154.0,607.2L154.2,607.1L154.5,607.1L154.8,607.1L155.0,607.1L155.2,607.1L155.5,607.1L155.8,607.1L156.0,607.1L156.2,607.1L156.5,607.0L156.8,607.0L157.0,606.9L157.2,606.9L157.5,606.8L157.8,606.7L158.0,606.7L158.2,606.7L158.5,606.7L158.8,606.7L159.0,606.7L159.2,606.8L159.5,606.8L159.8,606.8L160.0,606.8L160.2,606.8L160.5,606.8L160.8,606.8L161.0,606.7L161.2,606.7L161.5,606.8L161.8,607.0L162.0,607.1L162.2,607.2L162.5,607.2L162.8,607.1L163.0,606.9L163.2,606.9L163.5,606.9L163.8,606.9L164.0,606.9L164.2,606.9L164.5,606.9L164.8,606.9L165.0,606.8L165.2,606.8L165.5,606.7L165.8,606.6L166.0,606.5L166.2,606.5L166.5,606.4L166.8,606.3L167.0,606.3L167.2,606.2L167.5,606.2L167.8,606.2L168.0,606.1L168.2,606.1L168.5,606.0L168.8,606.0L169.0,606.0L169.2,605.9L169.5,605.9L169.8,606.0L170.0,606.0L170.2,606.1L170.5,606.1L170.8,606.2L171.0,606.2L171.2,606.3L171.5,606.2L171.8,606.2L172.0,606.2L172.2,606.1L172.5,606.1L172.8,606.0L173.0,606.0L173.2,605.9L173.5,605.9L173.8,605.9L174.0,606.0L174.2,605.9L174.5,605.9L174.8,605.9L175.0,605.8L175.2,605.7L175.5,605.6L175.8,605.5L176.0,605.4L176.2,605.3L176.5,606.3L176.8,607.9L177.0,606.3L177.2,605.3L177.5,605.3L177.8,605.4L178.0,605.5L178.2,605.5L178.5,605.6L178.8,605.6L179.0,605.6L179.2,605.6L179.5,605.6L179.8,605.5L180.0,605.5L180.2,605.4L180.5,605.4L180.8,605.4L181.0,605.4L181.2,605.4L181.5,605.4L181.8,605.5L182.0,605.5L182.2,605.5L182.5,605.5L182.8,605.5L183.0,605.4L183.2,605.4L183.5,605.4L183.8,605.4L184.0,605.4L184.2,605.3L184.5,605.3L184.8,605.3L185.0,605.3L185.2,605.3L185.5,605.3L185.8,605.3L186.0,605.3L186.2,605.3L186.5,605.3L186.8,605.3L187.0,605.2L187.2,605.2L187.5,605.2L187.8,605.2L188.0,605.1L188.2,605.1L188.5,605.1L188.8,605.1L189.0,605.1L189.2,605.0L189.5,605.0L189.8,604.9L190.0,604.9L190.2,604.9L190.5,604.9L190.8,604.9L191.0,605.0L191.2,604.9L191.5,604.8L191.8,604.8L192.0,604.8L192.2,604.8L192.5,604.7L192.8,604.7L193.0,604.6L193.2,604.6L193.5,604.5L193.8,604.5L194.0,604.5L194.2,604.4L194.5,604.4L194.8,604.4L195.0,604.3L195.2,604.3L195.5,604.2L195.8,604.2L196.0,604.1L196.2,604.0L196.5,604.0L196.8,604.0L197.0,603.9L197.2,604.0L197.5,604.0L197.8,604.0L198.0,604.0L198.2,604.1L198.5,604.1L198.8,604.1L199.0,604.1L199.2,604.1L199.5,604.1L199.8,604.1L200.0,604.1L200.2,604.1L200.5,604.2L200.8,604.2L201.0,604.3L201.2,604.4L201.5,604.4L201.8,604.5L202.0,604.5L202.2,604.4L202.5,604.4L202.8,604.3L203.0,604.2L203.2,604.1L203.5,604.0L203.8,603.9L204.0,603.9L204.2,603.9L204.5,603.9L204.8,603.9L205.0,603.9L205.2,603.9L205.5,603.9L205.8,603.9L206.0,603.9L206.2,604.0L206.5,604.1L206.8,604.2L207.0,604.1L207.2,604.0L207.5,604.0L207.8,603.9L208.0,603.9L208.2,603.9L208.5,603.9L208.8,603.9L209.0,603.9L209.2,603.9L209.5,603.9L209.8,603.9L210.0,603.9L210.2,603.9L210.5,603.8L210.8,603.8L211.0,603.8L211.2,603.7L211.5,603.7L211.8,604.0L212.0,604.6L212.2,603.9L212.5,603.5L212.8,603.5L213.0,603.4L213.2,603.3L213.5,603.3L213.8,603.2L214.0,603.2L214.2,603.2L214.5,603.1L214.8,603.1L215.0,603.2L215.2,603.2L215.5,603.2L215.8,603.2L216.0,603.3L216.2,603.3L216.5,603.3L216.8,603.4L217.0,603.4L217.2,603.4L217.5,603.5L217.8,603.5L218.0,603.6L218.2,603.6L218.5,603.7L218.8,605.5L219.0,603.9L219.2,604.2L219.5,604.6L219.8,604.9L220.0,604.5L220.2,604.1L220.5,603.7L220.8,603.4L221.0,603.4L221.2,603.3L221.5,603.3L221.8,603.2L222.0,603.0L222.2,602.8L222.5,602.6L222.8,602.7L223.0,602.8L223.2,602.9L223.5,603.0L223.8,603.0L224.0,603.0L224.2,603.1L224.5,603.2L224.8,603.2L225.0,603.3L225.2,603.3L225.5,603.3L225.8,603.6L226.0,604.5L226.2,605.5L226.5,604.5L226.8,603.4L227.0,603.2L227.2,603.1L227.5,603.1L227.8,603.1L228.0,603.0L228.2,603.0L228.5,603.0L228.8,602.9L229.0,602.9L229.2,602.9L229.5,602.8L229.8,602.8L230.0,602.7L230.2,602.7L230.5,602.7L230.8,602.7L231.0,602.7L231.2,602.7L231.5,602.8L231.8,602.9L232.0,603.0L232.2,603.1L232.5,603.1L232.8,603.2L233.0,603.1L233.2,603.1L233.5,603.1L233.8,603.0L234.0,602.9L234.2,602.9L234.5,602.8L234.8,602.7L235.0,602.6L235.2,602.5L235.5,602.4L235.8,602.3L236.0,602.2L236.2,601.8L236.5,601.5L236.8,601.9L237.0,602.3L237.2,602.4L237.5,602.5L237.8,602.5L238.0,602.5L238.2,602.5L238.5,602.4L238.8,602.4L239.0,602.3L239.2,602.3L239.5,602.2L239.8,602.2L240.0,602.1L240.2,602.1L240.5,602.0L240.8,602.0L241.0,602.0L241.2,601.9L241.5,601.8L241.8,601.7L242.0,601.7L242.2,601.6L242.5,602.9L242.8,604.2L243.0,605.6L243.2,604.3L243.5,603.0L243.8,601.8L244.0,601.8L244.2,601.9L244.5,602.0L244.8,602.2L245.0,602.4L245.2,602.2L245.5,602.1L245.8,602.2L246.0,602.2L246.2,602.3L246.5,602.4L246.8,602.4L247.0,602.5L247.2,602.5L247.5,602.5L247.8,602.5L248.0,602.5L248.2,602.3L248.5,602.2L248.8,602.0L249.0,601.8L249.2,601.6L249.5,601.4L249.8,601.3L250.0,601.1L250.2,601.0L250.5,600.9L250.8,600.8L251.0,600.7L251.2,600.7L251.5,600.7L251.8,600.7L252.0,600.7L252.2,600.7L252.5,600.7L252.8,600.7L253.0,600.8L253.2,600.9L253.5,600.9L253.8,601.0L254.0,601.1L254.2,601.2L254.5,601.3L254.8,601.3L255.0,601.3L255.2,601.4L255.5,601.4L255.8,601.3L256.0,601.3L256.2,601.3L256.5,601.3L256.8,601.3L257.0,601.3L257.2,601.3L257.5,601.2L257.8,601.2L258.0,601.1L258.2,601.1L258.5,601.0L258.8,600.9L259.0,600.8L259.2,600.8L259.5,600.7L259.8,600.7L260.0,600.7L260.2,600.7L260.5,600.7L260.8,600.6L261.0,600.6L261.2,600.6L261.5,600.7L261.8,600.7L262.0,600.7L262.2,600.7L262.5,600.7L262.8,600.7L263.0,600.7L263.2,600.7L263.5,600.7L263.8,600.7L264.0,600.7L264.2,600.8L264.5,600.8L264.8,600.8L265.0,600.8L265.2,600.8L265.5,600.8L265.8,600.8L266.0,600.8L266.2,600.7L266.5,600.7L266.8,600.6L267.0,600.5L267.2,600.5L267.5,600.5L267.8,600.5L268.0,600.5L268.2,600.5L268.5,600.5L268.8,600.5L269.0,600.4L269.2,600.4L269.5,600.4L269.8,600.3L270.0,600.2L270.2,600.1L270.5,600.1L270.8,600.0L271.0,600.7L271.2,601.8L271.5,602.9L271.8,601.8L272.0,600.8L272.2,600.1L272.5,600.1L272.8,600.1L273.0,600.1L273.2,600.0L273.5,600.0L273.8,600.0L274.0,600.0L274.2,600.0L274.5,600.0L274.8,600.0L275.0,600.0L275.2,600.0L275.5,600.1L275.8,600.1L276.0,600.1L276.2,600.1L276.5,600.1L276.8,600.1L277.0,600.0L277.2,600.0L277.5,599.9L277.8,599.9L278.0,599.8L278.2,599.7L278.5,599.6L278.8,599.6L279.0,599.5L279.2,599.4L279.5,599.4L279.8,599.4L280.0,599.4L280.2,599.4L280.5,599.4L280.8,599.5L281.0,599.5L281.2,599.5L281.5,599.5L281.8,599.5L282.0,599.5L282.2,599.5L282.5,599.5L282.8,599.4L283.0,599.4L283.2,599.3L283.5,599.3L283.8,599.2L284.0,599.2L284.2,599.2L284.5,599.2L284.8,599.2L285.0,599.2L285.2,599.2L285.5,599.2L285.8,599.1L286.0,599.1L286.2,599.1L286.5,599.0L286.8,599.0L287.0,599.0L287.2,599.5L287.5,598.9L287.8,598.9L288.0,598.9L288.2,598.9L288.5,598.9L288.8,598.9L289.0,599.0L289.2,599.0L289.5,599.0L289.8,599.0L290.0,599.0L290.2,598.9L290.5,598.9L290.8,598.8L291.0,598.8L291.2,598.7L291.5,598.7L291.8,598.6L292.0,598.5L292.2,598.4L292.5,598.4L292.8,598.3L293.0,598.3L293.2,598.2L293.5,598.2L293.8,598.2L294.0,598.3L294.2,598.4L294.5,598.6L294.8,598.7L295.0,598.6L295.2,598.5L295.5,598.4L295.8,598.4L296.0,598.3L296.2,598.4L296.5,598.6L296.8,599.6L297.0,600.3L297.2,600.9L297.5,599.9L297.8,598.9L298.0,598.0L298.2,598.0L298.5,598.0L298.8,598.0L299.0,598.0L299.2,598.0L299.5,597.9L299.8,598.0L300.0,598.2L300.2,598.4L300.5,598.1L300.8,598.0L301.0,598.0L301.2,598.0L301.5,598.0L301.8,598.0L302.0,598.0L302.2,598.0L302.5,597.9L302.8,597.9L303.0,597.9L303.2,597.8L303.5,597.8L303.8,597.7L304.0,597.7L304.2,597.6L304.5,597.5L304.8,597.5L305.0,597.4L305.2,597.3L305.5,597.3L305.8,597.2L306.0,597.2L306.2,597.2L306.5,597.1L306.8,597.1L307.0,597.1L307.2,597.1L307.5,597.2L307.8,597.3L308.0,597.2L308.2,597.1L308.5,597.1L308.8,597.1L309.0,597.2L309.2,597.2L309.5,597.3L309.8,597.3L310.0,597.3L310.2,597.3L310.5,597.3L310.8,597.3L311.0,597.2L311.2,597.2L311.5,597.2L311.8,597.2L312.0,597.2L312.2,597.2L312.5,597.1L312.8,597.1L313.0,597.1L313.2,597.0L313.5,596.9L313.8,596.8L314.0,596.8L314.2,596.7L314.5,596.7L314.8,596.8L315.0,596.8L315.2,596.6L315.5,596.4L315.8,596.3L316.0,596.5L316.2,596.7L316.5,596.9L316.8,596.9L317.0,596.9L317.2,596.8L317.5,596.8L317.8,596.7L318.0,596.7L318.2,596.7L318.5,596.7L318.8,596.7L319.0,596.7L319.2,596.7L319.5,596.7L319.8,596.7L320.0,596.7L320.2,596.7L320.5,596.7L320.8,596.6L321.0,596.6L321.2,596.7L321.5,597.0L321.8,597.4L322.0,597.7L322.2,597.4L322.5,597.4L322.8,598.4L323.0,599.8L323.2,601.2L323.5,599.7L323.8,598.3L324.0,596.9L324.2,596.4L324.5,596.4L324.8,596.4L325.0,596.4L325.2,596.3L325.5,596.3L325.8,596.2L326.0,596.2L326.2,596.1L326.5,596.0L326.8,596.0L327.0,595.9L327.2,595.8L327.5,595.8L327.8,595.7L328.0,595.7L328.2,595.6L328.5,595.6L328.8,595.6L329.0,595.7L329.2,595.7L329.5,595.8L329.8,595.8L330.0,595.9L330.2,595.9L330.5,596.0L330.8,596.0L331.0,595.9L331.2,595.9L331.5,595.9L331.8,595.9L332.0,595.8L332.2,595.8L332.5,595.7L332.8,595.7L333.0,595.7L333.2,595.6L333.5,595.6L333.8,595.6L334.0,595.5L334.2,595.4L334.5,595.2L334.8,595.0L335.0,595.1L335.2,595.3L335.5,595.3L335.8,595.3L336.0,595.4L336.2,595.4L336.5,595.5L336.8,595.5L337.0,595.5L337.2,595.5L337.5,595.5L337.8,595.5L338.0,595.5L338.2,595.5L338.5,595.4L338.8,595.4L339.0,595.3L339.2,595.3L339.5,595.2L339.8,595.2L340.0,595.1L340.2,595.1L340.5,595.0L340.8,595.0L341.0,594.9L341.2,594.9L341.5,594.8L341.8,594.8L342.0,594.8L342.2,594.9L342.5,595.4L342.8,595.9L343.0,595.3L343.2,594.8L343.5,594.6L343.8,594.6L344.0,594.6L344.2,595.4L344.5,596.3L344.8,597.2L345.0,596.3L345.2,595.3L345.5,594.4L345.8,594.4L346.0,594.3L346.2,594.3L346.5,594.1L346.8,594.0L347.0,593.9L347.2,593.8L347.5,593.8L347.8,593.8L348.0,593.8L348.2,593.8L348.5,593.8L348.8,593.8L349.0,593.9L349.2,593.9L349.5,593.9L349.8,593.9L350.0,593.9L350.2,593.9L350.5,594.2L350.8,594.6L351.0,594.2L351.2,593.8L351.5,593.8L351.8,593.7L352.0,593.7L352.2,593.7L352.5,593.7L352.8,593.7L353.0,593.6L353.2,593.3L353.5,593.1L353.8,593.2L354.0,593.3L354.2,594.7L354.5,597.4L354.8,594.5L355.0,593.0L355.2,593.0L355.5,592.9L355.8,592.9L356.0,592.8L356.2,592.8L356.5,592.8L356.8,592.7L357.0,592.6L357.2,592.5L357.5,592.6L357.8,592.6L358.0,592.6L358.2,592.6L358.5,592.5L358.8,592.4L359.0,592.3L359.2,592.2L359.5,592.2L359.8,592.1L360.0,592.0L360.2,592.0L360.5,591.9L360.8,591.9L361.0,591.8L361.2,591.8L361.5,591.7L361.8,591.7L362.0,591.7L362.2,591.7L362.5,591.7L362.8,591.8L363.0,591.8L363.2,591.9L363.5,591.9L363.8,592.0L364.0,592.0L364.2,592.1L364.5,592.2L364.8,592.1L365.0,592.0L365.2,591.9L365.5,591.8L365.8,591.7L366.0,591.6L366.2,591.5L366.5,591.4L366.8,591.4L367.0,591.3L367.2,591.3L367.5,591.2L367.8,591.1L368.0,591.0L368.2,590.9L368.5,590.8L368.8,590.7L369.0,590.6L369.2,590.5L369.5,590.5L369.8,590.4L370.0,590.4L370.2,590.4L370.5,590.4L370.8,590.4L371.0,590.3L371.2,590.3L371.5,590.6L371.8,591.7L372.0,592.9L372.2,591.7L372.5,590.6L372.8,590.3L373.0,590.3L373.2,590.9L373.5,592.8L373.8,590.9L374.0,590.3L374.2,590.3L374.5,590.2L374.8,590.2L375.0,590.1L375.2,590.0L375.5,589.9L375.8,589.8L376.0,589.7L376.2,589.6L376.5,589.5L376.8,589.4L377.0,589.3L377.2,589.2L377.5,589.1L377.8,589.1L378.0,589.0L378.2,588.9L378.5,588.9L378.8,588.9L379.0,588.8L379.2,588.8L379.5,588.8L379.8,588.9L380.0,588.9L380.2,588.9L380.5,588.9L380.8,588.9L381.0,588.9L381.2,588.9L381.5,588.8L381.8,588.8L382.0,588.8L382.2,588.8L382.5,588.7L382.8,588.7L383.0,588.7L383.2,588.6L383.5,588.6L383.8,588.5L384.0,588.5L384.2,588.7L384.5,588.5L384.8,588.4L385.0,588.4L385.2,588.4L385.5,588.4L385.8,588.3L386.0,588.3L386.2,588.2L386.5,588.1L386.8,588.1L387.0,588.1L387.2,588.1L387.5,587.8L387.8,587.5L388.0,587.2L388.2,587.1L388.5,587.0L388.8,587.0L389.0,587.1L389.2,587.2L389.5,587.3L389.8,587.4L390.0,587.4L390.2,587.5L390.5,587.5L390.8,587.6L391.0,587.5L391.2,587.5L391.5,587.4L391.8,587.4L392.0,587.3L392.2,587.3L392.5,587.2L392.8,587.2L393.0,587.2L393.2,587.1L393.5,587.0L393.8,586.9L394.0,586.8L394.2,586.7L394.5,586.6L394.8,586.5L395.0,586.4L395.2,586.2L395.5,586.1L395.8,586.1L396.0,586.0L396.2,586.0L396.5,586.0L396.8,586.0L397.0,586.0L397.2,586.0L397.5,586.0L397.8,586.0L398.0,586.0L398.2,586.0L398.5,586.0L398.8,586.0L399.0,586.0L399.2,586.0L399.5,586.0L399.8,586.0L400.0,586.0L400.2,585.9L400.5,585.9L400.8,585.8L401.0,585.7L401.2,585.6L401.5,585.5L401.8,585.4L402.0,585.4L402.2,585.3L402.5,585.3L402.8,585.3L403.0,585.3L403.2,585.3L403.5,585.3L403.8,585.3L404.0,585.4L404.2,585.4L404.5,585.4L404.8,585.4L405.0,585.3L405.2,585.3L405.5,585.2L405.8,585.1L406.0,585.1L406.2,584.9L406.5,584.8L406.8,584.7L407.0,584.6L407.2,584.5L407.5,584.4L407.8,584.4L408.0,584.3L408.2,584.3L408.5,584.3L408.8,584.3L409.0,584.3L409.2,584.4L409.5,584.3L409.8,584.3L410.0,584.3L410.2,584.2L410.5,584.2L410.8,584.1L411.0,584.1L411.2,584.1L411.5,584.1L411.8,584.1L412.0,584.1L412.2,584.1L412.5,584.0L412.8,583.9L413.0,583.9L413.2,583.8L413.5,583.7L413.8,583.5L414.0,583.4L414.2,583.4L414.5,583.3L414.8,583.2L415.0,583.2L415.2,583.1L415.5,583.1L415.8,583.2L416.0,583.3L416.2,583.0L416.5,582.8L416.8,582.7L417.0,582.7L417.2,582.6L417.5,582.6L417.8,582.5L418.0,582.5L418.2,582.5L418.5,582.5L418.8,582.5L419.0,582.5L419.2,583.2L419.5,583.9L419.8,584.7L420.0,584.0L420.2,583.3L420.5,582.7L420.8,582.7L421.0,582.7L421.2,582.7L421.5,582.6L421.8,582.6L422.0,582.5L422.2,582.4L422.5,582.4L422.8,582.3L423.0,582.3L423.2,582.3L423.5,582.3L423.8,582.3L424.0,582.2L424.2,582.2L424.5,582.1L424.8,582.1L425.0,582.0L425.2,581.9L425.5,581.9L425.8,582.0L426.0,581.9L426.2,581.9L426.5,581.9L426.8,581.9L427.0,581.8L427.2,581.8L427.5,581.7L427.8,582.5L428.0,584.2L428.2,585.8L428.5,584.0L428.8,582.3L429.0,581.4L429.2,581.4L429.5,581.3L429.8,581.3L430.0,581.3L430.2,581.3L430.5,581.3L430.8,581.3L431.0,581.3L431.2,581.4L431.5,581.4L431.8,581.4L432.0,581.4L432.2,581.4L432.5,581.3L432.8,581.2L433.0,581.1L433.2,581.0L433.5,580.9L433.8,580.8L434.0,580.7L434.2,580.7L434.5,580.7L434.8,580.7L435.0,580.7L435.2,580.7L435.5,580.7L435.8,580.6L436.0,580.6L436.2,580.5L436.5,580.5L436.8,580.4L437.0,580.4L437.2,580.3L437.5,580.3L437.8,580.3L438.0,580.3L438.2,580.2L438.5,580.7L438.8,581.8L439.0,580.5L439.2,580.0L439.5,579.9L439.8,579.9L440.0,579.9L440.2,579.9L440.5,579.9L440.8,579.9L441.0,580.0L441.2,580.0L441.5,580.1L441.8,580.1L442.0,580.1L442.2,580.1L442.5,580.1L442.8,580.1L443.0,580.0L443.2,580.0L443.5,579.9L443.8,579.8L444.0,579.8L444.2,579.7L444.5,579.7L444.8,579.6L445.0,579.6L445.2,579.6L445.5,579.6L445.8,579.7L446.0,579.7L446.2,579.7L446.5,580.0L446.8,580.7L447.0,581.3L447.2,582.0L447.5,581.3L447.8,580.5L448.0,579.9L448.2,580.0L448.5,580.3L448.8,580.6L449.0,580.1L449.2,579.7L449.5,579.3L449.8,579.0L450.0,579.0L450.2,579.0L450.5,579.0L450.8,579.0L451.0,579.0L451.2,579.0L451.5,579.0L451.8,578.9L452.0,578.8L452.2,578.7L452.5,578.7L452.8,578.6L453.0,578.5L453.2,578.4L453.5,578.3L453.8,578.2L454.0,578.1L454.2,578.1L454.5,578.0L454.8,577.9L455.0,577.9L455.2,577.8L455.5,577.8L455.8,577.8L456.0,577.8L456.2,577.8L456.5,577.8L456.8,577.8L457.0,577.7L457.2,577.8L457.5,577.9L457.8,578.0L458.0,578.0L458.2,577.8L458.5,577.7L458.8,577.7L459.0,577.8L459.2,577.8L459.5,577.9L459.8,577.9L460.0,577.9L460.2,577.9L460.5,577.9L460.8,577.9L461.0,577.9L461.2,577.8L461.5,577.8L461.8,577.8L462.0,577.8L462.2,577.8L462.5,577.6L462.8,577.5L463.0,577.4L463.2,577.4L463.5,577.3L463.8,577.3L464.0,577.3L464.2,577.3L464.5,577.6L464.8,579.1L465.0,580.5L465.2,579.1L465.5,577.6L465.8,577.3L466.0,577.3L466.2,577.4L466.5,577.4L466.8,577.4L467.0,577.3L467.2,577.3L467.5,577.2L467.8,577.1L468.0,577.0L468.2,576.9L468.5,576.9L468.8,576.9L469.0,576.8L469.2,576.8L469.5,576.9L469.8,576.9L470.0,576.9L470.2,576.9L470.5,576.9L470.8,576.9L471.0,576.9L471.2,576.8L471.5,576.8L471.8,576.7L472.0,576.6L472.2,576.5L472.5,576.5L472.8,576.4L473.0,576.5L473.2,576.4L473.5,576.4L473.8,576.4L474.0,576.4L474.2,576.4L474.5,576.3L474.8,576.3L475.0,576.2L475.2,576.2L475.5,576.1L475.8,576.1L476.0,576.0L476.2,576.0L476.5,576.0L476.8,576.0L477.0,576.0L477.2,576.0L477.5,576.0L477.8,576.1L478.0,576.1L478.2,576.2L478.5,576.2L478.8,576.2L479.0,576.2L479.2,576.2L479.5,576.2L479.8,576.1L480.0,576.1L480.2,576.0L480.5,576.0L480.8,576.0L481.0,576.0L481.2,575.9L481.5,575.9L481.8,575.8L482.0,575.8L482.2,575.7L482.5,575.6L482.8,575.6L483.0,575.5L483.2,575.5L483.5,575.5L483.8,575.5L484.0,575.6L484.2,575.6L484.5,575.6L484.8,575.7L485.0,575.7L485.2,575.7L485.5,575.6L485.8,575.6L486.0,575.5L486.2,575.4L486.5,575.3L486.8,575.3L487.0,575.2L487.2,575.1L487.5,575.1L487.8,575.2L488.0,575.2L488.2,575.2L488.5,575.2L488.8,575.2L489.0,575.3L489.2,575.2L489.5,575.1L489.8,575.1L490.0,575.1L490.2,575.1L490.5,575.1L490.8,575.1L491.0,575.1L491.2,575.0L491.5,575.0L491.8,575.0L492.0,574.9L492.2,574.9L492.5,574.8L492.8,574.7L493.0,574.6L493.2,574.5L493.5,574.4L493.8,574.4L494.0,574.3L494.2,574.3L494.5,574.2L494.8,574.2L495.0,574.2L495.2,574.2L495.5,574.2L495.8,574.2L496.0,574.2L496.2,574.2L496.5,574.2L496.8,574.2L497.0,574.2L497.2,574.2L497.5,574.2L497.8,574.2L498.0,574.2L498.2,574.3L498.5,574.3L498.8,574.3L499.0,574.2L499.2,574.2L499.5,574.1L499.8,574.0L500.0,573.9L500.2,573.9L500.5,573.8L500.8,573.8L501.0,573.7L501.2,573.7L501.5,573.7L501.8,573.7L502.0,573.7L502.2,573.7L502.5,573.7L502.8,573.6L503.0,573.6L503.2,573.6L503.5,573.5L503.8,573.4L504.0,573.4L504.2,573.3L504.5,573.2L504.8,573.2L505.0,573.1L505.2,573.0L505.5,573.0L505.8,572.9L506.0,572.9L506.2,572.9L506.5,572.9L506.8,572.7L507.0,572.4L507.2,572.6L507.5,572.7L507.8,572.7L508.0,572.7L508.2,572.6L508.5,572.6L508.8,572.6L509.0,572.6L509.2,572.7L509.5,572.7L509.8,572.7L510.0,572.7L510.2,572.7L510.5,572.6L510.8,572.6L511.0,572.5L511.2,572.4L511.5,572.3L511.8,572.3L512.0,572.2L512.2,572.2L512.5,572.2L512.8,572.2L513.0,572.2L513.2,572.2L513.5,572.2L513.8,572.3L514.0,572.6L514.2,572.2L514.5,572.1L514.8,572.0L515.0,572.0L515.2,571.9L515.5,571.8L515.8,571.8L516.0,571.7L516.2,571.7L516.5,571.7L516.8,571.7L517.0,571.6L517.2,571.6L517.5,571.7L517.8,571.7L518.0,571.7L518.2,571.7L518.5,571.7L518.8,571.7L519.0,571.7L519.2,571.7L519.5,571.7L519.8,571.6L520.0,571.5L520.2,571.4L520.5,571.3L520.8,571.2L521.0,571.1L521.2,571.1L521.5,571.0L521.8,570.9L522.0,570.8L522.2,570.7L522.5,570.7L522.8,570.6L523.0,570.5L523.2,570.5L523.5,570.5L523.8,570.5L524.0,570.5L524.2,570.5L524.5,570.5L524.8,570.5L525.0,570.5L525.2,570.5L525.5,570.6L525.8,570.6L526.0,570.6L526.2,570.6L526.5,570.7L526.8,570.7L527.0,570.7L527.2,570.7L527.5,570.7L527.8,570.7L528.0,570.7L528.2,570.7L528.5,570.6L528.8,570.6L529.0,570.6L529.2,570.5L529.5,570.8L529.8,571.4L530.0,570.6L530.2,570.2L530.5,570.1L530.8,570.1L531.0,570.1L531.2,570.1L531.5,570.1L531.8,570.2L532.0,570.2L532.2,570.3L532.5,570.3L532.8,570.3L533.0,570.3L533.2,570.4L533.5,570.3L533.8,570.3L534.0,570.3L534.2,570.3L534.5,570.3L534.8,570.3L535.0,570.3L535.2,570.2L535.5,570.2L535.8,570.1L536.0,570.0L536.2,569.9L536.5,569.8L536.8,569.7L537.0,569.6L537.2,569.4L537.5,569.3L537.8,569.2L538.0,569.1L538.2,569.0L538.5,569.0L538.8,568.9L539.0,569.0L539.2,569.0L539.5,569.0L539.8,569.1L540.0,569.1L540.2,569.1L540.5,569.1L540.8,569.1L541.0,569.1L541.2,569.1L541.5,569.1L541.8,569.2L542.0,569.3L542.2,569.4L542.5,569.2L542.8,569.1L543.0,569.0L543.2,568.9L543.5,569.0L543.8,569.0L544.0,569.1L544.2,569.0L544.5,569.0L544.8,568.9L545.0,568.9L545.2,568.9L545.5,568.8L545.8,568.7L546.0,568.6L546.2,568.5L546.5,568.4L546.8,568.3L547.0,568.2L547.2,568.1L547.5,568.0L547.8,568.0L548.0,567.9L548.2,567.9L548.5,567.9L548.8,567.9L549.0,567.9L549.2,567.9L549.5,567.9L549.8,567.9L550.0,567.8L550.2,567.8L550.5,567.7L550.8,567.6L551.0,567.6L551.2,567.6" stroke="#2b2d72" stroke-width="0.7" fill="none" opacity="0.75"/>
<path d="M143.5,607.9L144.0,607.8L144.5,607.8L145.0,607.8L145.5,607.8L146.0,607.7L146.5,607.7L147.0,607.7L147.5,607.7L148.0,607.6L148.5,607.6L149.0,607.6L149.5,607.5L150.0,607.5L150.5,607.5L151.0,607.4L151.5,607.4L152.0,607.4L152.5,607.3L153.0,607.3L153.5,607.3L154.0,607.2L154.5,607.2L155.0,607.2L155.5,607.2L156.0,607.1L156.5,607.1L157.0,607.1L157.5,607.0L158.0,607.0L158.5,607.0L159.0,606.9L159.5,606.9L160.0,606.9L160.5,606.8L161.0,606.8L161.5,606.8L162.0,606.7L162.5,606.7L163.0,606.7L163.5,606.7L164.0,606.6L164.5,606.6L165.0,606.6L165.5,606.5L166.0,606.5L166.5,606.5L167.0,606.4L167.5,606.4L168.0,606.4L168.5,606.3L169.0,606.3L169.5,606.3L170.0,606.3L170.5,606.2L171.0,606.2L171.5,606.2L172.0,606.1L172.5,606.1L173.0,606.1L173.5,606.0L174.0,606.0L174.5,606.0L175.0,605.9L175.5,605.9L176.0,605.9L176.5,605.8L177.0,605.8L177.5,605.8L178.0,605.8L178.5,605.7L179.0,605.7L179.5,605.7L180.0,605.6L180.5,605.6L181.0,605.6L181.5,605.5L182.0,605.5L182.5,605.5L183.0,605.4L183.5,605.4L184.0,605.4L184.5,605.3L185.0,605.3L185.5,605.3L186.0,605.3L186.5,605.2L187.0,605.2L187.5,605.2L188.0,605.1L188.5,605.1L189.0,605.1L189.5,605.0L190.0,605.0L190.5,605.0L191.0,605.0L191.5,604.9L192.0,604.9L192.5,604.9L193.0,604.8L193.5,604.8L194.0,604.8L194.5,604.7L195.0,604.7L195.5,604.7L196.0,604.7L196.5,604.6L197.0,604.6L197.5,604.6L198.0,604.5L198.5,604.5L199.0,604.5L199.5,604.4L200.0,604.4L200.5,604.4L201.0,604.4L201.5,604.3L202.0,604.3L202.5,604.3L203.0,604.2L203.5,604.2L204.0,604.2L204.5,604.1L205.0,604.1L205.5,604.1L206.0,604.1L206.5,604.0L207.0,604.0L207.5,604.0L208.0,603.9L208.5,603.9L209.0,603.9L209.5,603.8L210.0,603.8L210.5,603.8L211.0,603.8L211.5,603.7L212.0,603.7L212.5,603.7L213.0,603.6L213.5,603.6L214.0,603.6L214.5,603.5L215.0,603.5L215.5,603.5L216.0,603.5L216.5,603.4L217.0,603.4L217.5,603.4L218.0,603.3L218.5,603.3L219.0,603.3L219.5,603.3L220.0,603.2L220.5,603.2L221.0,603.2L221.5,603.1L222.0,603.1L222.5,603.1L223.0,603.0L223.5,603.0L224.0,603.0L224.5,603.0L225.0,602.9L225.5,602.9L226.0,602.9L226.5,602.8L227.0,602.8L227.5,602.8L228.0,602.7L228.5,602.7L229.0,602.7L229.5,602.7L230.0,602.6L230.5,602.6L231.0,602.6L231.5,602.5L232.0,602.5L232.5,602.5L233.0,602.4L233.5,602.4L234.0,602.4L234.5,602.4L235.0,602.3L235.5,602.3L236.0,602.3L236.5,602.2L237.0,602.2L237.5,602.2L238.0,602.1L238.5,602.1L239.0,602.1L239.5,602.1L240.0,602.0L240.5,602.0L241.0,602.0L241.5,601.9L242.0,601.9L242.5,601.9L243.0,601.8L243.5,601.8L244.0,601.8L244.5,601.8L245.0,601.7L245.5,601.7L246.0,601.7L246.5,601.6L247.0,601.6L247.5,601.6L248.0,601.5L248.5,601.5L249.0,601.5L249.5,601.5L250.0,601.4L250.5,601.4L251.0,601.4L251.5,601.3L252.0,601.3L252.5,601.3L253.0,601.2L253.5,601.2L254.0,601.2L254.5,601.2L255.0,601.1L255.5,601.1L256.0,601.1L256.5,601.0L257.0,601.0L257.5,601.0L258.0,600.9L258.5,600.9L259.0,600.9L259.5,600.9L260.0,600.8L260.5,600.8L261.0,600.8L261.5,600.7L262.0,600.7L262.5,600.7L263.0,600.6L263.5,600.6L264.0,600.6L264.5,600.6L265.0,600.5L265.5,600.5L266.0,600.5L266.5,600.4L267.0,600.4L267.5,600.4L268.0,600.3L268.5,600.3L269.0,600.3L269.5,600.3L270.0,600.2L270.5,600.2L271.0,600.2L271.5,600.1L272.0,600.1L272.5,600.0L273.0,600.0L273.5,600.0L274.0,599.9L274.5,599.9L275.0,599.9L275.5,599.8L276.0,599.8L276.5,599.7L277.0,599.7L277.5,599.7L278.0,599.6L278.5,599.6L279.0,599.5L279.5,599.5L280.0,599.5L280.5,599.4L281.0,599.4L281.5,599.4L282.0,599.3L282.5,599.3L283.0,599.2L283.5,599.2L284.0,599.2L284.5,599.1L285.0,599.1L285.5,599.1L286.0,599.0L286.5,599.0L287.0,598.9L287.5,598.9L288.0,598.9L288.5,598.8L289.0,598.8L289.5,598.7L290.0,598.7L290.5,598.7L291.0,598.6L291.5,598.6L292.0,598.6L292.5,598.5L293.0,598.5L293.5,598.4L294.0,598.4L294.5,598.4L295.0,598.3L295.5,598.3L296.0,598.2L296.5,598.2L297.0,598.2L297.5,598.1L298.0,598.1L298.5,598.1L299.0,598.0L299.5,598.0L300.0,597.9L300.5,597.9L301.0,597.9L301.5,597.8L302.0,597.8L302.5,597.8L303.0,597.7L303.5,597.7L304.0,597.6L304.5,597.6L305.0,597.6L305.5,597.5L306.0,597.5L306.5,597.4L307.0,597.4L307.5,597.4L308.0,597.3L308.5,597.3L309.0,597.3L309.5,597.2L310.0,597.2L310.5,597.1L311.0,597.1L311.5,597.1L312.0,597.0L312.5,597.0L313.0,596.9L313.5,596.9L314.0,596.9L314.5,596.8L315.0,596.8L315.5,596.8L316.0,596.7L316.5,596.7L317.0,596.6L317.5,596.6L318.0,596.6L318.5,596.5L319.0,596.5L319.5,596.5L320.0,596.4L320.5,596.4L321.0,596.3L321.5,596.3L322.0,596.3L322.5,596.2L323.0,596.2L323.5,596.1L324.0,596.1L324.5,596.1L325.0,596.0L325.5,596.0L326.0,596.0L326.5,595.9L327.0,595.9L327.5,595.8L328.0,595.8L328.5,595.8L329.0,595.7L329.5,595.7L330.0,595.6L330.5,595.6L331.0,595.6L331.5,595.5L332.0,595.5L332.5,595.5L333.0,595.4L333.5,595.4L334.0,595.3L334.5,595.3L335.0,595.3L335.5,595.2L336.0,595.2L336.5,595.2L337.0,595.1L337.5,595.1L338.0,595.0L338.5,595.0L339.0,595.0L339.5,594.9L340.0,594.9L340.5,594.8L341.0,594.8L341.5,594.8L342.0,594.7L342.5,594.7L343.0,594.7L343.5,594.6L344.0,594.6L344.5,594.5L345.0,594.5L345.5,594.4L346.0,594.3L346.5,594.3L347.0,594.2L347.5,594.1L348.0,594.0L348.5,593.9L349.0,593.9L349.5,593.8L350.0,593.7L350.5,593.6L351.0,593.6L351.5,593.5L352.0,593.4L352.5,593.3L353.0,593.2L353.5,593.2L354.0,593.1L354.5,593.0L355.0,592.9L355.5,592.8L356.0,592.8L356.5,592.7L357.0,592.6L357.5,592.5L358.0,592.5L358.5,592.4L359.0,592.3L359.5,592.2L360.0,592.1L360.5,592.1L361.0,592.0L361.5,591.9L362.0,591.8L362.5,591.7L363.0,591.7L363.5,591.6L364.0,591.5L364.5,591.4L365.0,591.4L365.5,591.3L366.0,591.2L366.5,591.1L367.0,591.0L367.5,591.0L368.0,590.9L368.5,590.8L369.0,590.7L369.5,590.6L370.0,590.6L370.5,590.5L371.0,590.4L371.5,590.3L372.0,590.3L372.5,590.2L373.0,590.1L373.5,590.0L374.0,589.9L374.5,589.9L375.0,589.8L375.5,589.7L376.0,589.6L376.5,589.5L377.0,589.5L377.5,589.4L378.0,589.3L378.5,589.2L379.0,589.2L379.5,589.1L380.0,589.0L380.5,588.9L381.0,588.8L381.5,588.8L382.0,588.7L382.5,588.6L383.0,588.5L383.5,588.4L384.0,588.4L384.5,588.3L385.0,588.2L385.5,588.1L386.0,588.0L386.5,588.0L387.0,587.9L387.5,587.8L388.0,587.7L388.5,587.7L389.0,587.6L389.5,587.5L390.0,587.4L390.5,587.3L391.0,587.3L391.5,587.2L392.0,587.1L392.5,587.0L393.0,586.9L393.5,586.9L394.0,586.8L394.5,586.7L395.0,586.6L395.5,586.6L396.0,586.5L396.5,586.4L397.0,586.3L397.5,586.2L398.0,586.2L398.5,586.1L399.0,586.0L399.5,585.9L400.0,585.8L400.5,585.8L401.0,585.7L401.5,585.6L402.0,585.5L402.5,585.5L403.0,585.4L403.5,585.3L404.0,585.2L404.5,585.1L405.0,585.1L405.5,585.0L406.0,584.9L406.5,584.8L407.0,584.7L407.5,584.7L408.0,584.6L408.5,584.5L409.0,584.4L409.5,584.4L410.0,584.3L410.5,584.2L411.0,584.1L411.5,584.0L412.0,584.0L412.5,583.9L413.0,583.8L413.5,583.7L414.0,583.6L414.5,583.6L415.0,583.5L415.5,583.4L416.0,583.3L416.5,583.2L417.0,583.2L417.5,583.1L418.0,583.0L418.5,582.9L419.0,582.9L419.5,582.8L420.0,582.7L420.5,582.6L421.0,582.5L421.5,582.5L422.0,582.4L422.5,582.3L423.0,582.3L423.5,582.2L424.0,582.1L424.5,582.1L425.0,582.0L425.5,582.0L426.0,581.9L426.5,581.8L427.0,581.8L427.5,581.7L428.0,581.7L428.5,581.6L429.0,581.5L429.5,581.5L430.0,581.4L430.5,581.4L431.0,581.3L431.5,581.3L432.0,581.2L432.5,581.1L433.0,581.1L433.5,581.0L434.0,581.0L434.5,580.9L435.0,580.8L435.5,580.8L436.0,580.7L436.5,580.7L437.0,580.6L437.5,580.5L438.0,580.5L438.5,580.4L439.0,580.4L439.5,580.3L440.0,580.2L440.5,580.2L441.0,580.1L441.5,580.1L442.0,580.0L442.5,579.9L443.0,579.9L443.5,579.8L444.0,579.8L444.5,579.7L445.0,579.6L445.5,579.6L446.0,579.5L446.5,579.5L447.0,579.4L447.5,579.3L448.0,579.3L448.5,579.2L449.0,579.2L449.5,579.1L450.0,579.0L450.5,579.0L451.0,578.9L451.5,578.9L452.0,578.8L452.5,578.7L453.0,578.7L453.5,578.6L454.0,578.6L454.5,578.5L455.0,578.4L455.5,578.4L456.0,578.3L456.5,578.3L457.0,578.2L457.5,578.2L458.0,578.1L458.5,578.1L459.0,578.0L459.5,578.0L460.0,577.9L460.5,577.9L461.0,577.8L461.5,577.8L462.0,577.7L462.5,577.7L463.0,577.6L463.5,577.6L464.0,577.5L464.5,577.5L465.0,577.4L465.5,577.4L466.0,577.3L466.5,577.3L467.0,577.2L467.5,577.2L468.0,577.1L468.5,577.1L469.0,577.0L469.5,577.0L470.0,576.9L470.5,576.9L471.0,576.8L471.5,576.8L472.0,576.7L472.5,576.7L473.0,576.6L473.5,576.6L474.0,576.5L474.5,576.5L475.0,576.4L475.5,576.4L476.0,576.3L476.5,576.3L477.0,576.2L477.5,576.2L478.0,576.1L478.5,576.1L479.0,576.0L479.5,576.0L480.0,575.9L480.5,575.9L481.0,575.8L481.5,575.8L482.0,575.7L482.5,575.7L483.0,575.6L483.5,575.6L484.0,575.5L484.5,575.5L485.0,575.4L485.5,575.4L486.0,575.3L486.5,575.3L487.0,575.2L487.5,575.2L488.0,575.1L488.5,575.1L489.0,575.0L489.5,575.0L490.0,574.9L490.5,574.9L491.0,574.8L491.5,574.8L492.0,574.7L492.5,574.7L493.0,574.6L493.5,574.6L494.0,574.5L494.5,574.5L495.0,574.4L495.5,574.4L496.0,574.3L496.5,574.3L497.0,574.2L497.5,574.2L498.0,574.1L498.5,574.0L499.0,574.0L499.5,573.9L500.0,573.9L500.5,573.8L501.0,573.7L501.5,573.7L502.0,573.6L502.5,573.6L503.0,573.5L503.5,573.4L504.0,573.4L504.5,573.3L505.0,573.3L505.5,573.2L506.0,573.1L506.5,573.1L507.0,573.0L507.5,573.0L508.0,572.9L508.5,572.8L509.0,572.8L509.5,572.7L510.0,572.6L510.5,572.6L511.0,572.5L511.5,572.5L512.0,572.4L512.5,572.3L513.0,572.3L513.5,572.2L514.0,572.2L514.5,572.1L515.0,572.0L515.5,572.0L516.0,571.9L516.5,571.9L517.0,571.8L517.5,571.7L518.0,571.7L518.5,571.6L519.0,571.6L519.5,571.5L520.0,571.4L520.5,571.4L521.0,571.3L521.5,571.3L522.0,571.2L522.5,571.1L523.0,571.1L523.5,571.0L524.0,571.0L524.5,570.9L525.0,570.8L525.5,570.8L526.0,570.7L526.5,570.7L527.0,570.6L527.5,570.5L528.0,570.5L528.5,570.4L529.0,570.4L529.5,570.3L530.0,570.2L530.5,570.2L531.0,570.1L531.5,570.1L532.0,570.0L532.5,569.9L533.0,569.9L533.5,569.8L534.0,569.8L534.5,569.7L535.0,569.6L535.5,569.6L536.0,569.5L536.5,569.5L537.0,569.4L537.5,569.3L538.0,569.3L538.5,569.2L539.0,569.1L539.5,569.1L540.0,569.0L540.5,569.0L541.0,568.9L541.5,568.8L542.0,568.8L542.5,568.7L543.0,568.7L543.5,568.6L544.0,568.5L544.5,568.5L545.0,568.4L545.5,568.4L546.0,568.3L546.5,568.2L547.0,568.2L547.5,568.1L548.0,568.1L548.5,568.0L549.0,567.9L549.5,567.9L550.0,567.8L550.5,567.8L551.0,567.8" stroke="#c0646c" stroke-width="1.05" fill="none" opacity="0.9"/>
<rect x="122.8" y="549.8" width="450.0" height="66.0" fill="none" stroke="#6e6e6e" stroke-width="1.4"/>
<text x="122.8" y="547.4" font-size="4.9" font-weight="bold" fill="#2e2e2e" textLength="86.3" lengthAdjust="spacingAndGlyphs" xml:space="preserve" >Profile wrt Datum: 31.187 µm   (Tilt = 0.220 µm)</text>
<text x="571.5" y="547.4" font-size="4.9" font-weight="bold" fill="#2e2e2e" text-anchor="end" textLength="56.5" lengthAdjust="spacingAndGlyphs" xml:space="preserve" >dX: -6.000 mm    dZ: -0.021 mm</text>
<text x="119.5" y="551.6" font-size="4.9" font-weight="bold" fill="#2e2e2e" text-anchor="end" textLength="13.9" lengthAdjust="spacingAndGlyphs" xml:space="preserve" >1000.00</text>
<text x="119.2" y="583.2" font-size="4.9" font-weight="bold" fill="#2e2e2e" text-anchor="end" textLength="4.6" lengthAdjust="spacingAndGlyphs" xml:space="preserve" >µm</text>
<text x="119.5" y="616.0" font-size="4.9" font-weight="bold" fill="#2e2e2e" text-anchor="end" textLength="15.5" lengthAdjust="spacingAndGlyphs" xml:space="preserve" >-1000.00</text>
<text x="123.2" y="622.1" font-size="4.9" font-weight="bold" fill="#2e2e2e" textLength="12.6" lengthAdjust="spacingAndGlyphs" xml:space="preserve" >-0.2168</text>
<text x="257.0" y="622.1" font-size="4.9" font-weight="bold" fill="#2e2e2e" text-anchor="middle" textLength="18.3" lengthAdjust="spacingAndGlyphs" xml:space="preserve" >(-0.07217)</text>
<text x="347.4" y="622.1" font-size="4.9" font-weight="bold" fill="#2e2e2e" text-anchor="middle" textLength="2.9" lengthAdjust="spacingAndGlyphs" xml:space="preserve" >m</text>
<text x="437.1" y="622.1" font-size="4.9" font-weight="bold" fill="#2e2e2e" text-anchor="middle" textLength="17.0" lengthAdjust="spacingAndGlyphs" xml:space="preserve" >(0.07217)</text>
<text x="572.0" y="622.1" font-size="4.9" font-weight="bold" fill="#2e2e2e" text-anchor="end" textLength="10" lengthAdjust="spacingAndGlyphs" xml:space="preserve" >0.217</text>
<text x="0.0" y="0.0" font-size="4.6" font-weight="bold" fill="#333" text-anchor="middle" textLength="30.8" lengthAdjust="spacingAndGlyphs" xml:space="preserve" transform="translate(575.4,582.8) rotate(90)">(ISO 4287 profile)</text>
<path d="M122.8,641.4H572.8M122.8,646.9H572.8M122.8,652.4H572.8M122.8,657.9H572.8M122.8,663.4H572.8M122.8,674.4H572.8M122.8,679.9H572.8M122.8,685.4H572.8M122.8,690.9H572.8M122.8,696.4H572.8" stroke="#8f8f8f" stroke-width="0.75" stroke-dasharray="1.6 1.75" fill="none"/>
<path d="M139.5,635.9V701.9M160.3,635.9V701.9M181.1,635.9V701.9M201.9,635.9V701.9M222.7,635.9V701.9M243.5,635.9V701.9M264.3,635.9V701.9M285.1,635.9V701.9M305.9,635.9V701.9M326.7,635.9V701.9M347.5,635.9V701.9M368.3,635.9V701.9M389.1,635.9V701.9M409.9,635.9V701.9M430.7,635.9V701.9M451.5,635.9V701.9M472.3,635.9V701.9M493.1,635.9V701.9M513.9,635.9V701.9M534.7,635.9V701.9M555.5,635.9V701.9" stroke="#8f8f8f" stroke-width="0.75" stroke-dasharray="1.6 1.75" fill="none"/>
<line x1="122.8" y1="668.9" x2="572.8" y2="668.9" stroke="#6a6a6a" stroke-width="0.9" stroke-dasharray="5 3 1.2 3"/>
<line x1="272.6" y1="635.9" x2="272.6" y2="701.9" stroke="#4a4a4a" stroke-width="1"/>
<line x1="422.3" y1="635.9" x2="422.3" y2="701.9" stroke="#4a4a4a" stroke-width="1"/>
<path d="M122.8,690.5L128.5,689.3L134.2,688.2L139.9,687.1L145.6,686.0L151.3,685.0L157.0,683.9L162.7,682.9L168.4,682.0L174.1,681.1L179.8,680.2L185.5,679.3L191.2,678.4L196.9,677.6L202.5,676.9L208.2,676.1L213.9,675.4L219.6,674.7L225.3,674.0L231.0,673.4L236.7,672.8L242.4,672.2L248.1,671.7L253.8,671.2L259.5,670.7L265.2,670.3L270.9,669.8L276.6,669.4L282.3,669.1L288.0,668.8L293.7,668.5L299.4,668.2L305.1,667.9L310.8,667.7L316.5,667.6L322.2,667.4L327.9,667.3L333.6,667.2L339.3,667.1L345.0,667.1L350.6,667.1L356.3,667.1L362.0,667.2L367.7,667.3L373.4,667.4L379.1,667.6L384.8,667.7L390.5,667.9L396.2,668.2L401.9,668.5L407.6,668.8L413.3,669.1L419.0,669.4L424.7,669.8L430.4,670.3L436.1,670.7L441.8,671.2L447.5,671.7L453.2,672.2L458.9,672.8L464.6,673.4L470.3,674.0L476.0,674.7L481.7,675.4L487.4,676.1L493.1,676.9L498.7,677.6L504.4,678.4L510.1,679.3L515.8,680.2L521.5,681.1L527.2,682.0L532.9,682.9L538.6,683.9L544.3,685.0L550.0,686.0L555.7,687.1L561.4,688.2L567.1,689.3L572.8,690.5" stroke="#6a6a6a" stroke-width="0.9" fill="none" opacity="0.9"/>
<path d="M224.4,668.2L423.2,682.5L423.0,682.5L422.5,682.4L422.0,682.4L421.5,682.4L421.0,682.5L420.5,682.5L420.0,682.6L419.5,682.6L419.0,682.7L418.5,682.8L418.0,682.8L417.5,682.9L417.0,683.0L416.5,683.0L416.0,683.1L415.5,683.1L415.0,683.2L414.5,683.3L414.0,683.3L413.5,683.4L413.0,683.5L412.5,683.5L412.0,683.6L411.5,683.6L411.0,683.7L410.5,683.8L410.0,683.8L409.5,683.9L409.0,684.0L408.5,684.0L408.0,684.1L407.5,684.1L407.0,684.2L406.5,684.2L406.0,684.3L405.5,684.3L405.0,684.4L404.5,684.4L404.0,684.5L403.5,684.5L403.0,684.6L402.5,684.6L402.0,684.7L401.5,684.7L401.0,684.8L400.5,684.8L400.0,684.9L399.5,684.9L399.0,685.0L398.5,685.0L398.0,685.1L397.5,685.1L397.0,685.2L396.5,685.2L396.0,685.3L395.5,685.3L395.0,685.4L394.5,685.4L394.0,685.5L393.5,685.5L393.0,685.6L392.5,685.6L392.0,685.7L391.5,685.7L391.0,685.8L390.5,685.8L390.0,685.9L389.5,685.9L389.0,685.9L388.5,686.0L388.0,686.0L387.5,686.0L387.0,686.0L386.5,686.0L386.0,686.0L385.5,686.1L385.0,686.1L384.5,686.1L384.0,686.1L383.5,686.1L383.0,686.2L382.5,686.2L382.0,686.2L381.5,686.2L381.0,686.2L380.5,686.3L380.0,686.3L379.5,686.3L379.0,686.3L378.5,686.3L378.0,686.3L377.5,686.4L377.0,686.4L376.5,686.4L376.0,686.4L375.5,686.4L375.0,686.5L374.5,686.5L374.0,686.5L373.5,686.5L373.0,686.5L372.5,686.6L372.0,686.6L371.5,686.6L371.0,686.6L370.5,686.6L370.0,686.7L369.5,686.7L369.0,686.7L368.5,686.7L368.0,686.7L367.5,686.7L367.0,686.8L366.5,686.8L366.0,686.8L365.5,686.8L365.0,686.8L364.5,686.9L364.0,686.9L363.5,686.9L363.0,686.9L362.5,686.9L362.0,687.0L361.5,687.0L361.0,687.0L360.5,687.0L360.0,687.0L359.5,687.1L359.0,687.1L358.5,687.1L358.0,687.1L357.5,687.1L357.0,687.2L356.5,687.2L356.0,687.2L355.5,687.2L355.0,687.2L354.5,687.2L354.0,687.3L353.5,687.3L353.0,687.3L352.5,687.3L352.0,687.3L351.5,687.3L351.0,687.3L350.5,687.3L350.0,687.2L349.5,687.2L349.0,687.2L348.5,687.2L348.0,687.2L347.5,687.1L347.0,687.1L346.5,687.1L346.0,687.1L345.5,687.1L345.0,687.0L344.5,687.0L344.0,687.0L343.5,687.0L343.0,687.0L342.5,686.9L342.0,686.9L341.5,686.9L341.0,686.9L340.5,686.8L340.0,686.8L339.5,686.8L339.0,686.8L338.5,686.8L338.0,686.7L337.5,686.7L337.0,686.7L336.5,686.7L336.0,686.7L335.5,686.6L335.0,686.6L334.5,686.6L334.0,686.6L333.5,686.5L333.0,686.5L332.5,686.5L332.0,686.5L331.5,686.4L331.0,686.4L330.5,686.4L330.0,686.4L329.5,686.3L329.0,686.3L328.5,686.3L328.0,686.2L327.5,686.2L327.0,686.2L326.5,686.2L326.0,686.1L325.5,686.1L325.0,686.1L324.5,686.0L324.0,686.0L323.5,686.0L323.0,686.0L322.5,685.9L322.0,685.9L321.5,685.9L321.0,685.8L320.5,685.8L320.0,685.8L319.5,685.8L319.0,685.7L318.5,685.7L318.0,685.7L317.5,685.6L317.0,685.6L316.5,685.6L316.0,685.6L315.5,685.5L315.0,685.5L314.5,685.5L314.0,685.4L313.5,685.4L313.0,685.3L312.5,685.3L312.0,685.3L311.5,685.2L311.0,685.2L310.5,685.1L310.0,685.1L309.5,685.0L309.0,685.0L308.5,684.9L308.0,684.9L307.5,684.8L307.0,684.8L306.5,684.7L306.0,684.7L305.5,684.6L305.0,684.6L304.5,684.5L304.0,684.5L303.5,684.4L303.0,684.4L302.5,684.3L302.0,684.3L301.5,684.2L301.0,684.2L300.5,684.1L300.0,684.1L299.5,684.0L299.0,684.0L298.5,683.9L298.0,683.9L297.5,683.8L297.0,683.8L296.5,683.7L296.0,683.6L295.5,683.6L295.0,683.5L294.5,683.4L294.0,683.4L293.5,683.3L293.0,683.2L292.5,683.1L292.0,683.0L291.5,682.9L291.0,682.8L290.5,682.7L290.0,682.6L289.5,682.5L289.0,682.4L288.5,682.3L288.0,682.2L287.5,682.1L287.0,682.0L286.5,681.9L286.0,681.8L285.5,681.7L285.0,681.6L284.5,681.5L284.0,681.4L283.5,681.3L283.0,681.2L282.5,681.1L282.0,681.0L281.5,680.9L281.0,680.8L280.5,680.7L280.0,680.6L279.5,680.5L279.0,680.4L278.5,680.3L278.0,680.2L277.5,680.1L277.0,680.0L276.5,679.9L276.0,679.7L275.5,679.6L275.0,679.5L274.5,679.4L274.0,679.3L273.5,679.2L273.0,679.1L272.5,679.0L272.0,678.9L271.5,678.8L271.0,678.7L270.5,678.5L270.0,678.4L269.5,678.3L269.0,678.2L268.5,678.1L268.0,678.0L267.5,677.9L267.0,677.8L266.5,677.7L266.0,677.6L265.5,677.5L265.0,677.4L264.5,677.3L264.0,677.1L263.5,677.0L263.0,676.9L262.5,676.8L262.0,676.7L261.5,676.6L261.0,676.5L260.5,676.4L260.0,676.3L259.5,676.2L259.0,676.1L258.5,676.0L258.0,675.8L257.5,675.7L257.0,675.6L256.5,675.5L256.0,675.4L255.5,675.3L255.0,675.2L254.5,675.1L254.0,675.0L253.5,674.9L253.0,674.7L252.5,674.6L252.0,674.5L251.5,674.4L251.0,674.3L250.5,674.2L250.0,674.1L249.5,674.0L249.0,673.9L248.5,673.8L248.0,673.7L247.5,673.6L247.0,673.5L246.5,673.4L246.0,673.3L245.5,673.2L245.0,673.1L244.5,672.9L244.0,672.8L243.5,672.7L243.0,672.6L242.5,672.5L242.0,672.4L241.5,672.3L241.0,672.2L240.5,672.1L240.0,672.0L239.5,671.9L239.0,671.8L238.5,671.8L238.0,671.7L237.5,671.6L237.0,671.5L236.5,671.5L236.0,671.4L235.5,671.4L235.0,671.4L234.5,671.3L234.0,671.3L233.5,671.3L233.0,671.2L232.5,671.2L232.0,671.2L231.5,671.1L231.0,671.1L230.5,671.1L230.0,671.0L229.5,671.0L229.0,670.9L228.5,670.9L228.0,670.9L227.5,670.8L227.0,670.8L226.5,670.8L226.0,670.7L225.5,670.7L225.0,670.7L224.5,670.6Z" fill="#eccb85" opacity="0.9"/>
<path d="M143.5,656.9L143.8,656.9L144.0,657.1L144.2,657.4L144.5,657.8L144.8,658.3L145.0,658.8L145.2,659.4L145.5,659.8L145.8,660.2L146.0,661.0L146.2,662.4L146.5,661.0L146.8,660.1L147.0,659.6L147.2,659.1L147.5,658.6L147.8,658.1L148.0,657.8L148.2,657.6L148.5,657.6L148.8,657.8L149.0,658.0L149.2,658.7L149.5,660.5L149.8,659.3L150.0,659.2L150.2,659.7L150.5,660.1L150.8,660.0L151.0,659.9L151.2,659.8L151.5,659.8L151.8,659.7L152.0,659.6L152.2,659.6L152.5,659.6L152.8,659.8L153.0,660.1L153.2,660.5L153.5,661.0L153.8,661.6L154.0,662.3L154.2,662.9L154.5,663.5L154.8,664.0L155.0,664.2L155.2,664.3L155.5,664.1L155.8,663.7L156.0,663.3L156.2,662.9L156.5,662.3L156.8,661.4L157.0,660.5L157.2,659.8L157.5,659.4L157.8,659.1L158.0,658.9L158.2,658.9L158.5,659.0L158.8,659.1L159.0,659.4L159.2,660.4L159.5,660.0L159.8,660.4L160.0,660.9L160.2,661.5L160.5,662.0L160.8,662.5L161.0,663.0L161.2,663.2L161.5,663.4L161.8,663.4L162.0,663.2L162.2,663.0L162.5,662.7L162.8,662.4L163.0,662.1L163.2,661.8L163.5,661.6L163.8,661.3L164.0,661.2L164.2,661.1L164.5,661.1L164.8,661.2L165.0,661.4L165.2,661.7L165.5,662.3L165.8,663.5L166.0,664.6L166.2,665.6L166.5,665.1L166.8,665.5L167.0,663.9L167.2,663.8L167.5,663.9L167.8,663.9L168.0,663.8L168.2,663.5L168.5,663.3L168.8,663.1L169.0,663.7L169.2,664.4L169.5,665.8L169.8,665.4L170.0,665.6L170.2,665.8L170.5,666.0L170.8,666.0L171.0,665.8L171.2,665.6L171.5,665.1L171.8,664.6L172.0,664.0L172.2,663.3L172.5,662.7L172.8,662.2L173.0,661.8L173.2,661.6L173.5,661.5L173.8,661.5L174.0,661.6L174.2,661.7L174.5,661.9L174.8,662.3L175.0,663.1L175.2,662.5L175.5,662.4L175.8,662.6L176.0,662.8L176.2,663.0L176.5,663.4L176.8,663.8L177.0,664.2L177.2,664.6L177.5,665.1L177.8,665.5L178.0,665.9L178.2,666.2L178.5,666.4L178.8,666.5L179.0,666.5L179.2,667.8L179.5,672.4L179.8,677.8L180.0,674.0L180.2,668.6L180.5,666.4L180.8,666.2L181.0,665.9L181.2,665.5L181.5,665.6L181.8,665.7L182.0,665.7L182.2,665.6L182.5,665.4L182.8,665.2L183.0,665.0L183.2,664.9L183.5,664.8L183.8,664.7L184.0,664.8L184.2,665.0L184.5,665.2L184.8,665.6L185.0,666.0L185.2,666.3L185.5,666.6L185.8,666.7L186.0,666.7L186.2,666.7L186.5,666.5L186.8,666.3L187.0,666.1L187.2,665.8L187.5,665.6L187.8,665.4L188.0,665.2L188.2,665.1L188.5,665.1L188.8,665.2L189.0,665.4L189.2,665.6L189.5,665.8L189.8,666.0L190.0,666.1L190.2,666.1L190.5,666.0L190.8,665.9L191.0,664.8L191.2,663.1L191.5,664.5L191.8,665.5L192.0,666.2L192.2,667.5L192.5,668.8L192.8,668.0L193.0,667.1L193.2,666.7L193.5,666.9L193.8,667.1L194.0,667.2L194.2,667.3L194.5,667.4L194.8,667.5L195.0,667.6L195.2,667.6L195.5,667.6L195.8,667.6L196.0,667.5L196.2,667.4L196.5,667.3L196.8,667.2L197.0,667.2L197.2,667.3L197.5,667.5L197.8,667.8L198.0,668.1L198.2,668.4L198.5,668.7L198.8,669.0L199.0,669.2L199.2,669.4L199.5,669.5L199.8,669.5L200.0,669.5L200.2,669.3L200.5,669.2L200.8,669.0L201.0,668.9L201.2,668.9L201.5,668.9L201.8,669.0L202.0,669.2L202.2,669.4L202.5,669.6L202.8,669.7L203.0,669.9L203.2,670.4L203.5,671.4L203.8,672.4L204.0,673.3L204.2,672.1L204.5,670.9L204.8,669.7L205.0,669.0L205.2,668.8L205.5,668.6L205.8,668.5L206.0,668.4L206.2,668.3L206.5,668.4L206.8,668.5L207.0,668.7L207.2,668.8L207.5,669.1L207.8,669.3L208.0,669.6L208.2,670.0L208.5,670.2L208.8,670.3L209.0,670.5L209.2,670.7L209.5,670.9L209.8,671.1L210.0,671.2L210.2,671.3L210.5,671.2L210.8,671.1L211.0,671.3L211.2,671.5L211.5,671.6L211.8,671.7L212.0,671.8L212.2,671.8L212.5,671.7L212.8,671.5L213.0,673.8L213.2,676.4L213.5,679.0L213.8,676.1L214.0,673.4L214.2,671.0L214.5,671.2L214.8,671.4L215.0,671.6L215.2,671.8L215.5,671.9L215.8,671.5L216.0,671.1L216.2,670.6L216.5,670.8L216.8,671.0L217.0,671.4L217.2,671.9L217.5,672.3L217.8,671.3L218.0,670.3L218.2,669.8L218.5,669.7L218.8,669.7L219.0,669.8L219.2,670.0L219.5,670.3L219.8,670.7L220.0,671.1L220.2,671.6L220.5,672.0L220.8,672.3L221.0,672.6L221.2,672.8L221.5,672.6L221.8,671.9L222.0,671.3L222.2,672.2L222.5,673.1L222.8,673.6L223.0,673.7L223.2,673.9L223.5,674.1L223.8,674.3L224.0,674.6L224.2,674.8L224.5,675.1L224.8,675.4L225.0,675.6L225.2,675.8L225.5,675.9L225.8,675.9L226.0,675.9L226.2,675.8L226.5,675.6L226.8,675.2L227.0,674.8L227.2,674.6L227.5,675.2L227.8,675.4L228.0,675.8L228.2,675.7L228.5,676.0L228.8,676.5L229.0,677.7L229.2,679.7L229.5,680.7L229.8,679.3L230.0,677.7L230.2,676.9L230.5,676.2L230.8,675.5L231.0,674.8L231.2,675.0L231.5,675.3L231.8,675.7L232.0,676.0L232.2,676.0L232.5,676.1L232.8,676.1L233.0,676.1L233.2,676.0L233.5,675.9L233.8,675.8L234.0,675.7L234.2,675.6L234.5,675.5L234.8,675.7L235.0,676.2L235.2,675.6L235.5,675.2L235.8,676.4L236.0,678.2L236.2,676.3L236.5,675.0L236.8,675.0L237.0,675.1L237.2,675.5L237.5,675.2L237.8,675.2L238.0,675.5L238.2,675.8L238.5,676.2L238.8,676.6L239.0,677.1L239.2,677.5L239.5,677.9L239.8,678.2L240.0,678.4L240.2,678.5L240.5,678.6L240.8,678.6L241.0,678.5L241.2,678.3L241.5,678.2L241.8,678.0L242.0,677.9L242.2,678.8L242.5,681.7L242.8,678.6L243.0,677.5L243.2,676.7L243.5,676.1L243.8,677.1L244.0,677.7L244.2,677.7L244.5,677.7L244.8,677.7L245.0,677.8L245.2,677.9L245.5,678.0L245.8,678.1L246.0,678.2L246.2,678.4L246.5,678.6L246.8,678.8L247.0,679.1L247.2,679.4L247.5,679.7L247.8,680.0L248.0,680.4L248.2,681.0L248.5,681.6L248.8,681.5L249.0,681.4L249.2,681.4L249.5,681.4L249.8,681.3L250.0,681.2L250.2,681.0L250.5,680.8L250.8,680.7L251.0,680.6L251.2,681.1L251.5,681.8L251.8,681.3L252.0,680.7L252.2,679.9L252.5,679.0L252.8,678.2L253.0,679.3L253.2,680.3L253.5,681.3L253.8,681.5L254.0,681.5L254.2,681.3L254.5,681.1L254.8,680.8L255.0,680.4L255.2,680.0L255.5,679.6L255.8,679.3L256.0,680.3L256.2,684.6L256.5,680.0L256.8,678.6L257.0,678.6L257.2,678.6L257.5,678.2L257.8,678.3L258.0,680.3L258.2,682.1L258.5,680.7L258.8,679.1L259.0,679.4L259.2,681.0L259.5,684.3L259.8,687.5L260.0,686.7L260.2,685.9L260.5,684.5L260.8,683.8L261.0,684.0L261.2,683.8L261.5,683.6L261.8,684.0L262.0,684.4L262.2,684.3L262.5,684.2L262.8,684.1L263.0,683.9L263.2,683.8L263.5,683.8L263.8,683.8L264.0,683.9L264.2,684.0L264.5,684.2L264.8,684.3L265.0,685.1L265.2,686.3L265.5,687.5L265.8,688.6L266.0,687.7L266.2,687.3L266.5,686.8L266.8,685.4L267.0,684.6L267.2,684.5L267.5,684.4L267.8,684.4L268.0,684.5L268.2,685.5L268.5,686.7L268.8,685.9L269.0,685.4L269.2,685.6L269.5,685.7L269.8,685.8L270.0,685.7L270.2,685.6L270.5,685.4L270.8,685.3L271.0,685.2L271.2,685.1L271.5,685.1L271.8,685.3L272.0,685.5L272.2,685.9L272.5,686.2L272.8,686.6L273.0,686.9L273.2,687.3L273.5,687.5L273.8,687.7L274.0,687.8L274.2,687.9L274.5,688.0L274.8,688.1L275.0,688.1L275.2,688.2L275.5,688.2L275.8,688.2L276.0,688.0L276.2,687.8L276.5,687.5L276.8,687.0L277.0,686.5L277.2,686.0L277.5,685.3L277.8,684.8L278.0,684.4L278.2,684.1L278.5,684.4L278.8,684.8L279.0,685.3L279.2,685.9L279.5,686.3L279.8,686.7L280.0,687.1L280.2,687.4L280.5,687.5L280.8,687.6L281.0,687.2L281.2,686.0L281.5,684.8L281.8,683.6L282.0,682.5L282.2,683.7L282.5,685.0L282.8,686.4L283.0,687.9L283.2,688.7L283.5,689.3L283.8,689.8L284.0,690.2L284.2,690.9L284.5,692.4L284.8,691.4L285.0,691.2L285.2,691.2L285.5,691.2L285.8,691.0L286.0,690.8L286.2,690.5L286.5,690.2L286.8,691.4L287.0,695.1L287.2,690.8L287.5,690.4L287.8,692.4L288.0,694.5L288.2,692.3L288.5,690.0L288.8,688.7L289.0,688.6L289.2,688.6L289.5,689.3L289.8,689.9L290.0,689.6L290.2,689.7L290.5,688.8L290.8,689.3L291.0,690.1L291.2,690.9L291.5,689.9L291.8,688.9L292.0,687.9L292.2,687.4L292.5,687.0L292.8,687.6L293.0,688.3L293.2,688.7L293.5,689.1L293.8,689.5L294.0,689.9L294.2,690.2L294.5,690.9L294.8,691.8L295.0,692.6L295.2,693.4L295.5,692.9L295.8,692.3L296.0,691.6L296.2,691.2L296.5,691.1L296.8,691.1L297.0,691.0L297.2,690.9L297.5,690.9L297.8,691.9L298.0,692.9L298.2,691.9L298.5,690.9L298.8,690.8L299.0,690.5L299.2,690.1L299.5,690.1L299.8,690.4L300.0,693.3L300.2,693.5L300.5,692.4L300.8,691.4L301.0,691.5L301.2,691.6L301.5,692.0L301.8,693.7L302.0,695.3L302.2,696.6L302.5,695.3L302.8,697.7L303.0,694.2L303.2,694.7L303.5,696.0L303.8,694.4L304.0,692.7L304.2,691.1L304.5,690.8L304.8,691.1L305.0,692.1L305.2,691.6L305.5,692.6L305.8,696.0L306.0,699.3L306.2,696.2L306.5,693.0L306.8,692.0L307.0,691.7L307.2,691.4L307.5,691.2L307.8,691.0L308.0,690.9L308.2,690.9L308.5,691.1L308.8,691.4L309.0,691.8L309.2,692.2L309.5,692.5L309.8,692.8L310.0,692.9L310.2,693.0L310.5,692.9L310.8,692.8L311.0,692.7L311.2,692.6L311.5,692.7L311.8,693.4L312.0,695.9L312.2,698.6L312.5,696.8L312.8,694.9L313.0,694.2L313.2,694.1L313.5,694.1L313.8,694.8L314.0,695.5L314.2,695.2L314.5,694.8L314.8,694.5L315.0,694.2L315.2,693.8L315.5,693.5L315.8,693.1L316.0,692.8L316.2,692.5L316.5,692.3L316.8,692.1L317.0,692.5L317.2,693.8L317.5,695.1L317.8,696.5L318.0,695.1L318.2,693.7L318.5,691.6L318.8,690.3L319.0,689.7L319.2,690.8L319.5,691.8L319.8,692.5L320.0,692.6L320.2,691.7L320.5,690.7L320.8,692.1L321.0,693.3L321.2,693.6L321.5,693.8L321.8,694.0L322.0,693.8L322.2,693.5L322.5,693.1L322.8,692.8L323.0,692.6L323.2,692.7L323.5,695.1L323.8,694.2L324.0,695.0L324.2,694.4L324.5,694.4L324.8,692.3L325.0,693.4L325.2,693.3L325.5,692.6L325.8,691.5L326.0,691.0L326.2,691.1L326.5,691.5L326.8,692.0L327.0,692.4L327.2,692.8L327.5,693.1L327.8,693.4L328.0,693.8L328.2,695.4L328.5,692.8L328.8,691.3L329.0,692.8L329.2,694.2L329.5,694.2L329.8,694.1L330.0,694.2L330.2,695.8L330.5,697.5L330.8,697.5L331.0,694.4L331.2,694.3L331.5,694.6L331.8,694.1L332.0,693.7L332.2,693.4L332.5,693.2L332.8,692.9L333.0,692.8L333.2,692.7L333.5,692.9L333.8,693.2L334.0,693.3L334.2,693.5L334.5,693.8L334.8,694.0L335.0,694.8L335.2,695.9L335.5,697.4L335.8,693.9L336.0,689.6L336.2,691.6L336.5,693.4L336.8,692.1L337.0,692.7L337.2,693.4L337.5,694.1L337.8,694.5L338.0,694.3L338.2,694.0L338.5,693.8L338.8,694.8L339.0,696.4L339.2,698.0L339.5,696.2L339.8,694.3L340.0,693.1L340.2,693.0L340.5,692.9L340.8,692.9L341.0,692.9L341.2,692.9L341.5,692.9L341.8,693.0L342.0,693.5L342.2,695.4L342.5,693.6L342.8,693.3L343.0,694.3L343.2,695.6L343.5,694.9L343.8,694.5L344.0,694.9L344.2,695.2L344.5,695.5L344.8,695.6L345.0,695.7L345.2,695.7L345.5,695.7L345.8,695.6L346.0,695.4L346.2,695.3L346.5,695.6L346.8,696.0L347.0,696.4L347.2,696.1L347.5,695.9L347.8,695.6L348.0,695.7L348.2,695.8L348.5,695.9L348.8,695.9L349.0,696.1L349.2,696.8L349.5,698.0L349.8,698.7L350.0,699.3L350.2,698.0L350.5,696.7L350.8,695.4L351.0,695.2L351.2,695.4L351.5,695.7L351.8,698.6L352.0,702.9L352.2,698.9L352.5,696.0L352.8,695.6L353.0,695.0L353.2,694.5L353.5,694.1L353.8,693.7L354.0,693.3L354.2,693.0L354.5,692.8L354.8,692.6L355.0,692.6L355.2,692.6L355.5,692.8L355.8,693.0L356.0,694.0L356.2,694.9L356.5,694.2L356.8,694.1L357.0,694.2L357.2,693.3L357.5,692.7L357.8,692.2L358.0,692.8L358.2,693.4L358.5,694.1L358.8,694.8L359.0,695.1L359.2,695.2L359.5,695.2L359.8,695.1L360.0,694.9L360.2,694.6L360.5,694.1L360.8,693.7L361.0,693.1L361.2,692.6L361.5,692.3L361.8,692.5L362.0,692.7L362.2,693.1L362.5,697.7L362.8,706.2L363.0,696.4L363.2,690.9L363.5,691.2L363.8,691.5L364.0,691.8L364.2,692.2L364.5,692.5L364.8,692.7L365.0,692.9L365.2,693.0L365.5,693.0L365.8,693.1L366.0,693.1L366.2,693.4L366.5,693.8L366.8,694.1L367.0,694.0L367.2,693.9L367.5,693.8L367.8,693.9L368.0,693.9L368.2,693.9L368.5,693.7L368.8,693.5L369.0,693.2L369.2,692.8L369.5,692.5L369.8,692.2L370.0,692.0L370.2,691.9L370.5,691.9L370.8,691.9L371.0,692.1L371.2,692.3L371.5,692.5L371.8,692.7L372.0,692.8L372.2,692.9L372.5,692.9L372.8,692.9L373.0,693.0L373.2,693.1L373.5,693.2L373.8,692.3L374.0,691.4L374.2,690.4L374.5,691.7L374.8,693.0L375.0,694.0L375.2,694.0L375.5,693.9L375.8,693.7L376.0,693.5L376.2,693.3L376.5,693.2L376.8,693.2L377.0,693.2L377.2,692.5L377.5,691.8L377.8,691.2L378.0,693.3L378.2,696.2L378.5,694.4L378.8,692.5L379.0,691.8L379.2,691.7L379.5,691.4L379.8,691.1L380.0,690.6L380.2,690.1L380.5,689.7L380.8,689.4L381.0,689.3L381.2,689.4L381.5,689.6L381.8,690.0L382.0,690.7L382.2,692.4L382.5,694.2L382.8,695.8L383.0,694.9L383.2,693.7L383.5,692.5L383.8,692.1L384.0,691.9L384.2,691.5L384.5,691.4L384.8,691.6L385.0,691.8L385.2,691.2L385.5,692.5L385.8,695.1L386.0,693.1L386.2,691.8L386.5,691.7L386.8,691.6L387.0,691.6L387.2,691.8L387.5,691.9L387.8,692.0L388.0,692.0L388.2,692.0L388.5,691.9L388.8,691.7L389.0,691.5L389.2,691.3L389.5,691.2L389.8,691.0L390.0,691.0L390.2,690.9L390.5,691.0L390.8,691.1L391.0,691.3L391.2,691.6L391.5,691.7L391.8,691.9L392.0,691.9L392.2,691.8L392.5,691.6L392.8,691.3L393.0,690.9L393.2,690.6L393.5,690.4L393.8,690.3L394.0,690.3L394.2,690.4L394.5,690.8L394.8,692.3L395.0,693.5L395.2,695.4L395.5,695.7L395.8,696.6L396.0,692.5L396.2,690.3L396.5,690.3L396.8,690.2L397.0,690.1L397.2,689.4L397.5,690.4L397.8,690.9L398.0,691.2L398.2,691.4L398.5,691.6L398.8,691.8L399.0,691.8L399.2,692.0L399.5,695.7L399.8,691.5L400.0,690.8L400.2,690.6L400.5,690.8L400.8,689.9L401.0,689.5L401.2,689.4L401.5,689.5L401.8,689.6L402.0,689.8L402.2,690.1L402.5,690.3L402.8,690.4L403.0,690.4L403.2,690.3L403.5,690.1L403.8,689.8L404.0,689.6L404.2,689.8L404.5,690.6L404.8,691.4L405.0,690.7L405.2,690.0L405.5,689.7L405.8,689.6L406.0,689.6L406.2,689.5L406.5,689.5L406.8,689.5L407.0,689.5L407.2,689.6L407.5,690.3L407.8,694.7L408.0,699.1L408.2,694.8L408.5,690.6L408.8,690.0L409.0,690.1L409.2,690.1L409.5,690.0L409.8,692.4L410.0,697.9L410.2,703.3L410.5,697.2L410.8,691.1L411.0,688.7L411.2,689.9L411.5,691.5L411.8,692.2L412.0,690.6L412.2,689.2L412.5,689.1L412.8,689.8L413.0,689.1L413.2,688.3L413.5,688.0L413.8,687.8L414.0,687.6L414.2,687.4L414.5,687.3L414.8,688.4L415.0,690.0L415.2,688.8L415.5,689.3L415.8,693.3L416.0,697.3L416.2,693.2L416.5,689.1L416.8,687.5L417.0,687.7L417.2,687.8L417.5,688.0L417.8,688.1L418.0,688.2L418.2,688.3L418.5,688.3L418.8,688.4L419.0,688.4L419.2,688.4L419.5,688.5L419.8,688.6L420.0,688.7L420.2,688.9L420.5,688.9L420.8,688.9L421.0,688.8L421.2,688.5L421.5,688.0L421.8,687.5L422.0,686.9L422.2,686.2L422.5,685.7L422.8,685.2L423.0,685.5L423.2,687.6L423.5,683.7L423.8,683.9L424.0,685.4L424.2,681.5L424.5,681.3L424.8,683.3L425.0,685.2L425.2,687.1L425.5,687.5L425.8,687.7L426.0,687.7L426.2,687.6L426.5,687.3L426.8,686.9L427.0,686.4L427.2,685.9L427.5,685.3L427.8,684.9L428.0,684.6L428.2,684.4L428.5,684.5L428.8,684.7L429.0,685.0L429.2,686.2L429.5,685.3L429.8,685.5L430.0,685.7L430.2,685.8L430.5,685.9L430.8,685.9L431.0,685.9L431.2,685.9L431.5,685.9L431.8,685.8L432.0,685.7L432.2,685.6L432.5,685.5L432.8,685.4L433.0,685.3L433.2,685.2L433.5,685.1L433.8,685.0L434.0,684.9L434.2,684.8L434.5,684.8L434.8,684.8L435.0,684.9L435.2,685.0L435.5,685.0L435.8,685.0L436.0,684.9L436.2,684.5L436.5,684.1L436.8,683.7L437.0,684.2L437.2,682.6L437.5,682.1L437.8,681.8L438.0,681.7L438.2,682.0L438.5,682.9L438.8,683.8L439.0,683.5L439.2,683.8L439.5,685.1L439.8,686.6L440.0,686.4L440.2,684.9L440.5,684.5L440.8,684.6L441.0,684.7L441.2,684.7L441.5,684.7L441.8,684.8L442.0,684.9L442.2,685.1L442.5,685.6L442.8,686.0L443.0,686.7L443.2,686.3L443.5,685.9L443.8,685.3L444.0,685.2L444.2,685.1L444.5,685.5L444.8,685.0L445.0,682.6L445.2,685.6L445.5,687.5L445.8,688.6L446.0,686.8L446.2,685.1L446.5,686.3L446.8,689.0L447.0,686.3L447.2,684.6L447.5,684.7L447.8,684.2L448.0,683.6L448.2,682.9L448.5,683.5L448.8,683.6L449.0,683.4L449.2,682.6L449.5,681.7L449.8,682.1L450.0,682.6L450.2,683.1L450.5,683.4L450.8,683.4L451.0,683.4L451.2,683.5L451.5,683.6L451.8,683.6L452.0,683.7L452.2,683.8L452.5,683.8L452.8,683.8L453.0,683.7L453.2,683.6L453.5,683.4L453.8,683.2L454.0,683.0L454.2,682.8L454.5,682.6L454.8,682.4L455.0,682.8L455.2,683.3L455.5,683.9L455.8,683.5L456.0,683.2L456.2,682.1L456.5,681.1L456.8,682.8L457.0,684.0L457.2,684.3L457.5,684.4L457.8,684.5L458.0,684.5L458.2,684.4L458.5,684.4L458.8,684.3L459.0,684.2L459.2,684.1L459.5,684.0L459.8,683.9L460.0,683.9L460.2,683.7L460.5,683.6L460.8,683.4L461.0,683.2L461.2,683.0L461.5,682.7L461.8,682.4L462.0,682.2L462.2,682.1L462.5,682.1L462.8,682.3L463.0,682.7L463.2,687.8L463.5,685.8L463.8,684.9L464.0,684.3L464.2,684.7L464.5,684.9L464.8,684.4L465.0,683.8L465.2,684.6L465.5,685.2L465.8,685.9L466.0,687.7L466.2,689.5L466.5,691.3L466.8,688.9L467.0,686.6L467.2,684.5L467.5,684.2L467.8,684.6L468.0,685.4L468.2,686.0L468.5,684.1L468.8,683.4L469.0,683.4L469.2,683.7L469.5,684.0L469.8,684.2L470.0,684.3L470.2,684.3L470.5,684.3L470.8,684.2L471.0,684.2L471.2,684.2L471.5,684.4L471.8,684.6L472.0,684.9L472.2,685.1L472.5,685.3L472.8,685.4L473.0,685.3L473.2,685.1L473.5,684.8L473.8,685.2L474.0,685.9L474.2,686.7L474.5,685.2L474.8,683.8L475.0,683.2L475.2,683.3L475.5,683.0L475.8,682.7L476.0,682.6L476.2,682.6L476.5,682.6L476.8,682.7L477.0,682.8L477.2,682.9L477.5,682.9L477.8,682.9L478.0,682.8L478.2,682.6L478.5,682.3L478.8,682.1L479.0,683.1L479.2,684.1L479.5,682.7L479.8,681.5L480.0,681.4L480.2,681.5L480.5,681.6L480.8,681.7L481.0,681.8L481.2,681.7L481.5,681.6L481.8,681.4L482.0,681.2L482.2,681.1L482.5,681.1L482.8,681.1L483.0,681.4L483.2,681.4L483.5,680.6L483.8,679.8L484.0,681.6L484.2,683.2L484.5,683.9L484.8,684.2L485.0,685.3L485.2,687.0L485.5,688.5L485.8,686.5L486.0,684.4L486.2,683.0L486.5,682.6L486.8,682.2L487.0,681.9L487.2,681.6L487.5,681.5L487.8,681.4L488.0,681.4L488.2,681.5L488.5,681.9L488.8,681.4L489.0,681.2L489.2,681.4L489.5,681.5L489.8,682.0L490.0,689.6L490.2,682.7L490.5,682.9L490.8,683.1L491.0,683.1L491.2,682.6L491.5,681.2L491.8,680.1L492.0,679.8L492.2,679.4L492.5,680.1L492.8,680.6L493.0,680.3L493.2,680.3L493.5,680.5L493.8,685.3L494.0,691.1L494.2,685.4L494.5,680.6L494.8,680.4L495.0,681.2L495.2,683.0L495.5,681.4L495.8,681.1L496.0,681.9L496.2,682.6L496.5,683.4L496.8,683.9L497.0,684.3L497.2,684.6L497.5,684.8L497.8,684.9L498.0,684.9L498.2,684.9L498.5,684.8L498.8,684.7L499.0,684.7L499.2,684.7L499.5,684.7L499.8,684.9L500.0,685.1L500.2,682.6L500.5,678.3L500.8,679.2L501.0,683.5L501.2,684.7L501.5,684.7L501.8,684.6L502.0,684.3L502.2,683.9L502.5,683.6L502.8,682.7L503.0,682.3L503.2,682.3L503.5,682.7L503.8,683.1L504.0,683.8L504.2,684.4L504.5,682.6L504.8,680.8L505.0,679.4L505.2,678.6L505.5,678.0L505.8,677.5L506.0,677.3L506.2,677.3L506.5,677.7L506.8,678.3L507.0,679.2L507.2,680.2L507.5,681.2L507.8,682.1L508.0,682.7L508.2,682.9L508.5,682.7L508.8,682.4L509.0,682.0L509.2,681.1L509.5,679.7L509.8,678.3L510.0,679.1L510.2,680.0L510.5,680.3L510.8,680.3L511.0,680.3L511.2,680.3L511.5,680.3L511.8,680.0L512.0,679.1L512.2,680.0L512.5,680.3L512.8,680.3L513.0,680.1L513.2,679.8L513.5,680.3L513.8,680.8L514.0,681.1L514.2,681.4L514.5,682.3L514.8,680.2L515.0,681.0L515.2,681.9L515.5,682.0L515.8,679.3L516.0,676.2L516.2,673.1L516.5,676.0L516.8,679.7L517.0,683.1L517.2,683.9L517.5,683.2L517.8,682.5L518.0,681.9L518.2,681.9L518.5,682.0L518.8,682.1L519.0,682.2L519.2,682.2L519.5,682.2L519.8,682.2L520.0,682.1L520.2,682.0L520.5,684.2L520.8,689.5L521.0,687.2L521.2,686.5L521.5,685.4L521.8,684.1L522.0,682.9L522.2,681.5L522.5,680.5L522.8,679.6L523.0,679.7L523.2,679.9L523.5,680.2L523.8,680.5L524.0,680.8L524.2,681.0L524.5,681.1L524.8,681.1L525.0,682.9L525.2,685.6L525.5,682.8L525.8,680.9L526.0,683.3L526.2,685.8L526.5,688.3L526.8,685.9L527.0,683.5L527.2,681.2L527.5,681.2L527.8,681.3L528.0,681.3L528.2,681.4L528.5,681.5L528.8,681.5L529.0,681.4L529.2,681.4L529.5,681.3L529.8,681.2L530.0,681.2L530.2,681.2L530.5,681.2L530.8,681.2L531.0,681.2L531.2,681.2L531.5,681.2L531.8,680.9L532.0,680.0L532.2,679.0L532.5,678.0L532.8,677.7L533.0,678.4L533.2,679.1L533.5,679.7L533.8,680.1L534.0,679.9L534.2,679.7L534.5,680.1L534.8,681.6L535.0,683.1L535.2,680.8L535.5,678.6L535.8,677.8L536.0,677.8L536.2,678.0L536.5,678.4L536.8,678.8L537.0,679.3L537.2,680.0L537.5,680.7L537.8,683.2L538.0,686.1L538.2,689.0L538.5,685.9L538.8,682.8L539.0,680.2L539.2,680.1L539.5,680.1L539.8,680.3L540.0,680.6L540.2,681.0L540.5,681.5L540.8,682.1L541.0,681.0L541.2,680.0L541.5,679.6L541.8,679.8L542.0,681.9L542.2,681.6L542.5,681.2L542.8,681.5L543.0,681.3L543.2,681.2L543.5,681.4L543.8,680.5L544.0,679.9L544.2,679.8L544.5,679.3L544.8,679.1L545.0,679.1L545.2,679.1L545.5,679.1L545.8,679.2L546.0,679.4L546.2,679.1L546.5,677.6L546.8,676.2L547.0,680.3L547.2,684.6L547.5,682.7L547.8,680.7L548.0,681.2L548.2,681.5L548.5,681.5L548.8,681.2L549.0,680.9L549.2,680.8L549.5,680.8L549.8,680.1L550.0,679.3L550.2,680.7L550.5,682.1L550.8,682.5L551.0,683.2L551.2,684.1" stroke="#2b2d72" stroke-width="1.0" fill="none"/>
<path d="M143.5,658.5L144.0,658.5L144.5,658.5L145.0,658.6L145.5,658.6L146.0,658.7L146.5,658.7L147.0,658.8L147.5,658.8L148.0,658.9L148.5,658.9L149.0,659.0L149.5,659.0L150.0,659.1L150.5,659.1L151.0,659.2L151.5,659.2L152.0,659.3L152.5,659.3L153.0,659.4L153.5,659.5L154.0,659.6L154.5,659.7L155.0,659.8L155.5,659.9L156.0,660.0L156.5,660.1L157.0,660.3L157.5,660.4L158.0,660.5L158.5,660.6L159.0,660.7L159.5,660.9L160.0,661.0L160.5,661.1L161.0,661.2L161.5,661.3L162.0,661.4L162.5,661.6L163.0,661.7L163.5,661.8L164.0,661.9L164.5,662.0L165.0,662.2L165.5,662.3L166.0,662.4L166.5,662.5L167.0,662.6L167.5,662.8L168.0,662.9L168.5,663.0L169.0,663.1L169.5,663.2L170.0,663.3L170.5,663.4L171.0,663.5L171.5,663.6L172.0,663.7L172.5,663.8L173.0,663.9L173.5,663.9L174.0,664.0L174.5,664.1L175.0,664.2L175.5,664.3L176.0,664.3L176.5,664.4L177.0,664.5L177.5,664.6L178.0,664.7L178.5,664.7L179.0,664.8L179.5,664.9L180.0,665.0L180.5,665.1L181.0,665.1L181.5,665.2L182.0,665.3L182.5,665.4L183.0,665.5L183.5,665.6L184.0,665.6L184.5,665.7L185.0,665.8L185.5,665.9L186.0,666.0L186.5,666.0L187.0,666.1L187.5,666.2L188.0,666.3L188.5,666.4L189.0,666.5L189.5,666.5L190.0,666.6L190.5,666.7L191.0,666.8L191.5,666.9L192.0,667.0L192.5,667.0L193.0,667.1L193.5,667.2L194.0,667.3L194.5,667.4L195.0,667.5L195.5,667.5L196.0,667.6L196.5,667.7L197.0,667.8L197.5,667.9L198.0,668.0L198.5,668.1L199.0,668.1L199.5,668.2L200.0,668.3L200.5,668.5L201.0,668.6L201.5,668.7L202.0,668.8L202.5,668.9L203.0,669.1L203.5,669.2L204.0,669.3L204.5,669.4L205.0,669.6L205.5,669.7L206.0,669.8L206.5,669.9L207.0,670.1L207.5,670.2L208.0,670.3L208.5,670.4L209.0,670.6L209.5,670.7L210.0,670.8L210.5,670.9L211.0,671.1L211.5,671.2L212.0,671.3L212.5,671.4L213.0,671.6L213.5,671.7L214.0,671.8L214.5,671.9L215.0,672.0L215.5,672.1L216.0,672.2L216.5,672.3L217.0,672.4L217.5,672.5L218.0,672.6L218.5,672.7L219.0,672.8L219.5,672.8L220.0,672.9L220.5,673.0L221.0,673.1L221.5,673.2L222.0,673.3L222.5,673.3L223.0,673.4L223.5,673.5L224.0,673.6L224.5,673.7L225.0,673.8L225.5,673.8L226.0,673.9L226.5,674.0L227.0,674.1L227.5,674.2L228.0,674.3L228.5,674.3L229.0,674.4L229.5,674.5L230.0,674.6L230.5,674.7L231.0,674.8L231.5,674.8L232.0,674.9L232.5,675.0L233.0,675.1L233.5,675.2L234.0,675.3L234.5,675.3L235.0,675.4L235.5,675.5L236.0,675.6L236.5,675.7L237.0,675.8L237.5,675.9L238.0,676.0L238.5,676.1L239.0,676.3L239.5,676.4L240.0,676.6L240.5,676.7L241.0,676.9L241.5,677.0L242.0,677.2L242.5,677.3L243.0,677.5L243.5,677.6L244.0,677.8L244.5,677.9L245.0,678.1L245.5,678.2L246.0,678.4L246.5,678.5L247.0,678.7L247.5,678.8L248.0,679.0L248.5,679.1L249.0,679.3L249.5,679.4L250.0,679.6L250.5,679.7L251.0,679.9L251.5,680.0L252.0,680.2L252.5,680.3L253.0,680.5L253.5,680.6L254.0,680.8L254.5,680.9L255.0,681.1L255.5,681.2L256.0,681.4L256.5,681.5L257.0,681.7L257.5,681.8L258.0,682.0L258.5,682.1L259.0,682.3L259.5,682.4L260.0,682.6L260.5,682.7L261.0,682.9L261.5,683.0L262.0,683.2L262.5,683.3L263.0,683.5L263.5,683.6L264.0,683.8L264.5,683.9L265.0,684.1L265.5,684.2L266.0,684.4L266.5,684.5L267.0,684.7L267.5,684.8L268.0,684.9L268.5,685.1L269.0,685.2L269.5,685.4L270.0,685.5L270.5,685.7L271.0,685.8L271.5,686.0L272.0,686.1L272.5,686.3L273.0,686.4L273.5,686.6L274.0,686.7L274.5,686.9L275.0,687.0L275.5,687.1L276.0,687.2L276.5,687.4L277.0,687.5L277.5,687.6L278.0,687.7L278.5,687.8L279.0,687.9L279.5,688.0L280.0,688.1L280.5,688.2L281.0,688.3L281.5,688.4L282.0,688.5L282.5,688.6L283.0,688.7L283.5,688.8L284.0,688.9L284.5,689.0L285.0,689.1L285.5,689.2L286.0,689.3L286.5,689.4L287.0,689.5L287.5,689.6L288.0,689.7L288.5,689.8L289.0,689.9L289.5,690.0L290.0,690.1L290.5,690.2L291.0,690.3L291.5,690.4L292.0,690.5L292.5,690.6L293.0,690.7L293.5,690.8L294.0,690.9L294.5,690.9L295.0,691.0L295.5,691.1L296.0,691.1L296.5,691.2L297.0,691.3L297.5,691.3L298.0,691.4L298.5,691.4L299.0,691.5L299.5,691.5L300.0,691.6L300.5,691.6L301.0,691.7L301.5,691.7L302.0,691.8L302.5,691.8L303.0,691.9L303.5,691.9L304.0,692.0L304.5,692.0L305.0,692.1L305.5,692.1L306.0,692.2L306.5,692.2L307.0,692.3L307.5,692.3L308.0,692.4L308.5,692.4L309.0,692.5L309.5,692.5L310.0,692.6L310.5,692.6L311.0,692.7L311.5,692.7L312.0,692.8L312.5,692.8L313.0,692.8L313.5,692.9L314.0,692.9L314.5,693.0L315.0,693.0L315.5,693.0L316.0,693.1L316.5,693.1L317.0,693.1L317.5,693.1L318.0,693.2L318.5,693.2L319.0,693.2L319.5,693.3L320.0,693.3L320.5,693.3L321.0,693.3L321.5,693.4L322.0,693.4L322.5,693.4L323.0,693.5L323.5,693.5L324.0,693.5L324.5,693.5L325.0,693.6L325.5,693.6L326.0,693.6L326.5,693.7L327.0,693.7L327.5,693.7L328.0,693.7L328.5,693.8L329.0,693.8L329.5,693.8L330.0,693.9L330.5,693.9L331.0,693.9L331.5,693.9L332.0,694.0L332.5,694.0L333.0,694.0L333.5,694.0L334.0,694.1L334.5,694.1L335.0,694.1L335.5,694.1L336.0,694.2L336.5,694.2L337.0,694.2L337.5,694.2L338.0,694.2L338.5,694.3L339.0,694.3L339.5,694.3L340.0,694.3L340.5,694.3L341.0,694.4L341.5,694.4L342.0,694.4L342.5,694.4L343.0,694.5L343.5,694.5L344.0,694.5L344.5,694.5L345.0,694.5L345.5,694.6L346.0,694.6L346.5,694.6L347.0,694.6L347.5,694.6L348.0,694.7L348.5,694.7L349.0,694.7L349.5,694.7L350.0,694.7L350.5,694.7L351.0,694.7L351.5,694.7L352.0,694.7L352.5,694.7L353.0,694.6L353.5,694.6L354.0,694.5L354.5,694.5L355.0,694.4L355.5,694.4L356.0,694.3L356.5,694.3L357.0,694.2L357.5,694.2L358.0,694.1L358.5,694.1L359.0,694.0L359.5,694.0L360.0,693.9L360.5,693.9L361.0,693.8L361.5,693.8L362.0,693.7L362.5,693.7L363.0,693.6L363.5,693.6L364.0,693.5L364.5,693.5L365.0,693.4L365.5,693.4L366.0,693.3L366.5,693.3L367.0,693.2L367.5,693.2L368.0,693.1L368.5,693.1L369.0,693.0L369.5,693.0L370.0,692.9L370.5,692.9L371.0,692.8L371.5,692.8L372.0,692.7L372.5,692.6L373.0,692.6L373.5,692.5L374.0,692.5L374.5,692.4L375.0,692.4L375.5,692.3L376.0,692.3L376.5,692.2L377.0,692.2L377.5,692.1L378.0,692.1L378.5,692.0L379.0,692.0L379.5,691.9L380.0,691.9L380.5,691.9L381.0,691.8L381.5,691.7L382.0,691.7L382.5,691.6L383.0,691.6L383.5,691.5L384.0,691.5L384.5,691.4L385.0,691.4L385.5,691.3L386.0,691.3L386.5,691.2L387.0,691.2L387.5,691.1L388.0,691.1L388.5,691.0L389.0,691.0L389.5,690.9L390.0,690.9L390.5,690.8L391.0,690.8L391.5,690.7L392.0,690.7L392.5,690.6L393.0,690.6L393.5,690.5L394.0,690.5L394.5,690.4L395.0,690.4L395.5,690.3L396.0,690.3L396.5,690.2L397.0,690.2L397.5,690.1L398.0,690.1L398.5,690.0L399.0,690.0L399.5,689.9L400.0,689.9L400.5,689.8L401.0,689.8L401.5,689.7L402.0,689.7L402.5,689.6L403.0,689.6L403.5,689.5L404.0,689.5L404.5,689.4L405.0,689.4L405.5,689.3L406.0,689.3L406.5,689.2L407.0,689.2L407.5,689.1L408.0,689.1L408.5,689.0L409.0,689.0L409.5,688.9L410.0,688.8L410.5,688.8L411.0,688.7L411.5,688.6L412.0,688.6L412.5,688.5L413.0,688.5L413.5,688.4L414.0,688.3L414.5,688.3L415.0,688.2L415.5,688.1L416.0,688.1L416.5,688.0L417.0,688.0L417.5,687.9L418.0,687.8L418.5,687.8L419.0,687.7L419.5,687.6L420.0,687.6L420.5,687.5L421.0,687.5L421.5,687.4L422.0,687.3L422.5,687.3L423.0,687.2L423.5,687.2L424.0,687.1L424.5,687.1L425.0,687.0L425.5,687.0L426.0,686.9L426.5,686.9L427.0,686.8L427.5,686.8L428.0,686.7L428.5,686.7L429.0,686.6L429.5,686.6L430.0,686.5L430.5,686.5L431.0,686.4L431.5,686.4L432.0,686.3L432.5,686.3L433.0,686.2L433.5,686.2L434.0,686.2L434.5,686.1L435.0,686.1L435.5,686.0L436.0,686.0L436.5,685.9L437.0,685.9L437.5,685.8L438.0,685.8L438.5,685.7L439.0,685.7L439.5,685.6L440.0,685.6L440.5,685.5L441.0,685.5L441.5,685.4L442.0,685.4L442.5,685.3L443.0,685.3L443.5,685.2L444.0,685.2L444.5,685.1L445.0,685.1L445.5,685.0L446.0,685.0L446.5,684.9L447.0,684.9L447.5,684.8L448.0,684.8L448.5,684.7L449.0,684.7L449.5,684.6L450.0,684.5L450.5,684.5L451.0,684.4L451.5,684.4L452.0,684.3L452.5,684.3L453.0,684.2L453.5,684.2L454.0,684.1L454.5,684.1L455.0,684.0L455.5,684.0L456.0,683.9L456.5,683.9L457.0,683.8L457.5,683.8L458.0,683.7L458.5,683.7L459.0,683.6L459.5,683.6L460.0,683.5L460.5,683.5L461.0,683.5L461.5,683.4L462.0,683.4L462.5,683.4L463.0,683.4L463.5,683.4L464.0,683.4L464.5,683.3L465.0,683.3L465.5,683.3L466.0,683.3L466.5,683.3L467.0,683.2L467.5,683.2L468.0,683.2L468.5,683.2L469.0,683.2L469.5,683.1L470.0,683.1L470.5,683.1L471.0,683.1L471.5,683.1L472.0,683.1L472.5,683.0L473.0,683.0L473.5,683.0L474.0,683.0L474.5,683.0L475.0,682.9L475.5,682.9L476.0,682.9L476.5,682.9L477.0,682.9L477.5,682.8L478.0,682.8L478.5,682.8L479.0,682.8L479.5,682.7L480.0,682.7L480.5,682.7L481.0,682.7L481.5,682.6L482.0,682.6L482.5,682.6L483.0,682.5L483.5,682.5L484.0,682.5L484.5,682.5L485.0,682.4L485.5,682.4L486.0,682.4L486.5,682.3L487.0,682.3L487.5,682.3L488.0,682.2L488.5,682.2L489.0,682.2L489.5,682.2L490.0,682.1L490.5,682.1L491.0,682.1L491.5,682.0L492.0,682.0L492.5,682.0L493.0,681.9L493.5,681.9L494.0,681.9L494.5,681.9L495.0,681.8L495.5,681.8L496.0,681.8L496.5,681.7L497.0,681.7L497.5,681.7L498.0,681.7L498.5,681.6L499.0,681.6L499.5,681.6L500.0,681.5L500.5,681.5L501.0,681.5L501.5,681.4L502.0,681.4L502.5,681.4L503.0,681.4L503.5,681.3L504.0,681.3L504.5,681.3L505.0,681.2L505.5,681.2L506.0,681.2L506.5,681.1L507.0,681.1L507.5,681.1L508.0,681.1L508.5,681.0L509.0,681.0L509.5,681.0L510.0,680.9L510.5,680.9L511.0,680.9L511.5,680.8L512.0,680.8L512.5,680.8L513.0,680.7L513.5,680.7L514.0,680.7L514.5,680.6L515.0,680.6L515.5,680.5L516.0,680.5L516.5,680.5L517.0,680.4L517.5,680.4L518.0,680.3L518.5,680.3L519.0,680.3L519.5,680.2L520.0,680.2L520.5,680.2L521.0,680.1L521.5,680.1L522.0,680.0L522.5,680.0L523.0,680.0L523.5,679.9L524.0,679.9L524.5,679.8L525.0,679.8L525.5,679.8L526.0,679.7L526.5,679.7L527.0,679.6L527.5,679.6L528.0,679.6L528.5,679.6L529.0,679.6L529.5,679.6L530.0,679.6L530.5,679.7L531.0,679.7L531.5,679.8L532.0,679.8L532.5,679.9L533.0,679.9L533.5,680.0L534.0,680.0L534.5,680.1L535.0,680.1L535.5,680.2L536.0,680.2L536.5,680.3L537.0,680.3L537.5,680.4L538.0,680.4L538.5,680.5L539.0,680.6L539.5,680.6L540.0,680.7L540.5,680.7L541.0,680.8L541.5,680.8L542.0,680.9L542.5,680.9L543.0,681.0L543.5,681.0L544.0,681.1L544.5,681.1L545.0,681.2L545.5,681.2L546.0,681.3L546.5,681.3L547.0,681.4L547.5,681.4L548.0,681.5L548.5,681.5L549.0,681.6L549.5,681.6L550.0,681.7L550.5,681.7L551.0,681.7" stroke="#d0707a" stroke-width="1.3" fill="none" opacity="0.85"/>
<rect x="122.8" y="635.9" width="450.0" height="66.0" fill="none" stroke="#6e6e6e" stroke-width="1.4"/>
<text x="122.8" y="633.5" font-size="4.9" font-weight="bold" fill="#2e2e2e" textLength="82.6" lengthAdjust="spacingAndGlyphs" xml:space="preserve" >Profile wrt Self: 11.802 µm   (Tilt = 0.100 µm)</text>
<text x="571.5" y="633.5" font-size="4.9" font-weight="bold" fill="#2e2e2e" text-anchor="end" textLength="58" lengthAdjust="spacingAndGlyphs" xml:space="preserve" >Rotation: 0.208°    dZ: -0.012 mm</text>
<text x="119.5" y="637.7" font-size="4.9" font-weight="bold" fill="#2e2e2e" text-anchor="end" textLength="10.5" lengthAdjust="spacingAndGlyphs" xml:space="preserve" >300.00</text>
<text x="119.2" y="669.3" font-size="4.9" font-weight="bold" fill="#2e2e2e" text-anchor="end" textLength="4.6" lengthAdjust="spacingAndGlyphs" xml:space="preserve" >µm</text>
<text x="119.5" y="702.1" font-size="4.9" font-weight="bold" fill="#2e2e2e" text-anchor="end" textLength="12" lengthAdjust="spacingAndGlyphs" xml:space="preserve" >-300.00</text>
<text x="123.2" y="708.2" font-size="4.9" font-weight="bold" fill="#2e2e2e" textLength="12.6" lengthAdjust="spacingAndGlyphs" xml:space="preserve" >-0.2168</text>
<text x="257.0" y="708.2" font-size="4.9" font-weight="bold" fill="#2e2e2e" text-anchor="middle" textLength="18.3" lengthAdjust="spacingAndGlyphs" xml:space="preserve" >(-0.07217)</text>
<text x="347.4" y="708.2" font-size="4.9" font-weight="bold" fill="#2e2e2e" text-anchor="middle" textLength="2.9" lengthAdjust="spacingAndGlyphs" xml:space="preserve" >m</text>
<text x="437.1" y="708.2" font-size="4.9" font-weight="bold" fill="#2e2e2e" text-anchor="middle" textLength="17.0" lengthAdjust="spacingAndGlyphs" xml:space="preserve" >(0.07217)</text>
<text x="572.0" y="708.2" font-size="4.9" font-weight="bold" fill="#2e2e2e" text-anchor="end" textLength="10" lengthAdjust="spacingAndGlyphs" xml:space="preserve" >0.217</text>
<text x="0.0" y="0.0" font-size="4.6" font-weight="bold" fill="#333" text-anchor="middle" textLength="30.8" lengthAdjust="spacingAndGlyphs" xml:space="preserve" transform="translate(575.4,668.9) rotate(90)">(ISO 4287 profile)</text>
<path d="M122.8,728.5H572.8M122.8,735.1H572.8M122.8,741.7H572.8M122.8,748.3H572.8M122.8,761.5H572.8M122.8,768.1H572.8M122.8,774.7H572.8M122.8,781.3H572.8" stroke="#8f8f8f" stroke-width="0.75" stroke-dasharray="1.6 1.75" fill="none"/>
<path d="M139.5,721.9V787.9M160.3,721.9V787.9M181.1,721.9V787.9M201.9,721.9V787.9M222.7,721.9V787.9M243.5,721.9V787.9M264.3,721.9V787.9M285.1,721.9V787.9M305.9,721.9V787.9M326.7,721.9V787.9M347.5,721.9V787.9M368.3,721.9V787.9M389.1,721.9V787.9M409.9,721.9V787.9M430.7,721.9V787.9M451.5,721.9V787.9M472.3,721.9V787.9M493.1,721.9V787.9M513.9,721.9V787.9M534.7,721.9V787.9M555.5,721.9V787.9" stroke="#8f8f8f" stroke-width="0.75" stroke-dasharray="1.6 1.75" fill="none"/>
<line x1="122.8" y1="754.9" x2="572.8" y2="754.9" stroke="#6a6a6a" stroke-width="0.9" stroke-dasharray="5 3 1.2 3"/>
<line x1="272.6" y1="721.9" x2="272.6" y2="787.9" stroke="#4a4a4a" stroke-width="1"/>
<line x1="422.3" y1="721.9" x2="422.3" y2="787.9" stroke="#4a4a4a" stroke-width="1"/>
<path d="M143.5,766.0L143.8,761.2L144.0,756.2L144.2,755.1L144.5,756.9L144.8,759.9L145.0,759.8L145.2,759.6L145.5,759.4L145.8,759.7L146.0,760.4L146.2,761.2L146.5,762.0L146.8,762.7L147.0,759.0L147.2,755.4L147.5,752.5L147.8,751.5L148.0,751.9L148.2,754.2L148.5,756.8L148.8,759.2L149.0,755.8L149.2,752.9L149.5,750.5L149.8,749.1L150.0,747.5L150.2,744.2L150.5,738.2L150.8,737.2L151.0,736.3L151.2,741.3L151.5,745.8L151.8,749.3L152.0,752.3L152.2,751.7L152.5,750.0L152.8,748.2L153.0,746.9L153.2,746.5L153.5,750.7L153.8,758.3L154.0,753.9L154.2,752.1L154.5,757.2L154.8,761.8L155.0,762.3L155.2,758.0L155.5,757.8L155.8,757.7L156.0,760.6L156.2,754.4L156.5,749.0L156.8,746.5L157.0,748.1L157.2,752.3L157.5,752.1L157.8,751.5L158.0,750.2L158.2,750.2L158.5,750.3L158.8,750.2L159.0,750.5L159.2,752.1L159.5,755.6L159.8,763.1L160.0,768.0L160.2,758.4L160.5,746.1L160.8,739.5L161.0,737.0L161.2,736.8L161.5,737.7L161.8,738.8L162.0,739.4L162.2,739.8L162.5,740.1L162.8,742.2L163.0,744.9L163.2,747.2L163.5,748.8L163.8,747.7L164.0,747.0L164.2,746.5L164.5,746.9L164.8,747.6L165.0,747.8L165.2,749.5L165.5,749.6L165.8,749.2L166.0,743.0L166.2,741.3L166.5,739.8L166.8,737.9L167.0,734.1L167.2,736.1L167.5,738.6L167.8,741.2L168.0,744.9L168.2,751.4L168.5,759.2L168.8,754.6L169.0,751.1L169.2,749.8L169.5,753.5L169.8,751.8L170.0,751.6L170.2,753.4L170.5,754.3L170.8,756.7L171.0,754.5L171.2,753.8L171.5,749.4L171.8,749.5L172.0,751.4L172.2,752.2L172.5,752.0L172.8,751.3L173.0,750.9L173.2,750.1L173.5,747.3L173.8,744.1L174.0,746.3L174.2,748.6L174.5,751.4L174.8,756.0L175.0,751.7L175.2,749.7L175.5,750.7L175.8,751.1L176.0,751.7L176.2,754.1L176.5,753.4L176.8,750.6L177.0,749.9L177.2,749.9L177.5,749.1L177.8,747.7L178.0,746.4L178.2,747.4L178.5,749.3L178.8,752.0L179.0,751.0L179.2,750.1L179.5,749.1L179.8,749.4L180.0,749.1L180.2,748.5L180.5,748.4L180.8,749.0L181.0,752.3L181.2,750.2L181.5,748.7L181.8,747.4L182.0,746.4L182.2,746.2L182.5,746.8L182.8,747.4L183.0,747.7L183.2,746.9L183.5,743.2L183.8,738.9L184.0,732.8L184.2,733.6L184.5,735.1L184.8,737.2L185.0,738.0L185.2,740.1L185.5,742.8L185.8,745.9L186.0,743.5L186.2,739.2L186.5,739.3L186.8,746.5L187.0,754.7L187.2,753.4L187.5,749.5L187.8,748.0L188.0,747.4L188.2,747.5L188.5,747.9L188.8,748.1L189.0,748.1L189.2,747.8L189.5,747.1L189.8,746.5L190.0,745.4L190.2,744.5L190.5,743.7L190.8,744.4L191.0,746.0L191.2,746.5L191.5,746.1L191.8,743.2L192.0,740.0L192.2,741.6L192.5,743.1L192.8,742.5L193.0,742.3L193.2,741.3L193.5,740.9L193.8,738.3L194.0,736.4L194.2,735.4L194.5,742.6L194.8,753.0L195.0,747.8L195.2,744.7L195.5,743.8L195.8,743.8L196.0,744.4L196.2,744.8L196.5,744.7L196.8,745.1L197.0,745.3L197.2,746.1L197.5,745.0L197.8,745.9L198.0,746.5L198.2,742.4L198.5,748.0L198.8,750.7L199.0,750.5L199.2,749.9L199.5,748.7L199.8,748.0L200.0,749.2L200.2,748.0L200.5,746.7L200.8,746.4L201.0,747.2L201.2,748.0L201.5,747.8L201.8,746.9L202.0,746.2L202.2,747.7L202.5,750.3L202.8,750.0L203.0,745.5L203.2,741.4L203.5,738.7L203.8,738.2L204.0,739.0L204.2,744.6L204.5,750.4L204.8,752.4L205.0,756.2L205.2,759.7L205.5,758.6L205.8,759.5L206.0,755.5L206.2,753.1L206.5,752.0L206.8,750.4L207.0,748.7L207.2,747.2L207.5,745.9L207.8,746.8L208.0,748.8L208.2,750.8L208.5,745.5L208.8,741.0L209.0,738.4L209.2,738.8L209.5,739.4L209.8,745.5L210.0,755.9L210.2,750.3L210.5,749.0L210.8,757.3L211.0,768.9L211.2,761.9L211.5,750.7L211.8,747.2L212.0,745.0L212.2,745.8L212.5,745.8L212.8,750.6L213.0,758.4L213.2,763.2L213.5,772.5L213.8,766.3L214.0,760.1L214.2,756.6L214.5,752.7L214.8,749.1L215.0,748.0L215.2,748.4L215.5,749.3L215.8,748.0L216.0,746.8L216.2,746.7L216.5,753.1L216.8,762.7L217.0,755.4L217.2,751.4L217.5,753.7L217.8,752.8L218.0,751.9L218.2,751.1L218.5,750.4L218.8,750.5L219.0,751.5L219.2,752.9L219.5,754.3L219.8,755.6L220.0,756.9L220.2,758.8L220.5,758.7L220.8,755.4L221.0,751.3L221.2,747.9L221.5,745.2L221.8,743.0L222.0,742.0L222.2,742.3L222.5,743.7L222.8,745.3L223.0,745.5L223.2,752.1L223.5,761.7L223.8,752.9L224.0,746.3L224.2,746.2L224.5,746.4L224.8,747.8L225.0,752.7L225.2,757.4L225.5,760.1L225.8,757.8L226.0,754.8L226.2,751.5L226.5,749.9L226.8,748.2L227.0,746.8L227.2,744.7L227.5,745.3L227.8,746.1L228.0,745.3L228.2,743.7L228.5,742.5L228.8,741.5L229.0,745.9L229.2,753.3L229.5,760.0L229.8,755.1L230.0,748.9L230.2,746.1L230.5,745.0L230.8,744.7L231.0,745.1L231.2,746.4L231.5,747.8L231.8,748.8L232.0,749.4L232.2,749.0L232.5,749.7L232.8,752.4L233.0,755.4L233.2,753.2L233.5,750.0L233.8,747.8L234.0,746.1L234.2,745.0L234.5,744.7L234.8,745.2L235.0,746.0L235.2,748.9L235.5,752.0L235.8,754.6L236.0,752.0L236.2,749.9L236.5,747.3L236.8,747.2L237.0,747.9L237.2,750.9L237.5,758.5L237.8,750.8L238.0,745.9L238.2,748.0L238.5,748.8L238.8,747.9L239.0,747.5L239.2,747.6L239.5,748.1L239.8,748.4L240.0,748.1L240.2,747.1L240.5,745.6L240.8,744.4L241.0,745.5L241.2,744.3L241.5,746.6L241.8,752.1L242.0,750.5L242.2,750.4L242.5,750.1L242.8,747.0L243.0,734.9L243.2,748.0L243.5,753.3L243.8,751.5L244.0,750.2L244.2,750.3L244.5,750.6L244.8,753.4L245.0,762.2L245.2,768.7L245.5,777.5L245.8,769.8L246.0,763.1L246.2,753.0L246.5,750.5L246.8,752.2L247.0,756.9L247.2,760.4L247.5,761.0L247.8,757.9L248.0,755.9L248.2,757.7L248.5,753.8L248.8,751.2L249.0,749.9L249.2,749.9L249.5,750.4L249.8,751.4L250.0,753.6L250.2,756.5L250.5,759.0L250.8,757.1L251.0,754.5L251.2,752.6L251.5,753.3L251.8,754.5L252.0,755.8L252.2,759.5L252.5,761.2L252.8,761.9L253.0,759.0L253.2,755.4L253.5,753.9L253.8,753.4L254.0,752.8L254.2,751.1L254.5,750.4L254.8,751.6L255.0,753.0L255.2,754.2L255.5,754.7L255.8,755.0L256.0,755.3L256.2,755.8L256.5,756.8L256.8,757.4L257.0,757.6L257.2,756.1L257.5,754.5L257.8,753.0L258.0,752.3L258.2,752.1L258.5,752.5L258.8,753.7L259.0,756.4L259.2,762.0L259.5,767.1L259.8,764.4L260.0,767.2L260.2,772.7L260.5,764.7L260.8,758.1L261.0,759.0L261.2,754.5L261.5,751.8L261.8,751.2L262.0,751.3L262.2,751.7L262.5,752.2L262.8,752.8L263.0,753.5L263.2,754.3L263.5,754.9L263.8,755.0L264.0,754.5L264.2,754.1L264.5,753.0L264.8,751.4L265.0,748.6L265.2,748.6L265.5,749.4L265.8,752.8L266.0,761.4L266.2,772.6L266.5,765.2L266.8,759.9L267.0,760.2L267.2,761.5L267.5,765.9L267.8,768.2L268.0,767.7L268.2,764.0L268.5,760.3L268.8,758.9L269.0,758.5L269.2,758.4L269.5,758.0L269.8,757.2L270.0,756.4L270.2,755.9L270.5,755.5L270.8,755.3L271.0,757.1L271.2,767.3L271.5,764.8L271.8,759.1L272.0,756.9L272.2,758.4L272.5,759.8L272.8,759.2L273.0,759.3L273.2,760.1L273.5,761.3L273.8,761.9L274.0,762.0L274.2,761.5L274.5,760.8L274.8,760.3L275.0,760.0L275.2,760.1L275.5,760.6L275.8,768.4L276.0,776.7L276.2,785.1L276.5,778.5L276.8,771.0L277.0,762.4L277.2,760.3L277.5,758.3L277.8,757.0L278.0,756.7L278.2,756.5L278.5,756.5L278.8,760.7L279.0,768.4L279.2,764.6L279.5,763.6L279.8,763.1L280.0,762.4L280.2,759.2L280.5,763.8L280.8,765.3L281.0,765.3L281.2,764.7L281.5,764.5L281.8,764.9L282.0,765.6L282.2,765.8L282.5,765.5L282.8,767.2L283.0,771.3L283.2,765.3L283.5,762.3L283.8,763.1L284.0,760.3L284.2,759.4L284.5,759.9L284.8,760.6L285.0,761.3L285.2,761.6L285.5,761.2L285.8,760.5L286.0,759.7L286.2,759.3L286.5,759.6L286.8,760.4L287.0,761.3L287.2,762.7L287.5,764.6L287.8,766.0L288.0,763.6L288.2,761.4L288.5,760.5L288.8,761.0L289.0,761.9L289.2,763.5L289.5,765.2L289.8,766.6L290.0,766.4L290.2,765.8L290.5,764.9L290.8,763.9L291.0,763.0L291.2,762.3L291.5,762.0L291.8,762.0L292.0,762.0L292.2,762.5L292.5,763.3L292.8,763.6L293.0,763.8L293.2,762.5L293.5,759.2L293.8,757.5L294.0,757.1L294.2,757.8L294.5,758.8L294.8,759.6L295.0,760.4L295.2,761.2L295.5,761.4L295.8,762.1L296.0,762.7L296.2,760.8L296.5,761.4L296.8,763.0L297.0,761.9L297.2,761.9L297.5,764.3L297.8,766.9L298.0,769.9L298.2,769.6L298.5,771.8L298.8,777.1L299.0,779.8L299.2,776.7L299.5,769.4L299.8,765.5L300.0,762.5L300.2,761.4L300.5,761.4L300.8,762.6L301.0,763.5L301.2,761.9L301.5,760.4L301.8,760.3L302.0,760.7L302.2,761.4L302.5,762.4L302.8,764.2L303.0,767.1L303.2,765.8L303.5,764.7L303.8,762.9L304.0,761.3L304.2,760.7L304.5,761.1L304.8,762.1L305.0,763.0L305.2,763.7L305.5,764.1L305.8,764.2L306.0,764.0L306.2,770.5L306.5,778.6L306.8,785.9L307.0,779.7L307.2,772.5L307.5,765.2L307.8,765.4L308.0,767.6L308.2,770.9L308.5,770.9L308.8,774.4L309.0,778.4L309.2,769.6L309.5,764.1L309.8,768.1L310.0,764.6L310.2,763.1L310.5,763.6L310.8,763.1L311.0,761.7L311.2,760.0L311.5,758.6L311.8,757.9L312.0,758.9L312.2,762.7L312.5,766.8L312.8,763.2L313.0,762.6L313.2,764.5L313.5,769.6L313.8,773.3L314.0,769.8L314.2,766.1L314.5,763.3L314.8,760.8L315.0,759.8L315.2,759.6L315.5,758.1L315.8,756.1L316.0,754.3L316.2,758.1L316.5,761.2L316.8,763.6L317.0,764.0L317.2,764.1L317.5,765.7L317.8,766.8L318.0,767.6L318.2,767.9L318.5,767.2L318.8,766.1L319.0,765.6L319.2,765.5L319.5,765.7L319.8,765.7L320.0,764.8L320.2,765.5L320.5,766.2L320.8,768.8L321.0,767.2L321.2,766.1L321.5,764.5L321.8,765.0L322.0,765.6L322.2,766.1L322.5,766.6L322.8,767.0L323.0,767.1L323.2,766.6L323.5,765.8L323.8,764.8L324.0,763.9L324.2,763.8L324.5,766.7L324.8,770.3L325.0,768.5L325.2,767.0L325.5,767.0L325.8,764.4L326.0,762.5L326.2,762.2L326.5,763.6L326.8,764.5L327.0,764.7L327.2,764.4L327.5,763.6L327.8,758.0L328.0,750.1L328.2,752.4L328.5,752.8L328.8,755.3L329.0,758.2L329.2,760.9L329.5,763.3L329.8,763.8L330.0,763.6L330.2,764.2L330.5,765.8L330.8,767.4L331.0,768.7L331.2,767.0L331.5,765.2L331.8,763.7L332.0,765.9L332.2,769.5L332.5,773.3L332.8,770.8L333.0,766.6L333.2,763.1L333.5,762.7L333.8,761.1L334.0,759.6L334.2,760.2L334.5,761.9L334.8,761.3L335.0,760.8L335.2,760.5L335.5,759.5L335.8,758.2L336.0,758.3L336.2,758.6L336.5,758.6L336.8,758.1L337.0,758.2L337.2,763.8L337.5,769.8L337.8,775.2L338.0,771.2L338.2,767.3L338.5,766.3L338.8,769.8L339.0,763.3L339.2,758.3L339.5,757.6L339.8,755.9L340.0,751.8L340.2,752.9L340.5,754.1L340.8,753.8L341.0,754.2L341.2,755.3L341.5,757.3L341.8,759.9L342.0,762.1L342.2,763.7L342.5,762.8L342.8,761.8L343.0,760.7L343.2,759.5L343.5,757.6L343.8,757.6L344.0,757.0L344.2,757.5L344.5,759.1L344.8,761.2L345.0,759.4L345.2,757.5L345.5,757.4L345.8,759.2L346.0,757.8L346.2,757.5L346.5,761.0L346.8,759.2L347.0,758.1L347.2,757.2L347.5,757.4L347.8,758.4L348.0,755.5L348.2,754.0L348.5,754.7L348.8,755.5L349.0,757.9L349.2,761.4L349.5,765.1L349.8,769.9L350.0,765.8L350.2,761.9L350.5,756.3L350.8,754.4L351.0,755.1L351.2,757.5L351.5,759.2L351.8,760.0L352.0,756.8L352.2,755.7L352.5,755.8L352.8,761.2L353.0,756.7L353.2,756.4L353.5,757.3L353.8,757.7L354.0,761.0L354.2,755.7L354.5,754.9L354.8,760.2L355.0,754.4L355.2,753.5L355.5,753.3L355.8,752.8L356.0,752.8L356.2,753.3L356.5,754.2L356.8,755.3L357.0,756.0L357.2,756.3L357.5,756.0L357.8,755.2L358.0,755.2L358.2,756.9L358.5,764.4L358.8,772.0L359.0,763.6L359.2,755.5L359.5,754.5L359.8,756.9L360.0,759.1L360.2,756.8L360.5,754.6L360.8,754.8L361.0,755.8L361.2,755.5L361.5,754.5L361.8,756.3L362.0,757.4L362.2,756.7L362.5,755.5L362.8,757.3L363.0,759.6L363.2,762.4L363.5,758.3L363.8,757.8L364.0,756.2L364.2,757.4L364.5,761.9L364.8,761.3L365.0,757.0L365.2,754.7L365.5,754.0L365.8,753.9L366.0,760.4L366.2,766.9L366.5,762.8L366.8,758.5L367.0,759.8L367.2,760.6L367.5,758.8L367.8,757.3L368.0,757.4L368.2,755.7L368.5,754.5L368.8,753.7L369.0,755.5L369.2,760.5L369.5,765.2L369.8,768.9L370.0,766.5L370.2,763.5L370.5,771.3L370.8,782.7L371.0,783.2L371.2,771.9L371.5,766.9L371.8,763.1L372.0,762.8L372.2,761.7L372.5,760.5L372.8,760.5L373.0,759.8L373.2,758.9L373.5,758.0L373.8,758.3L374.0,760.5L374.2,766.8L374.5,774.8L374.8,779.4L375.0,771.4L375.2,763.4L375.5,760.1L375.8,763.4L376.0,766.9L376.2,765.5L376.5,764.6L376.8,766.0L377.0,765.3L377.2,766.0L377.5,766.7L377.8,768.0L378.0,764.1L378.2,759.9L378.5,756.0L378.8,754.0L379.0,755.1L379.2,755.9L379.5,751.7L379.8,743.6L380.0,747.8L380.2,749.0L380.5,750.2L380.8,755.6L381.0,756.8L381.2,755.8L381.5,753.2L381.8,757.2L382.0,759.4L382.2,760.0L382.5,757.6L382.8,756.7L383.0,756.4L383.2,756.9L383.5,757.1L383.8,755.6L384.0,753.9L384.2,751.5L384.5,751.4L384.8,751.5L385.0,752.8L385.2,755.1L385.5,755.1L385.8,756.1L386.0,759.0L386.2,759.4L386.5,760.0L386.8,759.9L387.0,760.3L387.2,760.7L387.5,761.5L387.8,761.6L388.0,763.2L388.2,763.9L388.5,764.9L388.8,762.6L389.0,762.9L389.2,765.4L389.5,768.9L389.8,770.8L390.0,768.7L390.2,762.6L390.5,754.2L390.8,757.1L391.0,759.2L391.2,757.2L391.5,755.6L391.8,754.1L392.0,752.6L392.2,751.2L392.5,752.1L392.8,757.5L393.0,752.9L393.2,751.3L393.5,752.6L393.8,755.2L394.0,758.2L394.2,760.9L394.5,759.9L394.8,758.1L395.0,755.8L395.2,754.2L395.5,753.8L395.8,755.0L396.0,753.5L396.2,753.4L396.5,753.4L396.8,752.7L397.0,752.1L397.2,752.4L397.5,758.4L397.8,768.6L398.0,778.1L398.2,773.4L398.5,762.6L398.8,753.9L399.0,750.6L399.2,750.1L399.5,751.6L399.8,753.8L400.0,752.5L400.2,752.7L400.5,753.5L400.8,754.4L401.0,755.2L401.2,755.2L401.5,752.8L401.8,749.3L402.0,746.0L402.2,744.5L402.5,744.9L402.8,745.2L403.0,746.4L403.2,743.8L403.5,740.2L403.8,735.8L404.0,739.7L404.2,743.9L404.5,748.3L404.8,749.0L405.0,749.9L405.2,750.6L405.5,750.8L405.8,750.6L406.0,750.1L406.2,749.6L406.5,749.5L406.8,750.0L407.0,751.0L407.2,750.1L407.5,747.8L407.8,749.9L408.0,750.5L408.2,751.6L408.5,756.0L408.8,748.8L409.0,747.3L409.2,752.9L409.5,758.9L409.8,763.2L410.0,767.6L410.2,756.8L410.5,747.9L410.8,746.0L411.0,744.7L411.2,744.9L411.5,748.6L411.8,751.4L412.0,745.8L412.2,743.2L412.5,746.7L412.8,749.7L413.0,751.4L413.2,751.9L413.5,751.5L413.8,751.0L414.0,750.0L414.2,748.5L414.5,751.9L414.8,754.2L415.0,755.4L415.2,755.9L415.5,755.6L415.8,761.8L416.0,758.1L416.2,758.6L416.5,754.3L416.8,750.2L417.0,747.7L417.2,746.5L417.5,751.6L417.8,745.6L418.0,748.1L418.2,749.5L418.5,749.5L418.8,746.7L419.0,743.6L419.2,742.4L419.5,742.7L419.8,743.7L420.0,738.3L420.2,737.5L420.5,742.9L420.8,746.6L421.0,750.2L421.2,754.5L421.5,757.8L421.8,756.7L422.0,757.4L422.2,764.1L422.5,765.0L422.8,754.7L423.0,748.4L423.2,747.3L423.5,746.0L423.8,756.4L424.0,761.9L424.2,761.5L424.5,755.8L424.8,749.5L425.0,747.2L425.2,746.6L425.5,747.1L425.8,748.3L426.0,750.5L426.2,752.7L426.5,754.4L426.8,755.9L427.0,760.5L427.2,764.1L427.5,771.0L427.8,768.1L428.0,764.8L428.2,754.9L428.5,750.0L428.8,746.1L429.0,745.1L429.2,744.5L429.5,743.9L429.8,744.1L430.0,745.7L430.2,747.4L430.5,745.8L430.8,744.5L431.0,744.3L431.2,742.2L431.5,739.9L431.8,737.6L432.0,741.4L432.2,745.3L432.5,753.3L432.8,775.9L433.0,754.2L433.2,749.4L433.5,747.6L433.8,745.1L434.0,742.4L434.2,741.5L434.5,741.8L434.8,740.8L435.0,741.5L435.2,744.8L435.5,748.7L435.8,751.8L436.0,753.3L436.2,752.7L436.5,750.2L436.8,750.7L437.0,752.3L437.2,746.9L437.5,744.8L437.8,746.1L438.0,744.7L438.2,743.0L438.5,741.7L438.8,740.9L439.0,740.1L439.2,739.2L439.5,737.9L439.8,737.0L440.0,737.8L440.2,739.5L440.5,742.6L440.8,752.1L441.0,762.9L441.2,772.8L441.5,767.3L441.8,758.5L442.0,747.2L442.2,741.2L442.5,742.2L442.8,743.1L443.0,743.0L443.2,742.3L443.5,743.3L443.8,745.7L444.0,748.6L444.2,753.8L444.5,761.1L444.8,766.9L445.0,757.0L445.2,747.2L445.5,746.1L445.8,746.8L446.0,747.6L446.2,748.6L446.5,751.2L446.8,754.2L447.0,753.1L447.2,751.6L447.5,751.7L447.8,751.0L448.0,749.6L448.2,747.0L448.5,745.2L448.8,744.4L449.0,745.6L449.2,748.0L449.5,750.4L449.8,750.9L450.0,750.8L450.2,750.9L450.5,751.1L450.8,751.6L451.0,752.2L451.2,752.9L451.5,754.4L451.8,755.3L452.0,752.8L452.2,749.8L452.5,751.3L452.8,756.5L453.0,753.1L453.2,751.2L453.5,751.3L453.8,752.0L454.0,751.7L454.2,750.0L454.5,747.5L454.8,745.0L455.0,743.5L455.2,743.3L455.5,744.3L455.8,745.8L456.0,747.9L456.2,748.9L456.5,747.8L456.8,746.6L457.0,746.5L457.2,747.0L457.5,747.4L457.8,747.0L458.0,746.0L458.2,743.6L458.5,741.8L458.8,741.2L459.0,741.8L459.2,743.3L459.5,744.6L459.8,746.6L460.0,748.3L460.2,747.5L460.5,746.6L460.8,752.2L461.0,748.0L461.2,748.6L461.5,745.4L461.8,741.7L462.0,742.4L462.2,741.9L462.5,743.0L462.8,746.5L463.0,751.5L463.2,752.4L463.5,752.9L463.8,755.7L464.0,757.9L464.2,758.4L464.5,756.1L464.8,754.2L465.0,753.6L465.2,754.5L465.5,754.9L465.8,754.3L466.0,753.0L466.2,751.6L466.5,749.2L466.8,746.4L467.0,748.1L467.2,749.2L467.5,749.3L467.8,749.4L468.0,746.7L468.2,742.9L468.5,746.1L468.8,749.3L469.0,750.7L469.2,747.3L469.5,745.9L469.8,745.7L470.0,745.4L470.2,746.0L470.5,747.1L470.8,748.7L471.0,750.1L471.2,751.1L471.5,751.8L471.8,753.0L472.0,753.2L472.2,751.8L472.5,750.2L472.8,748.9L473.0,748.2L473.2,747.5L473.5,746.8L473.8,746.2L474.0,745.7L474.2,745.6L474.5,746.2L474.8,747.7L475.0,749.8L475.2,746.7L475.5,741.9L475.8,741.1L476.0,746.1L476.2,748.5L476.5,751.2L476.8,749.3L477.0,749.1L477.2,750.1L477.5,752.5L477.8,755.1L478.0,759.2L478.2,763.4L478.5,767.0L478.8,766.5L479.0,764.7L479.2,762.1L479.5,760.5L479.8,759.5L480.0,759.2L480.2,759.3L480.5,758.7L480.8,757.7L481.0,755.2L481.2,752.0L481.5,748.3L481.8,744.8L482.0,742.4L482.2,741.7L482.5,739.9L482.8,737.6L483.0,742.4L483.2,751.0L483.5,751.7L483.8,751.4L484.0,751.7L484.2,753.0L484.5,754.3L484.8,751.6L485.0,750.6L485.2,751.8L485.5,753.5L485.8,755.5L486.0,757.7L486.2,759.5L486.5,760.7L486.8,761.0L487.0,760.0L487.2,759.1L487.5,757.6L487.8,756.3L488.0,753.7L488.2,752.2L488.5,751.6L488.8,752.6L489.0,753.3L489.2,760.7L489.5,773.6L489.8,786.9L490.0,778.5L490.2,772.9L490.5,771.6L490.8,767.3L491.0,760.9L491.2,757.2L491.5,766.7L491.8,757.9L492.0,749.7L492.2,738.4L492.5,750.9L492.8,756.0L493.0,755.1L493.2,753.8L493.5,752.8L493.8,752.8L494.0,754.0L494.2,756.0L494.5,758.7L494.8,760.7L495.0,760.1L495.2,758.0L495.5,755.2L495.8,751.6L496.0,748.1L496.2,746.8L496.5,748.8L496.8,752.3L497.0,751.2L497.2,750.9L497.5,752.3L497.8,755.3L498.0,762.4L498.2,759.7L498.5,762.2L498.8,765.8L499.0,767.9L499.2,772.0L499.5,775.7L499.8,778.9L500.0,769.5L500.2,763.6L500.5,752.2L500.8,754.5L501.0,751.6L501.2,752.5L501.5,756.6L501.8,756.7L502.0,755.3L502.2,753.5L502.5,752.5L502.8,752.8L503.0,753.9L503.2,755.4L503.5,756.8L503.8,756.6L504.0,754.9L504.2,754.2L504.5,752.6L504.8,750.6L505.0,749.3L505.2,748.8L505.5,748.5L505.8,748.0L506.0,747.1L506.2,746.1L506.5,745.5L506.8,745.5L507.0,746.2L507.2,746.9L507.5,750.5L507.8,761.1L508.0,750.5L508.2,747.1L508.5,746.5L508.8,747.8L509.0,749.8L509.2,747.4L509.5,747.0L509.8,752.5L510.0,759.3L510.2,763.3L510.5,771.3L510.8,772.1L511.0,772.5L511.2,763.6L511.5,757.9L511.8,755.9L512.0,774.4L512.2,761.1L512.5,763.2L512.8,758.7L513.0,754.2L513.2,751.2L513.5,749.7L513.8,748.5L514.0,747.0L514.2,749.5L514.5,753.7L514.8,748.1L515.0,743.6L515.2,744.8L515.5,745.6L515.8,746.8L516.0,748.6L516.2,751.1L516.5,754.4L516.8,757.4L517.0,759.8L517.2,759.9L517.5,759.4L517.8,758.2L518.0,756.9L518.2,755.2L518.5,753.2L518.8,752.9L519.0,754.2L519.2,756.0L519.5,759.0L519.8,758.8L520.0,759.3L520.2,760.4L520.5,759.6L520.8,759.1L521.0,756.7L521.2,753.9L521.5,752.5L521.8,751.2L522.0,749.8L522.2,748.7L522.5,747.8L522.8,747.3L523.0,747.2L523.2,747.9L523.5,752.9L523.8,759.1L524.0,755.9L524.2,752.0L524.5,751.2L524.8,749.9L525.0,750.5L525.2,750.6L525.5,750.3L525.8,750.7L526.0,752.0L526.2,753.3L526.5,758.6L526.8,764.2L527.0,756.0L527.2,753.7L527.5,753.5L527.8,751.7L528.0,748.2L528.2,745.0L528.5,741.9L528.8,737.3L529.0,733.5L529.2,737.0L529.5,742.6L529.8,749.0L530.0,753.9L530.2,754.8L530.5,754.9L530.8,753.8L531.0,752.5L531.2,751.7L531.5,751.7L531.8,753.4L532.0,756.1L532.2,758.3L532.5,756.1L532.8,754.0L533.0,753.6L533.2,754.6L533.5,754.7L533.8,754.7L534.0,757.4L534.2,760.4L534.5,768.4L534.8,780.9L535.0,766.9L535.2,764.4L535.5,768.4L535.8,772.3L536.0,765.2L536.2,759.8L536.5,757.0L536.8,758.7L537.0,762.4L537.2,763.5L537.5,764.5L537.8,764.0L538.0,764.2L538.2,763.2L538.5,761.6L538.8,760.4L539.0,760.2L539.2,761.3L539.5,763.9L539.8,763.1L540.0,762.4L540.2,759.9L540.5,755.2L540.8,750.4L541.0,753.8L541.2,758.4L541.5,756.0L541.8,752.6L542.0,751.3L542.2,755.1L542.5,758.4L542.8,763.2L543.0,766.1L543.2,768.9L543.5,773.5L543.8,779.7L544.0,775.2L544.2,770.7L544.5,776.3L544.8,766.0L545.0,765.7L545.2,762.0L545.5,758.1L545.8,756.2L546.0,758.3L546.2,759.3L546.5,758.2L546.8,756.9L547.0,755.8L547.2,755.1L547.5,754.8L547.8,755.1L548.0,756.1L548.2,757.8L548.5,760.7L548.8,763.4L549.0,765.4L549.2,763.9L549.5,761.8L549.8,759.5L550.0,759.3L550.2,761.3L550.5,764.0L550.8,766.1L551.0,766.5L551.2,765.4" stroke="#2b2d72" stroke-width="1.05" fill="none"/>
<path d="M143.5,757.7L144.0,757.3L144.5,756.9L145.0,756.4L145.5,755.9L146.0,755.2L146.5,754.6L147.0,754.0L147.5,753.4L148.0,752.7L148.5,752.2L149.0,751.6L149.5,751.2L150.0,750.7L150.5,750.4L151.0,750.1L151.5,749.9L152.0,749.7L152.5,749.5L153.0,749.4L153.5,749.3L154.0,749.2L154.5,749.1L155.0,749.0L155.5,748.9L156.0,748.7L156.5,748.6L157.0,748.5L157.5,748.4L158.0,748.3L158.5,748.2L159.0,748.1L159.5,748.0L160.0,747.9L160.5,747.8L161.0,747.8L161.5,747.7L162.0,747.7L162.5,747.6L163.0,747.6L163.5,747.5L164.0,747.5L164.5,747.5L165.0,747.4L165.5,747.4L166.0,747.4L166.5,747.3L167.0,747.3L167.5,747.2L168.0,747.2L168.5,747.2L169.0,747.1L169.5,747.1L170.0,747.1L170.5,747.0L171.0,747.0L171.5,746.9L172.0,746.9L172.5,746.9L173.0,746.8L173.5,746.8L174.0,746.8L174.5,746.7L175.0,746.7L175.5,746.7L176.0,746.6L176.5,746.6L177.0,746.5L177.5,746.5L178.0,746.5L178.5,746.4L179.0,746.4L179.5,746.4L180.0,746.3L180.5,746.3L181.0,746.2L181.5,746.2L182.0,746.2L182.5,746.1L183.0,746.1L183.5,746.1L184.0,746.0L184.5,746.0L185.0,745.9L185.5,745.9L186.0,745.9L186.5,745.8L187.0,745.8L187.5,745.8L188.0,745.8L188.5,745.7L189.0,745.7L189.5,745.7L190.0,745.7L190.5,745.6L191.0,745.6L191.5,745.6L192.0,745.6L192.5,745.6L193.0,745.5L193.5,745.5L194.0,745.5L194.5,745.5L195.0,745.5L195.5,745.4L196.0,745.4L196.5,745.4L197.0,745.4L197.5,745.4L198.0,745.3L198.5,745.3L199.0,745.3L199.5,745.3L200.0,745.3L200.5,745.2L201.0,745.2L201.5,745.2L202.0,745.2L202.5,745.2L203.0,745.2L203.5,745.2L204.0,745.3L204.5,745.3L205.0,745.4L205.5,745.5L206.0,745.6L206.5,745.7L207.0,745.8L207.5,745.9L208.0,746.0L208.5,746.1L209.0,746.2L209.5,746.3L210.0,746.4L210.5,746.5L211.0,746.6L211.5,746.7L212.0,746.8L212.5,746.9L213.0,747.0L213.5,747.1L214.0,747.2L214.5,747.3L215.0,747.4L215.5,747.5L216.0,747.6L216.5,747.6L217.0,747.7L217.5,747.8L218.0,747.9L218.5,748.0L219.0,748.1L219.5,748.2L220.0,748.3L220.5,748.3L221.0,748.3L221.5,748.4L222.0,748.4L222.5,748.4L223.0,748.4L223.5,748.4L224.0,748.4L224.5,748.4L225.0,748.4L225.5,748.4L226.0,748.4L226.5,748.4L227.0,748.4L227.5,748.4L228.0,748.4L228.5,748.4L229.0,748.4L229.5,748.4L230.0,748.4L230.5,748.4L231.0,748.4L231.5,748.4L232.0,748.4L232.5,748.4L233.0,748.4L233.5,748.4L234.0,748.4L234.5,748.4L235.0,748.4L235.5,748.4L236.0,748.4L236.5,748.5L237.0,748.5L237.5,748.6L238.0,748.6L238.5,748.7L239.0,748.8L239.5,748.9L240.0,749.0L240.5,749.1L241.0,749.2L241.5,749.3L242.0,749.4L242.5,749.5L243.0,749.6L243.5,749.7L244.0,749.8L244.5,749.9L245.0,750.0L245.5,750.1L246.0,750.2L246.5,750.3L247.0,750.4L247.5,750.5L248.0,750.6L248.5,750.7L249.0,750.8L249.5,750.9L250.0,751.0L250.5,751.1L251.0,751.3L251.5,751.4L252.0,751.5L252.5,751.6L253.0,751.7L253.5,751.9L254.0,752.0L254.5,752.2L255.0,752.3L255.5,752.5L256.0,752.7L256.5,752.9L257.0,753.1L257.5,753.3L258.0,753.5L258.5,753.7L259.0,753.9L259.5,754.1L260.0,754.3L260.5,754.5L261.0,754.7L261.5,754.9L262.0,755.1L262.5,755.3L263.0,755.5L263.5,755.7L264.0,755.9L264.5,756.1L265.0,756.3L265.5,756.5L266.0,756.7L266.5,756.9L267.0,757.1L267.5,757.3L268.0,757.5L268.5,757.7L269.0,757.9L269.5,758.1L270.0,758.2L270.5,758.4L271.0,758.5L271.5,758.7L272.0,758.8L272.5,758.9L273.0,759.0L273.5,759.1L274.0,759.2L274.5,759.3L275.0,759.4L275.5,759.5L276.0,759.6L276.5,759.7L277.0,759.8L277.5,759.9L278.0,760.0L278.5,760.1L279.0,760.2L279.5,760.3L280.0,760.4L280.5,760.5L281.0,760.6L281.5,760.7L282.0,760.8L282.5,760.9L283.0,761.0L283.5,761.1L284.0,761.2L284.5,761.3L285.0,761.4L285.5,761.5L286.0,761.6L286.5,761.6L287.0,761.7L287.5,761.8L288.0,761.9L288.5,761.9L289.0,762.0L289.5,762.0L290.0,762.1L290.5,762.1L291.0,762.2L291.5,762.2L292.0,762.3L292.5,762.3L293.0,762.4L293.5,762.4L294.0,762.5L294.5,762.5L295.0,762.6L295.5,762.6L296.0,762.7L296.5,762.7L297.0,762.8L297.5,762.8L298.0,762.9L298.5,763.0L299.0,763.0L299.5,763.1L300.0,763.1L300.5,763.2L301.0,763.2L301.5,763.3L302.0,763.3L302.5,763.3L303.0,763.4L303.5,763.4L304.0,763.4L304.5,763.5L305.0,763.5L305.5,763.5L306.0,763.5L306.5,763.5L307.0,763.5L307.5,763.5L308.0,763.5L308.5,763.5L309.0,763.5L309.5,763.5L310.0,763.5L310.5,763.5L311.0,763.5L311.5,763.5L312.0,763.5L312.5,763.5L313.0,763.5L313.5,763.5L314.0,763.5L314.5,763.5L315.0,763.5L315.5,763.5L316.0,763.5L316.5,763.5L317.0,763.5L317.5,763.5L318.0,763.5L318.5,763.5L319.0,763.5L319.5,763.5L320.0,763.5L320.5,763.4L321.0,763.4L321.5,763.4L322.0,763.3L322.5,763.3L323.0,763.3L323.5,763.2L324.0,763.2L324.5,763.1L325.0,763.1L325.5,763.0L326.0,763.0L326.5,762.9L327.0,762.8L327.5,762.8L328.0,762.7L328.5,762.7L329.0,762.6L329.5,762.6L330.0,762.5L330.5,762.5L331.0,762.4L331.5,762.4L332.0,762.3L332.5,762.3L333.0,762.2L333.5,762.2L334.0,762.1L334.5,762.1L335.0,762.0L335.5,762.0L336.0,761.9L336.5,761.8L337.0,761.7L337.5,761.6L338.0,761.4L338.5,761.2L339.0,761.1L339.5,760.9L340.0,760.6L340.5,760.4L341.0,760.2L341.5,760.0L342.0,759.8L342.5,759.6L343.0,759.4L343.5,759.1L344.0,758.9L344.5,758.7L345.0,758.5L345.5,758.2L346.0,758.0L346.5,757.7L347.0,757.5L347.5,757.2L348.0,757.0L348.5,756.7L349.0,756.5L349.5,756.2L350.0,755.9L350.5,755.7L351.0,755.4L351.5,755.2L352.0,754.9L352.5,754.7L353.0,754.4L353.5,754.2L354.0,754.1L354.5,753.9L355.0,753.9L355.5,753.9L356.0,753.9L356.5,754.0L357.0,754.1L357.5,754.2L358.0,754.4L358.5,754.6L359.0,754.7L359.5,754.9L360.0,755.1L360.5,755.3L361.0,755.4L361.5,755.6L362.0,755.8L362.5,755.9L363.0,756.1L363.5,756.3L364.0,756.4L364.5,756.6L365.0,756.8L365.5,757.0L366.0,757.1L366.5,757.3L367.0,757.5L367.5,757.7L368.0,757.9L368.5,758.1L369.0,758.3L369.5,758.5L370.0,758.6L370.5,758.8L371.0,759.0L371.5,759.2L372.0,759.4L372.5,759.6L373.0,759.8L373.5,760.0L374.0,760.1L374.5,760.3L375.0,760.5L375.5,760.7L376.0,760.9L376.5,761.1L377.0,761.2L377.5,761.4L378.0,761.4L378.5,761.5L379.0,761.5L379.5,761.5L380.0,761.5L380.5,761.4L381.0,761.4L381.5,761.3L382.0,761.2L382.5,761.1L383.0,761.0L383.5,760.9L384.0,760.9L384.5,760.8L385.0,760.7L385.5,760.6L386.0,760.5L386.5,760.4L387.0,760.3L387.5,760.2L388.0,760.0L388.5,759.7L389.0,759.5L389.5,759.2L390.0,758.8L390.5,758.4L391.0,758.0L391.5,757.6L392.0,757.2L392.5,756.8L393.0,756.4L393.5,755.9L394.0,755.5L394.5,755.1L395.0,754.7L395.5,754.3L396.0,753.9L396.5,753.5L397.0,753.1L397.5,752.7L398.0,752.4L398.5,752.1L399.0,751.9L399.5,751.6L400.0,751.5L400.5,751.3L401.0,751.2L401.5,751.0L402.0,750.9L402.5,750.8L403.0,750.7L403.5,750.5L404.0,750.4L404.5,750.3L405.0,750.2L405.5,750.0L406.0,749.9L406.5,749.8L407.0,749.6L407.5,749.5L408.0,749.4L408.5,749.3L409.0,749.1L409.5,749.0L410.0,748.9L410.5,748.8L411.0,748.7L411.5,748.6L412.0,748.5L412.5,748.4L413.0,748.4L413.5,748.4L414.0,748.3L414.5,748.3L415.0,748.3L415.5,748.3L416.0,748.3L416.5,748.2L417.0,748.2L417.5,748.2L418.0,748.2L418.5,748.2L419.0,748.1L419.5,748.1L420.0,748.1L420.5,748.1L421.0,748.1L421.5,748.1L422.0,748.0L422.5,748.0L423.0,748.0L423.5,748.0L424.0,748.0L424.5,747.9L425.0,747.9L425.5,747.9L426.0,747.9L426.5,747.9L427.0,747.9L427.5,747.8L428.0,747.8L428.5,747.8L429.0,747.8L429.5,747.7L430.0,747.7L430.5,747.7L431.0,747.7L431.5,747.6L432.0,747.6L432.5,747.6L433.0,747.5L433.5,747.5L434.0,747.5L434.5,747.4L435.0,747.4L435.5,747.4L436.0,747.4L436.5,747.3L437.0,747.3L437.5,747.3L438.0,747.2L438.5,747.2L439.0,747.2L439.5,747.1L440.0,747.1L440.5,747.1L441.0,747.1L441.5,747.0L442.0,747.0L442.5,747.0L443.0,746.9L443.5,746.9L444.0,746.9L444.5,746.9L445.0,746.9L445.5,746.9L446.0,746.9L446.5,746.9L447.0,747.0L447.5,747.0L448.0,747.1L448.5,747.1L449.0,747.2L449.5,747.2L450.0,747.3L450.5,747.3L451.0,747.3L451.5,747.4L452.0,747.4L452.5,747.5L453.0,747.5L453.5,747.6L454.0,747.6L454.5,747.7L455.0,747.7L455.5,747.8L456.0,747.8L456.5,747.9L457.0,747.9L457.5,748.0L458.0,748.0L458.5,748.1L459.0,748.1L459.5,748.2L460.0,748.2L460.5,748.3L461.0,748.3L461.5,748.4L462.0,748.5L462.5,748.5L463.0,748.6L463.5,748.7L464.0,748.8L464.5,748.9L465.0,749.0L465.5,749.1L466.0,749.2L466.5,749.3L467.0,749.4L467.5,749.5L468.0,749.6L468.5,749.7L469.0,749.8L469.5,749.9L470.0,750.0L470.5,750.1L471.0,750.2L471.5,750.3L472.0,750.4L472.5,750.5L473.0,750.6L473.5,750.7L474.0,750.8L474.5,750.9L475.0,751.0L475.5,751.1L476.0,751.3L476.5,751.4L477.0,751.5L477.5,751.6L478.0,751.7L478.5,751.8L479.0,751.9L479.5,752.0L480.0,752.1L480.5,752.2L481.0,752.4L481.5,752.5L482.0,752.6L482.5,752.7L483.0,752.9L483.5,753.0L484.0,753.1L484.5,753.2L485.0,753.4L485.5,753.5L486.0,753.6L486.5,753.7L487.0,753.8L487.5,754.0L488.0,754.1L488.5,754.2L489.0,754.3L489.5,754.5L490.0,754.6L490.5,754.7L491.0,754.7L491.5,754.8L492.0,754.8L492.5,754.7L493.0,754.6L493.5,754.5L494.0,754.4L494.5,754.2L495.0,754.0L495.5,753.8L496.0,753.6L496.5,753.5L497.0,753.3L497.5,753.1L498.0,752.9L498.5,752.7L499.0,752.5L499.5,752.3L500.0,752.2L500.5,752.0L501.0,751.8L501.5,751.6L502.0,751.4L502.5,751.2L503.0,751.0L503.5,750.8L504.0,750.7L504.5,750.5L505.0,750.4L505.5,750.2L506.0,750.1L506.5,750.0L507.0,749.9L507.5,749.8L508.0,749.8L508.5,749.7L509.0,749.7L509.5,749.6L510.0,749.5L510.5,749.5L511.0,749.4L511.5,749.3L512.0,749.3L512.5,749.2L513.0,749.1L513.5,749.1L514.0,749.0L514.5,749.0L515.0,748.9L515.5,748.8L516.0,748.8L516.5,748.7L517.0,748.6L517.5,748.6L518.0,748.6L518.5,748.6L519.0,748.7L519.5,748.8L520.0,748.9L520.5,749.0L521.0,749.2L521.5,749.4L522.0,749.6L522.5,749.8L523.0,749.9L523.5,750.1L524.0,750.3L524.5,750.5L525.0,750.7L525.5,750.9L526.0,751.1L526.5,751.3L527.0,751.4L527.5,751.6L528.0,751.8L528.5,752.0L529.0,752.2L529.5,752.4L530.0,752.6L530.5,752.8L531.0,753.0L531.5,753.2L532.0,753.4L532.5,753.6L533.0,753.8L533.5,754.1L534.0,754.3L534.5,754.5L535.0,754.8L535.5,755.0L536.0,755.3L536.5,755.5L537.0,755.8L537.5,756.0L538.0,756.3L538.5,756.5L539.0,756.8L539.5,757.1L540.0,757.3L540.5,757.5L541.0,757.8L541.5,758.0L542.0,758.3L542.5,758.5L543.0,758.8L543.5,759.0L544.0,759.3L544.5,759.4L545.0,759.6L545.5,759.6L546.0,759.7L546.5,759.7L547.0,759.6L547.5,759.5L548.0,759.4L548.5,759.2L549.0,759.1L549.5,759.0L550.0,758.8L550.5,758.7L551.0,758.7" stroke="#d0707a" stroke-width="1.4" fill="none" opacity="0.85"/>
<rect x="122.8" y="721.9" width="450.0" height="66.0" fill="none" stroke="#6e6e6e" stroke-width="1.4"/>
<text x="122.8" y="719.5" font-size="4.9" font-weight="bold" fill="#2e2e2e" textLength="51.8" lengthAdjust="spacingAndGlyphs" xml:space="preserve" >Form Suppression: 0.000 mm</text>
<text x="571.5" y="719.5" font-size="4.9" font-weight="bold" fill="#2e2e2e" text-anchor="end" textLength="70" lengthAdjust="spacingAndGlyphs" xml:space="preserve" >Waviness/Roughness: SGauss: 0.021 in</text>
<text x="119.5" y="723.7" font-size="4.9" font-weight="bold" fill="#2e2e2e" text-anchor="end" textLength="10.5" lengthAdjust="spacingAndGlyphs" xml:space="preserve" >100.00</text>
<text x="119.2" y="755.3" font-size="4.9" font-weight="bold" fill="#2e2e2e" text-anchor="end" textLength="4.6" lengthAdjust="spacingAndGlyphs" xml:space="preserve" >µm</text>
<text x="119.5" y="788.1" font-size="4.9" font-weight="bold" fill="#2e2e2e" text-anchor="end" textLength="12" lengthAdjust="spacingAndGlyphs" xml:space="preserve" >-100.00</text>
<text x="123.2" y="794.2" font-size="4.9" font-weight="bold" fill="#2e2e2e" textLength="12.6" lengthAdjust="spacingAndGlyphs" xml:space="preserve" >-0.2168</text>
<text x="257.0" y="794.2" font-size="4.9" font-weight="bold" fill="#2e2e2e" text-anchor="middle" textLength="18.3" lengthAdjust="spacingAndGlyphs" xml:space="preserve" >(-0.07217)</text>
<text x="347.4" y="794.2" font-size="4.9" font-weight="bold" fill="#2e2e2e" text-anchor="middle" textLength="2.9" lengthAdjust="spacingAndGlyphs" xml:space="preserve" >m</text>
<text x="437.1" y="794.2" font-size="4.9" font-weight="bold" fill="#2e2e2e" text-anchor="middle" textLength="17.0" lengthAdjust="spacingAndGlyphs" xml:space="preserve" >(0.07217)</text>
<text x="572.0" y="794.2" font-size="4.9" font-weight="bold" fill="#2e2e2e" text-anchor="end" textLength="10" lengthAdjust="spacingAndGlyphs" xml:space="preserve" >0.217</text>
<text x="0.0" y="0.0" font-size="4.6" font-weight="bold" fill="#333" text-anchor="middle" textLength="30.8" lengthAdjust="spacingAndGlyphs" xml:space="preserve" transform="translate(575.4,754.9) rotate(90)">(ISO 4287 profile)</text>
<text x="27.90" y="229.2" font-size="18.7" font-weight="bold" fill="#111" stroke="#111" stroke-width="0.45" textLength="69.36" lengthAdjust="spacingAndGlyphs" >Zooming</text>
<text x="55.30" y="253.6" font-size="18.7" font-weight="bold" fill="#111" stroke="#111" stroke-width="0.45" textLength="15.73" lengthAdjust="spacingAndGlyphs" >In</text>
<path d="M58.3,265.9L65.4,265.9L63.3,288.3L70.1,284.8L62,300.0L53.8,284.6L60.8,288.3Z" fill="#111" stroke="#111" stroke-width="0.4" stroke-linejoin="round"/>
<text x="27.90" y="568.1" font-size="18.7" font-weight="bold" fill="#111" stroke="#111" stroke-width="0.45" textLength="69.36" lengthAdjust="spacingAndGlyphs" >Zooming</text>
<text x="55.30" y="592.5" font-size="18.7" font-weight="bold" fill="#111" stroke="#111" stroke-width="0.45" textLength="15.73" lengthAdjust="spacingAndGlyphs" >In</text>
<path d="M58.3,604.8L65.4,604.8L63.3,627.2L70.1,623.7L62,638.9L53.8,623.5L60.8,627.2Z" fill="#111" stroke="#111" stroke-width="0.4" stroke-linejoin="round"/>
<text x="595.40" y="312.0" font-size="19" font-weight="bold" fill="#111" stroke="#111" stroke-width="0.45" textLength="35.90" lengthAdjust="spacingAndGlyphs" >Cam</text>
<text x="593.50" y="336.3" font-size="19" font-weight="bold" fill="#111" stroke="#111" stroke-width="0.45" textLength="37.74" lengthAdjust="spacingAndGlyphs" >Lobe</text>
<text x="593.50" y="360.6" font-size="19" font-weight="bold" fill="#111" stroke="#111" stroke-width="0.45" textLength="39.20" lengthAdjust="spacingAndGlyphs" >Wear</text>
<path d="M550.1,331.1L564.7,323.4L562.5,329.7L584.2,327.9L584.2,334.3L562.5,332.5L564.7,338.9Z" fill="#111" stroke="#111" stroke-width="0.4" stroke-linejoin="round"/>
<text x="591.70" y="650.4" font-size="19" font-weight="bold" fill="#111" stroke="#111" stroke-width="0.45" textLength="35.13" lengthAdjust="spacingAndGlyphs" >Cam</text>
<text x="589.90" y="674.7" font-size="19" font-weight="bold" fill="#111" stroke="#111" stroke-width="0.45" textLength="37.65" lengthAdjust="spacingAndGlyphs" >Lobe</text>
<text x="589.30" y="699.0" font-size="19" font-weight="bold" fill="#111" stroke="#111" stroke-width="0.45" textLength="39.59" lengthAdjust="spacingAndGlyphs" >Wear</text>
<path d="M544.8,668.6L560.9,660.9L558.8,667.2L580.2,665.4L580.2,671.8L558.8,670.0L560.9,676.4Z" fill="#111" stroke="#111" stroke-width="0.4" stroke-linejoin="round"/>
<text font-size="19" font-weight="bold" fill="#111" stroke="#111" stroke-width="0.45"><tspan x="186.20" y="479.2" textLength="40.20" lengthAdjust="spacingAndGlyphs">ZDDP</tspan> <tspan x="232.3" y="479.2" textLength="12.5" lengthAdjust="spacingAndGlyphs">A</tspan> <tspan x="248.15" y="479.2" textLength="18.92" lengthAdjust="spacingAndGlyphs">@</tspan> <tspan x="270.80" y="479.2" textLength="43.03" lengthAdjust="spacingAndGlyphs">2,400</tspan> <tspan x="318.70" y="479.2" textLength="36.27" lengthAdjust="spacingAndGlyphs">ppm</tspan> <tspan x="361.30" y="479.2">-</tspan> <tspan x="372.30" y="479.2" textLength="18.08" lengthAdjust="spacingAndGlyphs">48</tspan> <tspan x="395.20" y="479.2" textLength="41.18" lengthAdjust="spacingAndGlyphs">units</tspan> <tspan x="441.90" y="479.2" textLength="14.21" lengthAdjust="spacingAndGlyphs">of</tspan> <tspan x="462.30" y="479.2" textLength="38.41" lengthAdjust="spacingAndGlyphs">wear</tspan></text>
<text font-size="19" font-weight="bold" fill="#111" stroke="#111" stroke-width="0.45"><tspan x="186.70" y="826.9" textLength="40.28" lengthAdjust="spacingAndGlyphs">ZDDP</tspan> <tspan x="232.10" y="826.9" textLength="11.72" lengthAdjust="spacingAndGlyphs">B</tspan> <tspan x="248.90" y="826.9" textLength="18.10" lengthAdjust="spacingAndGlyphs">@</tspan> <tspan x="271.40" y="826.9" textLength="42.84" lengthAdjust="spacingAndGlyphs">2,400</tspan> <tspan x="319.20" y="826.9" textLength="34.94" lengthAdjust="spacingAndGlyphs">ppm</tspan> <tspan x="361.30" y="826.9">-</tspan> <tspan x="371.20" y="826.9" textLength="19.84" lengthAdjust="spacingAndGlyphs">18</tspan> <tspan x="395.20" y="826.9" textLength="41.85" lengthAdjust="spacingAndGlyphs">units</tspan> <tspan x="441.30" y="826.9" textLength="15.39" lengthAdjust="spacingAndGlyphs">of</tspan> <tspan x="462.20" y="826.9" textLength="39.00" lengthAdjust="spacingAndGlyphs">wear</tspan></text>
<text font-size="19" font-weight="bold" fill="#c4843e" stroke="#c4843e" stroke-width="0.45"><tspan x="122.70" y="855" textLength="48.39" lengthAdjust="spacingAndGlyphs">62.5%</tspan> <tspan x="177.50" y="855" textLength="82.00" lengthAdjust="spacingAndGlyphs">Reduction</tspan> <tspan x="263.30" y="855" textLength="16.03" lengthAdjust="spacingAndGlyphs">in</tspan> <tspan x="283.20" y="855" textLength="39.00" lengthAdjust="spacingAndGlyphs">wear</tspan> <tspan x="327.00" y="855" textLength="19.16" lengthAdjust="spacingAndGlyphs">by</tspan> <tspan x="352.40" y="855" textLength="72.98" lengthAdjust="spacingAndGlyphs">changing</tspan> <tspan x="432.40" y="855" textLength="24.31" lengthAdjust="spacingAndGlyphs">the</tspan> <tspan x="462.40" y="855" textLength="34.49" lengthAdjust="spacingAndGlyphs">type</tspan> <tspan x="501.40" y="855" textLength="14.41" lengthAdjust="spacingAndGlyphs">of</tspan> <tspan x="521.80" y="855" textLength="41.20" lengthAdjust="spacingAndGlyphs">ZDDP</tspan></text>
</svg></body></html>
